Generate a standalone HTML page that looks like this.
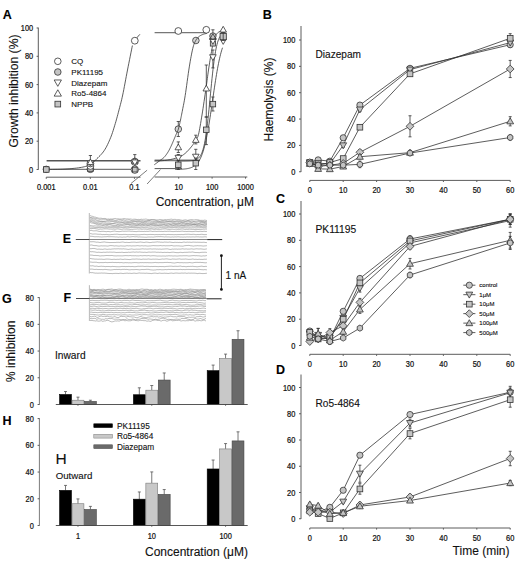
<!DOCTYPE html>
<html><head><meta charset="utf-8"><style>
html,body{margin:0;padding:0;background:#fff;}
body{width:520px;height:562px;overflow:hidden;font-family:"Liberation Sans", sans-serif;}
svg{display:block;}
text{stroke:#111;stroke-width:0.12px;}
.t{fill:#111;stroke-width:0.22px;}
</style></head><body>
<svg width="520" height="562" viewBox="0 0 520 562" font-family="'Liberation Sans', sans-serif">
<rect width="520" height="562" fill="#fff"/>
<text x="7.20" y="19.48" font-size="12.5" text-anchor="middle" font-weight="bold" fill="#000" >A</text>
<text x="267.20" y="19.17" font-size="12.5" text-anchor="middle" font-weight="bold" fill="#000" >B</text>
<text x="280.60" y="203.17" font-size="12.5" text-anchor="middle" font-weight="bold" fill="#000" >C</text>
<text x="280.60" y="373.88" font-size="12.5" text-anchor="middle" font-weight="bold" fill="#000" >D</text>
<text x="67.00" y="243.28" font-size="12.5" text-anchor="middle" font-weight="bold" fill="#000" >E</text>
<text x="67.40" y="302.28" font-size="12.5" text-anchor="middle" font-weight="bold" fill="#000" >F</text>
<text x="6.80" y="303.48" font-size="12.5" text-anchor="middle" font-weight="bold" fill="#000" >G</text>
<text x="6.90" y="425.48" font-size="12.5" text-anchor="middle" font-weight="bold" fill="#000" >H</text>
<line x1="38.30" y1="27.60" x2="38.30" y2="169.80" stroke="#5c5c5c" stroke-width="1.0" />
<line x1="36.60" y1="169.50" x2="38.30" y2="169.50" stroke="#5c5c5c" stroke-width="1.0" />
<text transform="translate(33.20,172.54) scale(0.93,1.06)" font-size="8.0" text-anchor="end" class="t">0</text>
<line x1="36.60" y1="141.20" x2="38.30" y2="141.20" stroke="#5c5c5c" stroke-width="1.0" />
<text transform="translate(33.20,144.24) scale(0.93,1.06)" font-size="8.0" text-anchor="end" class="t">20</text>
<line x1="36.60" y1="112.90" x2="38.30" y2="112.90" stroke="#5c5c5c" stroke-width="1.0" />
<text transform="translate(33.20,115.94) scale(0.93,1.06)" font-size="8.0" text-anchor="end" class="t">40</text>
<line x1="36.60" y1="84.60" x2="38.30" y2="84.60" stroke="#5c5c5c" stroke-width="1.0" />
<text transform="translate(33.20,87.64) scale(0.93,1.06)" font-size="8.0" text-anchor="end" class="t">60</text>
<line x1="36.60" y1="56.30" x2="38.30" y2="56.30" stroke="#5c5c5c" stroke-width="1.0" />
<text transform="translate(33.20,59.34) scale(0.93,1.06)" font-size="8.0" text-anchor="end" class="t">80</text>
<line x1="36.60" y1="28.00" x2="38.30" y2="28.00" stroke="#5c5c5c" stroke-width="1.0" />
<text transform="translate(33.20,31.04) scale(0.93,1.06)" font-size="8.0" text-anchor="end" class="t">100</text>
<line x1="46.25" y1="177.20" x2="140.50" y2="177.20" stroke="#5c5c5c" stroke-width="1.0" />
<line x1="154.60" y1="177.00" x2="247.30" y2="177.00" stroke="#5c5c5c" stroke-width="1.0" />
<line x1="46.25" y1="177.20" x2="46.25" y2="178.80" stroke="#5c5c5c" stroke-width="1.0" />
<text transform="translate(46.25,189.54) scale(0.93,1.06)" font-size="8.0" text-anchor="middle" class="t">0.001</text>
<line x1="90.35" y1="177.20" x2="90.35" y2="178.80" stroke="#5c5c5c" stroke-width="1.0" />
<text transform="translate(90.35,189.54) scale(0.93,1.06)" font-size="8.0" text-anchor="middle" class="t">0.01</text>
<line x1="134.45" y1="177.20" x2="134.45" y2="178.80" stroke="#5c5c5c" stroke-width="1.0" />
<text transform="translate(134.45,189.54) scale(0.93,1.06)" font-size="8.0" text-anchor="middle" class="t">0.1</text>
<line x1="178.70" y1="177.00" x2="178.70" y2="178.60" stroke="#5c5c5c" stroke-width="1.0" />
<text transform="translate(178.70,189.74) scale(0.93,1.06)" font-size="8.0" text-anchor="middle" class="t">10</text>
<line x1="212.10" y1="177.00" x2="212.10" y2="178.60" stroke="#5c5c5c" stroke-width="1.0" />
<text transform="translate(212.10,189.74) scale(0.93,1.06)" font-size="8.0" text-anchor="middle" class="t">100</text>
<line x1="245.50" y1="177.00" x2="245.50" y2="178.60" stroke="#5c5c5c" stroke-width="1.0" />
<text transform="translate(245.50,189.74) scale(0.93,1.06)" font-size="8.0" text-anchor="middle" class="t">1000</text>
<line x1="131.00" y1="183.50" x2="147.10" y2="170.20" stroke="#5c5c5c" stroke-width="0.8" />
<line x1="147.10" y1="184.00" x2="160.40" y2="169.60" stroke="#5c5c5c" stroke-width="0.8" />
<text x="155.70" y="205.80" font-size="12" text-anchor="start" font-weight="normal" fill="#111" >Concentration, μM</text>
<text transform="translate(18.3,91.0) rotate(-90)" font-size="12.2" text-anchor="middle" fill="#111">Growth inhibition (%)</text>
<line x1="46.60" y1="160.80" x2="140.50" y2="160.80" stroke="#555" stroke-width="1.6" />
<line x1="47.00" y1="169.30" x2="140.50" y2="169.30" stroke="#444" stroke-width="0.9" />
<polyline points="47.00,169.40 48.41,169.38 50.30,169.35 52.56,169.32 55.06,169.29 57.68,169.24 60.29,169.18 62.77,169.10 65.00,169.00 67.05,168.88 69.08,168.75 71.06,168.61 73.00,168.45 74.87,168.27 76.67,168.07 78.38,167.85 80.00,167.60 81.52,167.33 82.95,167.05 84.29,166.76 85.56,166.44 86.76,166.09 87.90,165.70 88.98,165.27 90.00,164.80 90.93,164.29 91.73,163.76 92.45,163.19 93.11,162.59 93.76,161.93 94.44,161.22 95.17,160.45 96.00,159.60 96.93,158.68 97.94,157.71 98.99,156.67 100.08,155.58 101.16,154.43 102.23,153.21 103.25,151.94 104.20,150.60 105.10,149.18 105.97,147.68 106.81,146.11 107.62,144.47 108.40,142.80 109.16,141.11 109.89,139.40 110.60,137.70 111.27,135.99 111.91,134.24 112.52,132.47 113.11,130.69 113.67,128.89 114.22,127.09 114.76,125.29 115.30,123.50 115.83,121.72 116.34,119.93 116.84,118.14 117.32,116.35 117.80,114.56 118.27,112.77 118.74,110.98 119.20,109.20 119.65,107.49 120.07,105.90 120.48,104.34 120.89,102.77 121.31,101.11 121.74,99.31 122.20,97.29 122.70,95.00 123.24,92.39 123.81,89.50 124.40,86.39 125.01,83.14 125.64,79.81 126.26,76.47 126.89,73.17 127.50,70.00 128.14,66.75 128.83,63.27 129.55,59.70 130.25,56.19 130.92,52.87 131.52,49.89 132.02,47.39 132.40,45.50" fill="none" stroke="#333" stroke-width="0.8" stroke-linejoin="round" />
<line x1="136.60" y1="38.00" x2="139.90" y2="34.30" stroke="#333" stroke-width="0.8" />
<line x1="154.60" y1="160.40" x2="200.00" y2="160.40" stroke="#7a7a7a" stroke-width="1.9" />
<line x1="154.60" y1="168.60" x2="182.00" y2="168.60" stroke="#444" stroke-width="0.9" />
<line x1="154.60" y1="32.70" x2="206.00" y2="32.70" stroke="#777" stroke-width="1.3" />
<polyline points="154.50,161.00 155.38,160.96 156.55,160.92 157.95,160.88 159.50,160.82 161.15,160.75 162.82,160.64 164.46,160.49 166.00,160.30 167.51,160.06 169.08,159.78 170.68,159.46 172.28,159.11 173.84,158.73 175.34,158.33 176.74,157.92 178.00,157.50 179.11,157.08 180.10,156.66 181.00,156.24 181.82,155.79 182.60,155.30 183.37,154.77 184.16,154.17 185.00,153.50 185.89,152.73 186.80,151.86 187.73,150.92 188.64,149.94 189.54,148.94 190.39,147.95 191.18,146.99 191.90,146.10 192.54,145.26 193.11,144.45 193.63,143.65 194.11,142.87 194.56,142.11 194.98,141.37 195.39,140.63 195.80,139.90 196.19,139.28 196.54,138.82 196.87,138.44 197.18,138.03 197.48,137.52 197.80,136.82 198.13,135.84 198.50,134.50 198.90,132.79 199.31,130.79 199.73,128.54 200.17,126.08 200.62,123.46 201.07,120.71 201.53,117.88 202.00,115.00 202.49,111.95 203.00,108.63 203.53,105.15 204.06,101.57 204.59,98.01 205.09,94.55 205.57,91.28 206.00,88.30 206.38,85.59 206.73,83.06 207.05,80.68 207.35,78.42 207.64,76.25 207.92,74.15 208.20,72.07 208.50,70.00 208.80,67.95 209.10,65.97 209.40,64.05 209.69,62.17 209.99,60.33 210.29,58.53 210.59,56.76 210.90,55.00 211.21,53.25 211.51,51.50 211.82,49.78 212.13,48.09 212.45,46.46 212.78,44.89 213.13,43.40 213.50,42.00 213.88,40.68 214.26,39.43 214.66,38.24 215.07,37.12 215.50,36.09 215.96,35.13 216.46,34.27 217.00,33.50 217.63,32.84 218.36,32.29 219.16,31.84 219.97,31.47 220.75,31.16 221.46,30.91 222.06,30.69 222.50,30.50" fill="none" stroke="#333" stroke-width="0.8" stroke-linejoin="round" />
<polyline points="180.00,161.00 180.50,161.00 181.00,161.00 181.50,161.00 182.00,160.99 182.50,160.99 183.00,160.99 183.50,160.99 184.00,160.98 184.50,160.98 185.00,160.97 185.50,160.96 186.00,160.96 186.50,160.95 187.00,160.93 187.50,160.92 188.00,160.91 188.50,160.89 189.00,160.87 189.50,160.84 190.00,160.81 190.50,160.78 191.00,160.74 191.50,160.69 192.00,160.64 192.50,160.57 193.00,160.50 193.50,160.41 194.00,160.31 194.50,160.19 195.00,160.04 195.50,159.88 196.00,159.68 196.50,159.46 197.00,159.19 197.50,158.88 198.00,158.52 198.50,158.10 199.00,157.60 199.50,157.03 200.00,156.36 200.50,155.59 201.00,154.70 201.50,153.66 202.00,152.47 202.50,151.10 203.00,149.53 203.50,147.75 204.00,145.71 204.50,143.42 205.00,140.84 205.50,137.96 206.00,134.76 206.50,131.25 207.00,127.42 207.50,123.28 208.00,118.85 208.50,114.17 209.00,109.27 209.50,104.21 210.00,99.04 210.50,93.84 211.00,88.66 211.50,83.57 212.00,78.64 212.50,73.91 213.00,69.42 213.50,65.23 214.00,61.33 214.50,57.75 215.00,54.50 215.50,51.55 216.00,48.91 216.50,46.56 217.00,44.48 217.50,42.64 218.00,41.03 218.50,39.63 219.00,38.40 219.50,37.34 220.00,36.42" fill="none" stroke="#333" stroke-width="0.8" stroke-linejoin="round" />
<polyline points="175.00,169.42 175.50,169.42 176.00,169.41 176.50,169.40 177.00,169.39 177.50,169.37 178.00,169.36 178.50,169.35 179.00,169.33 179.50,169.31 180.00,169.29 180.50,169.27 181.00,169.25 181.50,169.22 182.00,169.19 182.50,169.16 183.00,169.12 183.50,169.09 184.00,169.04 184.50,168.99 185.00,168.94 185.50,168.88 186.00,168.82 186.50,168.75 187.00,168.67 187.50,168.58 188.00,168.49 188.50,168.38 189.00,168.26 189.50,168.14 190.00,167.99 190.50,167.84 191.00,167.67 191.50,167.48 192.00,167.27 192.50,167.04 193.00,166.78 193.50,166.50 194.00,166.20 194.50,165.86 195.00,165.49 195.50,165.08 196.00,164.63 196.50,164.14 197.00,163.60 197.50,163.01 198.00,162.37 198.50,161.66 199.00,160.89 199.50,160.05 200.00,159.13 200.50,158.13 201.00,157.04 201.50,155.86 202.00,154.59 202.50,153.21 203.00,151.72 203.50,150.11 204.00,148.38 204.50,146.53 205.00,144.56 205.50,142.45 206.00,140.21 206.50,137.84 207.00,135.33 207.50,132.70 208.00,129.94 208.50,127.06 209.00,124.06 209.50,120.96 210.00,117.77 210.50,114.49 211.00,111.15 211.50,107.75 212.00,104.31 212.50,100.86 213.00,97.40 213.50,93.95 214.00,90.54 214.50,87.17 215.00,83.87 215.50,80.64 216.00,77.50 216.50,74.46 217.00,71.53 217.50,68.72 218.00,66.04 218.50,63.48 219.00,61.05 219.50,58.76 220.00,56.60 220.50,54.57 221.00,52.67 221.50,50.90 222.00,49.24 222.50,47.71" fill="none" stroke="#333" stroke-width="0.8" stroke-linejoin="round" />
<circle cx="46.30" cy="169.30" r="3.20" fill="#c4c4c4" stroke="#333" stroke-width="0.8"/>
<rect x="43.54" y="166.74" width="5.52" height="5.52" fill="#c4c4c4" stroke="#333" stroke-width="0.8"/>
<line x1="90.40" y1="155.50" x2="90.40" y2="160.50" stroke="#333" stroke-width="0.8" />
<line x1="88.80" y1="155.50" x2="92.00" y2="155.50" stroke="#333" stroke-width="0.8" />
<line x1="88.80" y1="160.50" x2="92.00" y2="160.50" stroke="#333" stroke-width="0.8" />
<circle cx="90.40" cy="169.20" r="3.40" fill="#c4c4c4" stroke="#333" stroke-width="0.8"/>
<rect x="87.73" y="165.93" width="5.34" height="5.34" fill="#c4c4c4" stroke="#333" stroke-width="0.8"/>
<circle cx="90.40" cy="166.00" r="3.40" fill="#ffffff" stroke="#333" stroke-width="0.8"/>
<circle cx="90.40" cy="163.50" r="3.40" fill="#ffffff" stroke="#333" stroke-width="0.8"/>
<polygon points="87.21,160.61 93.59,160.61 90.40,166.19" fill="#ffffff" stroke="#333" stroke-width="0.8"/>
<polygon points="87.21,164.59 93.59,164.59 90.40,159.01" fill="#ffffff" stroke="#333" stroke-width="0.8"/>
<line x1="134.80" y1="154.60" x2="134.80" y2="158.50" stroke="#333" stroke-width="0.8" />
<line x1="133.20" y1="154.60" x2="136.40" y2="154.60" stroke="#333" stroke-width="0.8" />
<line x1="133.20" y1="158.50" x2="136.40" y2="158.50" stroke="#333" stroke-width="0.8" />
<circle cx="134.80" cy="161.80" r="3.60" fill="#ffffff" stroke="#333" stroke-width="0.8"/>
<polygon points="131.61,163.39 137.99,163.39 134.80,157.81" fill="#ffffff" stroke="#333" stroke-width="0.8"/>
<polygon points="131.61,159.91 137.99,159.91 134.80,165.49" fill="#ffffff" stroke="#333" stroke-width="0.8"/>
<circle cx="134.80" cy="169.70" r="3.70" fill="#ffffff" stroke="#333" stroke-width="0.8"/>
<rect x="132.41" y="167.21" width="4.78" height="4.78" fill="#c4c4c4" stroke="#333" stroke-width="0.8"/>
<circle cx="134.80" cy="40.70" r="3.40" fill="#ffffff" stroke="#333" stroke-width="0.8"/>
<circle cx="178.30" cy="31.00" r="3.40" fill="#ffffff" stroke="#333" stroke-width="0.8"/>
<line x1="178.30" y1="121.50" x2="178.30" y2="136.50" stroke="#333" stroke-width="0.8" />
<line x1="176.70" y1="121.50" x2="179.90" y2="121.50" stroke="#333" stroke-width="0.8" />
<line x1="176.70" y1="136.50" x2="179.90" y2="136.50" stroke="#333" stroke-width="0.8" />
<circle cx="178.30" cy="129.10" r="3.30" fill="#d4d4d4" stroke="#333" stroke-width="0.8"/>
<line x1="178.30" y1="141.90" x2="178.30" y2="152.50" stroke="#333" stroke-width="0.8" />
<line x1="176.70" y1="141.90" x2="179.90" y2="141.90" stroke="#333" stroke-width="0.8" />
<line x1="176.70" y1="152.50" x2="179.90" y2="152.50" stroke="#333" stroke-width="0.8" />
<polygon points="175.00,149.78 181.60,149.78 178.30,144.00" fill="#ffffff" stroke="#333" stroke-width="0.8"/>
<line x1="178.30" y1="154.50" x2="178.30" y2="161.00" stroke="#333" stroke-width="0.8" />
<line x1="176.70" y1="154.50" x2="179.90" y2="154.50" stroke="#333" stroke-width="0.8" />
<line x1="176.70" y1="161.00" x2="179.90" y2="161.00" stroke="#333" stroke-width="0.8" />
<polygon points="175.00,155.33 181.60,155.33 178.30,161.10" fill="#ffffff" stroke="#333" stroke-width="0.8"/>
<line x1="178.30" y1="160.50" x2="178.30" y2="169.50" stroke="#333" stroke-width="0.8" />
<line x1="176.70" y1="160.50" x2="179.90" y2="160.50" stroke="#333" stroke-width="0.8" />
<line x1="176.70" y1="169.50" x2="179.90" y2="169.50" stroke="#333" stroke-width="0.8" />
<rect x="175.54" y="162.04" width="5.52" height="5.52" fill="#c4c4c4" stroke="#333" stroke-width="0.8"/>
<circle cx="195.90" cy="40.50" r="3.30" fill="#d4d4d4" stroke="#333" stroke-width="0.8"/>
<line x1="195.80" y1="135.20" x2="195.80" y2="143.90" stroke="#333" stroke-width="0.8" />
<line x1="194.20" y1="135.20" x2="197.40" y2="135.20" stroke="#333" stroke-width="0.8" />
<line x1="194.20" y1="143.90" x2="197.40" y2="143.90" stroke="#333" stroke-width="0.8" />
<polygon points="192.50,142.38 199.10,142.38 195.80,136.60" fill="#ffffff" stroke="#333" stroke-width="0.8"/>
<line x1="195.80" y1="149.30" x2="195.80" y2="162.00" stroke="#333" stroke-width="0.8" />
<line x1="194.20" y1="149.30" x2="197.40" y2="149.30" stroke="#333" stroke-width="0.8" />
<line x1="194.20" y1="162.00" x2="197.40" y2="162.00" stroke="#333" stroke-width="0.8" />
<polygon points="192.50,154.22 199.10,154.22 195.80,160.00" fill="#ffffff" stroke="#333" stroke-width="0.8"/>
<line x1="195.80" y1="158.00" x2="195.80" y2="169.50" stroke="#333" stroke-width="0.8" />
<line x1="194.20" y1="158.00" x2="197.40" y2="158.00" stroke="#333" stroke-width="0.8" />
<line x1="194.20" y1="169.50" x2="197.40" y2="169.50" stroke="#333" stroke-width="0.8" />
<rect x="193.04" y="160.44" width="5.52" height="5.52" fill="#c4c4c4" stroke="#333" stroke-width="0.8"/>
<circle cx="206.30" cy="29.80" r="3.40" fill="#ffffff" stroke="#333" stroke-width="0.8"/>
<line x1="206.30" y1="65.00" x2="206.30" y2="117.00" stroke="#333" stroke-width="0.8" />
<line x1="204.70" y1="65.00" x2="207.90" y2="65.00" stroke="#333" stroke-width="0.8" />
<line x1="204.70" y1="117.00" x2="207.90" y2="117.00" stroke="#333" stroke-width="0.8" />
<polygon points="203.00,90.97 209.60,90.97 206.30,85.20" fill="#ffffff" stroke="#333" stroke-width="0.8"/>
<line x1="206.30" y1="117.00" x2="206.30" y2="144.60" stroke="#333" stroke-width="0.8" />
<line x1="204.70" y1="117.00" x2="207.90" y2="117.00" stroke="#333" stroke-width="0.8" />
<line x1="204.70" y1="144.60" x2="207.90" y2="144.60" stroke="#333" stroke-width="0.8" />
<rect x="203.54" y="127.04" width="5.52" height="5.52" fill="#c4c4c4" stroke="#333" stroke-width="0.8"/>
<line x1="212.90" y1="29.80" x2="212.90" y2="37.00" stroke="#333" stroke-width="0.8" />
<line x1="211.30" y1="29.80" x2="214.50" y2="29.80" stroke="#333" stroke-width="0.8" />
<line x1="211.30" y1="37.00" x2="214.50" y2="37.00" stroke="#333" stroke-width="0.8" />
<line x1="212.90" y1="50.00" x2="212.90" y2="67.90" stroke="#333" stroke-width="0.8" />
<line x1="211.30" y1="50.00" x2="214.50" y2="50.00" stroke="#333" stroke-width="0.8" />
<line x1="211.30" y1="67.90" x2="214.50" y2="67.90" stroke="#333" stroke-width="0.8" />
<polygon points="209.60,54.73 216.20,54.73 212.90,60.50" fill="#ffffff" stroke="#333" stroke-width="0.8"/>
<line x1="212.90" y1="97.00" x2="212.90" y2="111.00" stroke="#333" stroke-width="0.8" />
<line x1="211.30" y1="97.00" x2="214.50" y2="97.00" stroke="#333" stroke-width="0.8" />
<line x1="211.30" y1="111.00" x2="214.50" y2="111.00" stroke="#333" stroke-width="0.8" />
<rect x="210.14" y="101.34" width="5.52" height="5.52" fill="#c4c4c4" stroke="#333" stroke-width="0.8"/>
<rect x="210.32" y="40.92" width="5.15" height="5.15" fill="#c4c4c4" stroke="#333" stroke-width="0.8"/>
<polygon points="209.60,38.52 216.20,38.52 212.90,44.30" fill="#ffffff" stroke="#333" stroke-width="0.8"/>
<circle cx="212.90" cy="36.00" r="3.20" fill="#c4c4c4" stroke="#333" stroke-width="0.8"/>
<polygon points="209.60,39.48 216.20,39.48 212.90,33.70" fill="none" stroke="#333" stroke-width="0.8"/>
<polygon points="220.12,38.99 226.28,38.99 223.20,44.38" fill="#ffffff" stroke="#333" stroke-width="0.8"/>
<rect x="220.07" y="33.47" width="6.26" height="6.26" fill="#c4c4c4" stroke="#333" stroke-width="0.8"/>
<line x1="223.20" y1="32.50" x2="223.20" y2="40.50" stroke="#333" stroke-width="0.8" />
<line x1="221.00" y1="32.50" x2="225.40" y2="32.50" stroke="#333" stroke-width="0.8" />
<line x1="221.00" y1="40.50" x2="225.40" y2="40.50" stroke="#333" stroke-width="0.8" />
<polygon points="219.90,32.08 226.50,32.08 223.20,26.30" fill="#ffffff" stroke="#333" stroke-width="0.8"/>
<polyline points="154.20,164.80 154.69,164.44 155.37,163.94 156.17,163.35 157.05,162.70 157.96,162.02 158.86,161.36 159.69,160.74 160.40,160.20 161.01,159.75 161.55,159.36 162.06,159.00 162.54,158.66 163.00,158.31 163.45,157.94 163.92,157.51 164.40,157.00 164.91,156.42 165.42,155.79 165.94,155.11 166.45,154.40 166.96,153.66 167.46,152.91 167.94,152.15 168.40,151.40 168.84,150.63 169.28,149.84 169.69,149.02 170.10,148.20 170.49,147.38 170.88,146.56 171.24,145.77 171.60,145.00 171.94,144.26 172.26,143.54 172.56,142.84 172.85,142.15 173.14,141.46 173.42,140.78 173.71,140.09 174.00,139.40 174.30,138.69 174.61,137.98 174.92,137.26 175.22,136.55 175.53,135.84 175.83,135.14 176.12,134.46 176.40,133.80 176.67,133.19 176.93,132.64 177.17,132.13 177.42,131.61 177.66,131.07 177.90,130.48 178.15,129.80 178.40,129.00 178.66,128.08 178.92,127.07 179.18,125.98 179.45,124.83 179.72,123.63 179.98,122.42 180.24,121.20 180.50,120.00 180.75,118.83 180.99,117.68 181.23,116.52 181.46,115.34 181.70,114.12 181.95,112.84 182.22,111.47 182.50,110.00 182.79,108.50 183.09,107.02 183.40,105.51 183.72,103.91 184.05,102.17 184.41,100.22 184.79,98.02 185.20,95.50 185.65,92.53 186.14,89.10 186.66,85.36 187.20,81.45 187.74,77.50 188.28,73.67 188.81,70.09 189.30,66.90 189.77,64.03 190.23,61.31 190.68,58.75 191.13,56.35 191.56,54.11 191.98,52.04 192.40,50.13 192.80,48.40 193.19,46.89 193.55,45.61 193.91,44.53 194.25,43.61 194.59,42.79 194.95,42.05 195.31,41.33 195.70,40.60 196.10,39.89 196.51,39.25 196.93,38.67 197.36,38.15 197.80,37.67 198.25,37.23 198.72,36.80 199.20,36.40 199.70,36.02 200.24,35.68 200.79,35.37 201.35,35.09 201.91,34.83 202.46,34.60 203.00,34.39 203.50,34.20 204.00,34.03 204.51,33.88 205.02,33.76 205.52,33.66 205.98,33.58 206.39,33.51 206.74,33.45 207.00,33.40" fill="none" stroke="#333" stroke-width="0.8" stroke-linejoin="round" />
<circle cx="57.80" cy="61.30" r="3.30" fill="#ffffff" stroke="#333" stroke-width="0.8"/>
<text x="71.30" y="64.16" font-size="8" text-anchor="start" font-weight="normal" fill="#111" >CQ</text>
<circle cx="57.80" cy="72.00" r="3.30" fill="#c4c4c4" stroke="#333" stroke-width="0.8"/>
<text x="71.30" y="74.86" font-size="8" text-anchor="start" font-weight="normal" fill="#111" >PK11195</text>
<polygon points="54.17,79.98 61.43,79.98 57.80,86.33" fill="#ffffff" stroke="#333" stroke-width="0.8"/>
<text x="71.30" y="85.56" font-size="8" text-anchor="start" font-weight="normal" fill="#111" >Diazepam</text>
<polygon points="54.17,96.12 61.43,96.12 57.80,89.77" fill="#ffffff" stroke="#333" stroke-width="0.8"/>
<text x="71.30" y="96.26" font-size="8" text-anchor="start" font-weight="normal" fill="#111" >Ro5-4864</text>
<rect x="54.95" y="101.25" width="5.70" height="5.70" fill="#c4c4c4" stroke="#333" stroke-width="0.8"/>
<text x="71.30" y="106.96" font-size="8" text-anchor="start" font-weight="normal" fill="#111" >NPPB</text>
<line x1="301.00" y1="26.00" x2="301.00" y2="172.05" stroke="#5c5c5c" stroke-width="1.0" />
<line x1="299.00" y1="171.75" x2="301.00" y2="171.75" stroke="#5c5c5c" stroke-width="1.0" />
<text transform="translate(295.30,174.79) scale(0.93,1.06)" font-size="8.0" text-anchor="end" class="t">0</text>
<line x1="299.00" y1="145.40" x2="301.00" y2="145.40" stroke="#5c5c5c" stroke-width="1.0" />
<text transform="translate(295.30,148.44) scale(0.93,1.06)" font-size="8.0" text-anchor="end" class="t">20</text>
<line x1="299.00" y1="119.05" x2="301.00" y2="119.05" stroke="#5c5c5c" stroke-width="1.0" />
<text transform="translate(295.30,122.09) scale(0.93,1.06)" font-size="8.0" text-anchor="end" class="t">40</text>
<line x1="299.00" y1="92.70" x2="301.00" y2="92.70" stroke="#5c5c5c" stroke-width="1.0" />
<text transform="translate(295.30,95.74) scale(0.93,1.06)" font-size="8.0" text-anchor="end" class="t">60</text>
<line x1="299.00" y1="66.35" x2="301.00" y2="66.35" stroke="#5c5c5c" stroke-width="1.0" />
<text transform="translate(295.30,69.39) scale(0.93,1.06)" font-size="8.0" text-anchor="end" class="t">80</text>
<line x1="299.00" y1="40.00" x2="301.00" y2="40.00" stroke="#5c5c5c" stroke-width="1.0" />
<text transform="translate(295.30,43.04) scale(0.93,1.06)" font-size="8.0" text-anchor="end" class="t">100</text>
<line x1="309.80" y1="180.40" x2="510.20" y2="180.40" stroke="#5c5c5c" stroke-width="1.0" />
<line x1="309.80" y1="180.40" x2="309.80" y2="182.00" stroke="#5c5c5c" stroke-width="1.0" />
<text transform="translate(309.80,193.44) scale(0.93,1.06)" font-size="8.0" text-anchor="middle" class="t">0</text>
<line x1="343.20" y1="180.40" x2="343.20" y2="182.00" stroke="#5c5c5c" stroke-width="1.0" />
<text transform="translate(343.20,193.44) scale(0.93,1.06)" font-size="8.0" text-anchor="middle" class="t">10</text>
<line x1="376.60" y1="180.40" x2="376.60" y2="182.00" stroke="#5c5c5c" stroke-width="1.0" />
<text transform="translate(376.60,193.44) scale(0.93,1.06)" font-size="8.0" text-anchor="middle" class="t">20</text>
<line x1="410.00" y1="180.40" x2="410.00" y2="182.00" stroke="#5c5c5c" stroke-width="1.0" />
<text transform="translate(410.00,193.44) scale(0.93,1.06)" font-size="8.0" text-anchor="middle" class="t">30</text>
<line x1="443.40" y1="180.40" x2="443.40" y2="182.00" stroke="#5c5c5c" stroke-width="1.0" />
<text transform="translate(443.40,193.44) scale(0.93,1.06)" font-size="8.0" text-anchor="middle" class="t">40</text>
<line x1="476.80" y1="180.40" x2="476.80" y2="182.00" stroke="#5c5c5c" stroke-width="1.0" />
<text transform="translate(476.80,193.44) scale(0.93,1.06)" font-size="8.0" text-anchor="middle" class="t">50</text>
<line x1="510.20" y1="180.40" x2="510.20" y2="182.00" stroke="#5c5c5c" stroke-width="1.0" />
<text transform="translate(510.20,193.44) scale(0.93,1.06)" font-size="8.0" text-anchor="middle" class="t">60</text>
<polyline points="309.80,162.53 318.15,159.89 329.84,161.21 343.20,137.76 359.90,105.08 410.00,68.33 510.20,44.74" fill="none" stroke="#333" stroke-width="0.8" stroke-linejoin="round" />
<polyline points="309.80,162.53 318.15,163.19 329.84,163.84 343.20,145.40 359.90,109.56 410.00,69.64 510.20,42.64" fill="none" stroke="#333" stroke-width="0.8" stroke-linejoin="round" />
<polyline points="309.80,162.53 318.15,165.16 329.84,162.53 343.20,158.57 359.90,127.22 410.00,73.86 510.20,38.29" fill="none" stroke="#333" stroke-width="0.8" stroke-linejoin="round" />
<polyline points="309.80,162.53 318.15,166.48 329.84,165.16 343.20,163.45 359.90,152.25 410.00,126.30 510.20,68.99" fill="none" stroke="#333" stroke-width="0.8" stroke-linejoin="round" />
<polyline points="309.80,163.84 318.15,168.85 329.84,169.12 343.20,166.48 359.90,156.73 410.00,152.65 510.20,121.29" fill="none" stroke="#333" stroke-width="0.8" stroke-linejoin="round" />
<polyline points="309.80,163.84 318.15,165.16 329.84,165.16 343.20,165.16 359.90,164.37 410.00,153.04 510.20,137.50" fill="none" stroke="#333" stroke-width="0.8" stroke-linejoin="round" />
<line x1="309.80" y1="161.21" x2="309.80" y2="163.84" stroke="#333" stroke-width="0.8" />
<line x1="308.30" y1="161.21" x2="311.30" y2="161.21" stroke="#333" stroke-width="0.8" />
<line x1="308.30" y1="163.84" x2="311.30" y2="163.84" stroke="#333" stroke-width="0.8" />
<line x1="318.15" y1="158.57" x2="318.15" y2="161.21" stroke="#333" stroke-width="0.8" />
<line x1="316.65" y1="158.57" x2="319.65" y2="158.57" stroke="#333" stroke-width="0.8" />
<line x1="316.65" y1="161.21" x2="319.65" y2="161.21" stroke="#333" stroke-width="0.8" />
<line x1="329.84" y1="159.89" x2="329.84" y2="162.53" stroke="#333" stroke-width="0.8" />
<line x1="328.34" y1="159.89" x2="331.34" y2="159.89" stroke="#333" stroke-width="0.8" />
<line x1="328.34" y1="162.53" x2="331.34" y2="162.53" stroke="#333" stroke-width="0.8" />
<line x1="343.20" y1="136.44" x2="343.20" y2="139.08" stroke="#333" stroke-width="0.8" />
<line x1="341.70" y1="136.44" x2="344.70" y2="136.44" stroke="#333" stroke-width="0.8" />
<line x1="341.70" y1="139.08" x2="344.70" y2="139.08" stroke="#333" stroke-width="0.8" />
<line x1="359.90" y1="103.11" x2="359.90" y2="107.06" stroke="#333" stroke-width="0.8" />
<line x1="358.40" y1="103.11" x2="361.40" y2="103.11" stroke="#333" stroke-width="0.8" />
<line x1="358.40" y1="107.06" x2="361.40" y2="107.06" stroke="#333" stroke-width="0.8" />
<line x1="410.00" y1="66.35" x2="410.00" y2="70.30" stroke="#333" stroke-width="0.8" />
<line x1="408.50" y1="66.35" x2="411.50" y2="66.35" stroke="#333" stroke-width="0.8" />
<line x1="408.50" y1="70.30" x2="411.50" y2="70.30" stroke="#333" stroke-width="0.8" />
<line x1="510.20" y1="42.11" x2="510.20" y2="47.38" stroke="#333" stroke-width="0.8" />
<line x1="508.70" y1="42.11" x2="511.70" y2="42.11" stroke="#333" stroke-width="0.8" />
<line x1="508.70" y1="47.38" x2="511.70" y2="47.38" stroke="#333" stroke-width="0.8" />
<line x1="309.80" y1="161.21" x2="309.80" y2="163.84" stroke="#333" stroke-width="0.8" />
<line x1="308.30" y1="161.21" x2="311.30" y2="161.21" stroke="#333" stroke-width="0.8" />
<line x1="308.30" y1="163.84" x2="311.30" y2="163.84" stroke="#333" stroke-width="0.8" />
<line x1="318.15" y1="161.87" x2="318.15" y2="164.50" stroke="#333" stroke-width="0.8" />
<line x1="316.65" y1="161.87" x2="319.65" y2="161.87" stroke="#333" stroke-width="0.8" />
<line x1="316.65" y1="164.50" x2="319.65" y2="164.50" stroke="#333" stroke-width="0.8" />
<line x1="329.84" y1="162.53" x2="329.84" y2="165.16" stroke="#333" stroke-width="0.8" />
<line x1="328.34" y1="162.53" x2="331.34" y2="162.53" stroke="#333" stroke-width="0.8" />
<line x1="328.34" y1="165.16" x2="331.34" y2="165.16" stroke="#333" stroke-width="0.8" />
<line x1="343.20" y1="143.42" x2="343.20" y2="147.38" stroke="#333" stroke-width="0.8" />
<line x1="341.70" y1="143.42" x2="344.70" y2="143.42" stroke="#333" stroke-width="0.8" />
<line x1="341.70" y1="147.38" x2="344.70" y2="147.38" stroke="#333" stroke-width="0.8" />
<line x1="359.90" y1="107.59" x2="359.90" y2="111.54" stroke="#333" stroke-width="0.8" />
<line x1="358.40" y1="107.59" x2="361.40" y2="107.59" stroke="#333" stroke-width="0.8" />
<line x1="358.40" y1="111.54" x2="361.40" y2="111.54" stroke="#333" stroke-width="0.8" />
<line x1="410.00" y1="67.67" x2="410.00" y2="71.62" stroke="#333" stroke-width="0.8" />
<line x1="408.50" y1="67.67" x2="411.50" y2="67.67" stroke="#333" stroke-width="0.8" />
<line x1="408.50" y1="71.62" x2="411.50" y2="71.62" stroke="#333" stroke-width="0.8" />
<line x1="510.20" y1="40.00" x2="510.20" y2="45.27" stroke="#333" stroke-width="0.8" />
<line x1="508.70" y1="40.00" x2="511.70" y2="40.00" stroke="#333" stroke-width="0.8" />
<line x1="508.70" y1="45.27" x2="511.70" y2="45.27" stroke="#333" stroke-width="0.8" />
<line x1="309.80" y1="161.21" x2="309.80" y2="163.84" stroke="#333" stroke-width="0.8" />
<line x1="308.30" y1="161.21" x2="311.30" y2="161.21" stroke="#333" stroke-width="0.8" />
<line x1="308.30" y1="163.84" x2="311.30" y2="163.84" stroke="#333" stroke-width="0.8" />
<line x1="318.15" y1="163.84" x2="318.15" y2="166.48" stroke="#333" stroke-width="0.8" />
<line x1="316.65" y1="163.84" x2="319.65" y2="163.84" stroke="#333" stroke-width="0.8" />
<line x1="316.65" y1="166.48" x2="319.65" y2="166.48" stroke="#333" stroke-width="0.8" />
<line x1="329.84" y1="161.21" x2="329.84" y2="163.84" stroke="#333" stroke-width="0.8" />
<line x1="328.34" y1="161.21" x2="331.34" y2="161.21" stroke="#333" stroke-width="0.8" />
<line x1="328.34" y1="163.84" x2="331.34" y2="163.84" stroke="#333" stroke-width="0.8" />
<line x1="343.20" y1="157.26" x2="343.20" y2="159.89" stroke="#333" stroke-width="0.8" />
<line x1="341.70" y1="157.26" x2="344.70" y2="157.26" stroke="#333" stroke-width="0.8" />
<line x1="341.70" y1="159.89" x2="344.70" y2="159.89" stroke="#333" stroke-width="0.8" />
<line x1="359.90" y1="125.24" x2="359.90" y2="129.19" stroke="#333" stroke-width="0.8" />
<line x1="358.40" y1="125.24" x2="361.40" y2="125.24" stroke="#333" stroke-width="0.8" />
<line x1="358.40" y1="129.19" x2="361.40" y2="129.19" stroke="#333" stroke-width="0.8" />
<line x1="410.00" y1="71.88" x2="410.00" y2="75.84" stroke="#333" stroke-width="0.8" />
<line x1="408.50" y1="71.88" x2="411.50" y2="71.88" stroke="#333" stroke-width="0.8" />
<line x1="408.50" y1="75.84" x2="411.50" y2="75.84" stroke="#333" stroke-width="0.8" />
<line x1="510.20" y1="33.68" x2="510.20" y2="42.90" stroke="#333" stroke-width="0.8" />
<line x1="508.70" y1="33.68" x2="511.70" y2="33.68" stroke="#333" stroke-width="0.8" />
<line x1="508.70" y1="42.90" x2="511.70" y2="42.90" stroke="#333" stroke-width="0.8" />
<line x1="309.80" y1="161.21" x2="309.80" y2="163.84" stroke="#333" stroke-width="0.8" />
<line x1="308.30" y1="161.21" x2="311.30" y2="161.21" stroke="#333" stroke-width="0.8" />
<line x1="308.30" y1="163.84" x2="311.30" y2="163.84" stroke="#333" stroke-width="0.8" />
<line x1="318.15" y1="165.16" x2="318.15" y2="167.80" stroke="#333" stroke-width="0.8" />
<line x1="316.65" y1="165.16" x2="319.65" y2="165.16" stroke="#333" stroke-width="0.8" />
<line x1="316.65" y1="167.80" x2="319.65" y2="167.80" stroke="#333" stroke-width="0.8" />
<line x1="329.84" y1="163.84" x2="329.84" y2="166.48" stroke="#333" stroke-width="0.8" />
<line x1="328.34" y1="163.84" x2="331.34" y2="163.84" stroke="#333" stroke-width="0.8" />
<line x1="328.34" y1="166.48" x2="331.34" y2="166.48" stroke="#333" stroke-width="0.8" />
<line x1="343.20" y1="162.13" x2="343.20" y2="164.77" stroke="#333" stroke-width="0.8" />
<line x1="341.70" y1="162.13" x2="344.70" y2="162.13" stroke="#333" stroke-width="0.8" />
<line x1="341.70" y1="164.77" x2="344.70" y2="164.77" stroke="#333" stroke-width="0.8" />
<line x1="359.90" y1="149.62" x2="359.90" y2="154.89" stroke="#333" stroke-width="0.8" />
<line x1="358.40" y1="149.62" x2="361.40" y2="149.62" stroke="#333" stroke-width="0.8" />
<line x1="358.40" y1="154.89" x2="361.40" y2="154.89" stroke="#333" stroke-width="0.8" />
<line x1="410.00" y1="115.76" x2="410.00" y2="136.84" stroke="#333" stroke-width="0.8" />
<line x1="408.50" y1="115.76" x2="411.50" y2="115.76" stroke="#333" stroke-width="0.8" />
<line x1="408.50" y1="136.84" x2="411.50" y2="136.84" stroke="#333" stroke-width="0.8" />
<line x1="510.20" y1="60.42" x2="510.20" y2="77.55" stroke="#333" stroke-width="0.8" />
<line x1="508.70" y1="60.42" x2="511.70" y2="60.42" stroke="#333" stroke-width="0.8" />
<line x1="508.70" y1="77.55" x2="511.70" y2="77.55" stroke="#333" stroke-width="0.8" />
<line x1="309.80" y1="162.53" x2="309.80" y2="165.16" stroke="#333" stroke-width="0.8" />
<line x1="308.30" y1="162.53" x2="311.30" y2="162.53" stroke="#333" stroke-width="0.8" />
<line x1="308.30" y1="165.16" x2="311.30" y2="165.16" stroke="#333" stroke-width="0.8" />
<line x1="318.15" y1="167.53" x2="318.15" y2="170.17" stroke="#333" stroke-width="0.8" />
<line x1="316.65" y1="167.53" x2="319.65" y2="167.53" stroke="#333" stroke-width="0.8" />
<line x1="316.65" y1="170.17" x2="319.65" y2="170.17" stroke="#333" stroke-width="0.8" />
<line x1="329.84" y1="167.80" x2="329.84" y2="170.43" stroke="#333" stroke-width="0.8" />
<line x1="328.34" y1="167.80" x2="331.34" y2="167.80" stroke="#333" stroke-width="0.8" />
<line x1="328.34" y1="170.43" x2="331.34" y2="170.43" stroke="#333" stroke-width="0.8" />
<line x1="343.20" y1="165.16" x2="343.20" y2="167.80" stroke="#333" stroke-width="0.8" />
<line x1="341.70" y1="165.16" x2="344.70" y2="165.16" stroke="#333" stroke-width="0.8" />
<line x1="341.70" y1="167.80" x2="344.70" y2="167.80" stroke="#333" stroke-width="0.8" />
<line x1="359.90" y1="154.75" x2="359.90" y2="158.71" stroke="#333" stroke-width="0.8" />
<line x1="358.40" y1="154.75" x2="361.40" y2="154.75" stroke="#333" stroke-width="0.8" />
<line x1="358.40" y1="158.71" x2="361.40" y2="158.71" stroke="#333" stroke-width="0.8" />
<line x1="410.00" y1="150.67" x2="410.00" y2="154.62" stroke="#333" stroke-width="0.8" />
<line x1="408.50" y1="150.67" x2="411.50" y2="150.67" stroke="#333" stroke-width="0.8" />
<line x1="408.50" y1="154.62" x2="411.50" y2="154.62" stroke="#333" stroke-width="0.8" />
<line x1="510.20" y1="116.68" x2="510.20" y2="125.90" stroke="#333" stroke-width="0.8" />
<line x1="508.70" y1="116.68" x2="511.70" y2="116.68" stroke="#333" stroke-width="0.8" />
<line x1="508.70" y1="125.90" x2="511.70" y2="125.90" stroke="#333" stroke-width="0.8" />
<line x1="309.80" y1="162.53" x2="309.80" y2="165.16" stroke="#333" stroke-width="0.8" />
<line x1="308.30" y1="162.53" x2="311.30" y2="162.53" stroke="#333" stroke-width="0.8" />
<line x1="308.30" y1="165.16" x2="311.30" y2="165.16" stroke="#333" stroke-width="0.8" />
<line x1="318.15" y1="163.84" x2="318.15" y2="166.48" stroke="#333" stroke-width="0.8" />
<line x1="316.65" y1="163.84" x2="319.65" y2="163.84" stroke="#333" stroke-width="0.8" />
<line x1="316.65" y1="166.48" x2="319.65" y2="166.48" stroke="#333" stroke-width="0.8" />
<line x1="329.84" y1="163.84" x2="329.84" y2="166.48" stroke="#333" stroke-width="0.8" />
<line x1="328.34" y1="163.84" x2="331.34" y2="163.84" stroke="#333" stroke-width="0.8" />
<line x1="328.34" y1="166.48" x2="331.34" y2="166.48" stroke="#333" stroke-width="0.8" />
<line x1="343.20" y1="163.84" x2="343.20" y2="166.48" stroke="#333" stroke-width="0.8" />
<line x1="341.70" y1="163.84" x2="344.70" y2="163.84" stroke="#333" stroke-width="0.8" />
<line x1="341.70" y1="166.48" x2="344.70" y2="166.48" stroke="#333" stroke-width="0.8" />
<line x1="359.90" y1="161.08" x2="359.90" y2="167.67" stroke="#333" stroke-width="0.8" />
<line x1="358.40" y1="161.08" x2="361.40" y2="161.08" stroke="#333" stroke-width="0.8" />
<line x1="358.40" y1="167.67" x2="361.40" y2="167.67" stroke="#333" stroke-width="0.8" />
<line x1="410.00" y1="150.41" x2="410.00" y2="155.68" stroke="#333" stroke-width="0.8" />
<line x1="408.50" y1="150.41" x2="411.50" y2="150.41" stroke="#333" stroke-width="0.8" />
<line x1="408.50" y1="155.68" x2="411.50" y2="155.68" stroke="#333" stroke-width="0.8" />
<line x1="510.20" y1="134.86" x2="510.20" y2="140.13" stroke="#333" stroke-width="0.8" />
<line x1="508.70" y1="134.86" x2="511.70" y2="134.86" stroke="#333" stroke-width="0.8" />
<line x1="508.70" y1="140.13" x2="511.70" y2="140.13" stroke="#333" stroke-width="0.8" />
<circle cx="309.80" cy="162.53" r="3.10" fill="#c4c4c4" stroke="#333" stroke-width="0.8"/>
<circle cx="318.15" cy="159.89" r="3.10" fill="#c4c4c4" stroke="#333" stroke-width="0.8"/>
<circle cx="329.84" cy="161.21" r="3.10" fill="#c4c4c4" stroke="#333" stroke-width="0.8"/>
<circle cx="343.20" cy="137.76" r="3.10" fill="#c4c4c4" stroke="#333" stroke-width="0.8"/>
<circle cx="359.90" cy="105.08" r="3.10" fill="#c4c4c4" stroke="#333" stroke-width="0.8"/>
<circle cx="410.00" cy="68.33" r="3.10" fill="#c4c4c4" stroke="#333" stroke-width="0.8"/>
<circle cx="510.20" cy="44.74" r="3.10" fill="#c4c4c4" stroke="#333" stroke-width="0.8"/>
<polygon points="306.39,159.97 313.21,159.97 309.80,165.94" fill="#c4c4c4" stroke="#333" stroke-width="0.8"/>
<polygon points="314.74,160.63 321.56,160.63 318.15,166.60" fill="#c4c4c4" stroke="#333" stroke-width="0.8"/>
<polygon points="326.43,161.29 333.25,161.29 329.84,167.25" fill="#c4c4c4" stroke="#333" stroke-width="0.8"/>
<polygon points="339.79,142.84 346.61,142.84 343.20,148.81" fill="#c4c4c4" stroke="#333" stroke-width="0.8"/>
<polygon points="356.49,107.01 363.31,107.01 359.90,112.97" fill="#c4c4c4" stroke="#333" stroke-width="0.8"/>
<polygon points="406.59,67.09 413.41,67.09 410.00,73.05" fill="#c4c4c4" stroke="#333" stroke-width="0.8"/>
<polygon points="506.79,40.08 513.61,40.08 510.20,46.05" fill="#c4c4c4" stroke="#333" stroke-width="0.8"/>
<rect x="306.95" y="159.68" width="5.70" height="5.70" fill="#c4c4c4" stroke="#333" stroke-width="0.8"/>
<rect x="315.30" y="162.31" width="5.70" height="5.70" fill="#c4c4c4" stroke="#333" stroke-width="0.8"/>
<rect x="326.99" y="159.68" width="5.70" height="5.70" fill="#c4c4c4" stroke="#333" stroke-width="0.8"/>
<rect x="340.35" y="155.72" width="5.70" height="5.70" fill="#c4c4c4" stroke="#333" stroke-width="0.8"/>
<rect x="357.05" y="124.37" width="5.70" height="5.70" fill="#c4c4c4" stroke="#333" stroke-width="0.8"/>
<rect x="407.15" y="71.01" width="5.70" height="5.70" fill="#c4c4c4" stroke="#333" stroke-width="0.8"/>
<rect x="507.35" y="35.44" width="5.70" height="5.70" fill="#c4c4c4" stroke="#333" stroke-width="0.8"/>
<polygon points="309.80,158.65 313.68,162.53 309.80,166.40 305.93,162.53" fill="#c4c4c4" stroke="#333" stroke-width="0.8"/>
<polygon points="318.15,162.60 322.03,166.48 318.15,170.35 314.28,166.48" fill="#c4c4c4" stroke="#333" stroke-width="0.8"/>
<polygon points="329.84,161.29 333.72,165.16 329.84,169.04 325.97,165.16" fill="#c4c4c4" stroke="#333" stroke-width="0.8"/>
<polygon points="343.20,159.57 347.07,163.45 343.20,167.32 339.32,163.45" fill="#c4c4c4" stroke="#333" stroke-width="0.8"/>
<polygon points="359.90,148.38 363.77,152.25 359.90,156.13 356.02,152.25" fill="#c4c4c4" stroke="#333" stroke-width="0.8"/>
<polygon points="410.00,122.42 413.88,126.30 410.00,130.17 406.12,126.30" fill="#c4c4c4" stroke="#333" stroke-width="0.8"/>
<polygon points="510.20,65.11 514.08,68.99 510.20,72.86 506.32,68.99" fill="#c4c4c4" stroke="#333" stroke-width="0.8"/>
<polygon points="306.39,166.40 313.21,166.40 309.80,160.44" fill="#c4c4c4" stroke="#333" stroke-width="0.8"/>
<polygon points="314.74,171.41 321.56,171.41 318.15,165.44" fill="#c4c4c4" stroke="#333" stroke-width="0.8"/>
<polygon points="326.43,171.67 333.25,171.67 329.84,165.71" fill="#c4c4c4" stroke="#333" stroke-width="0.8"/>
<polygon points="339.79,169.04 346.61,169.04 343.20,163.07" fill="#c4c4c4" stroke="#333" stroke-width="0.8"/>
<polygon points="356.49,159.29 363.31,159.29 359.90,153.32" fill="#c4c4c4" stroke="#333" stroke-width="0.8"/>
<polygon points="406.59,155.20 413.41,155.20 410.00,149.24" fill="#c4c4c4" stroke="#333" stroke-width="0.8"/>
<polygon points="506.79,123.85 513.61,123.85 510.20,117.88" fill="#c4c4c4" stroke="#333" stroke-width="0.8"/>
<polygon points="309.80,166.94 307.12,165.40 307.12,162.29 309.80,160.75 312.48,162.29 312.48,165.40" fill="#c4c4c4" stroke="#333" stroke-width="0.8"/>
<polygon points="318.15,168.26 315.47,166.71 315.47,163.61 318.15,162.06 320.83,163.61 320.83,166.71" fill="#c4c4c4" stroke="#333" stroke-width="0.8"/>
<polygon points="329.84,168.26 327.16,166.71 327.16,163.61 329.84,162.06 332.52,163.61 332.52,166.71" fill="#c4c4c4" stroke="#333" stroke-width="0.8"/>
<polygon points="343.20,168.26 340.52,166.71 340.52,163.61 343.20,162.06 345.88,163.61 345.88,166.71" fill="#c4c4c4" stroke="#333" stroke-width="0.8"/>
<polygon points="359.90,167.47 357.22,165.92 357.22,162.82 359.90,161.27 362.58,162.82 362.58,165.92" fill="#c4c4c4" stroke="#333" stroke-width="0.8"/>
<polygon points="410.00,156.14 407.32,154.59 407.32,151.49 410.00,149.94 412.68,151.49 412.68,154.59" fill="#c4c4c4" stroke="#333" stroke-width="0.8"/>
<polygon points="510.20,140.59 507.52,139.05 507.52,135.94 510.20,134.40 512.88,135.94 512.88,139.05" fill="#c4c4c4" stroke="#333" stroke-width="0.8"/>
<text x="315.50" y="58.22" font-size="10.1" text-anchor="start" font-weight="normal" fill="#111" >Diazepam</text>
<line x1="301.00" y1="201.00" x2="301.00" y2="345.80" stroke="#5c5c5c" stroke-width="1.0" />
<line x1="299.00" y1="345.50" x2="301.00" y2="345.50" stroke="#5c5c5c" stroke-width="1.0" />
<text transform="translate(295.30,348.54) scale(0.93,1.06)" font-size="8.0" text-anchor="end" class="t">0</text>
<line x1="299.00" y1="319.20" x2="301.00" y2="319.20" stroke="#5c5c5c" stroke-width="1.0" />
<text transform="translate(295.30,322.24) scale(0.93,1.06)" font-size="8.0" text-anchor="end" class="t">20</text>
<line x1="299.00" y1="292.90" x2="301.00" y2="292.90" stroke="#5c5c5c" stroke-width="1.0" />
<text transform="translate(295.30,295.94) scale(0.93,1.06)" font-size="8.0" text-anchor="end" class="t">40</text>
<line x1="299.00" y1="266.60" x2="301.00" y2="266.60" stroke="#5c5c5c" stroke-width="1.0" />
<text transform="translate(295.30,269.64) scale(0.93,1.06)" font-size="8.0" text-anchor="end" class="t">60</text>
<line x1="299.00" y1="240.30" x2="301.00" y2="240.30" stroke="#5c5c5c" stroke-width="1.0" />
<text transform="translate(295.30,243.34) scale(0.93,1.06)" font-size="8.0" text-anchor="end" class="t">80</text>
<line x1="299.00" y1="214.00" x2="301.00" y2="214.00" stroke="#5c5c5c" stroke-width="1.0" />
<text transform="translate(295.30,217.04) scale(0.93,1.06)" font-size="8.0" text-anchor="end" class="t">100</text>
<line x1="309.80" y1="354.30" x2="510.20" y2="354.30" stroke="#5c5c5c" stroke-width="1.0" />
<line x1="309.80" y1="354.30" x2="309.80" y2="355.90" stroke="#5c5c5c" stroke-width="1.0" />
<text transform="translate(309.80,367.34) scale(0.93,1.06)" font-size="8.0" text-anchor="middle" class="t">0</text>
<line x1="343.20" y1="354.30" x2="343.20" y2="355.90" stroke="#5c5c5c" stroke-width="1.0" />
<text transform="translate(343.20,367.34) scale(0.93,1.06)" font-size="8.0" text-anchor="middle" class="t">10</text>
<line x1="376.60" y1="354.30" x2="376.60" y2="355.90" stroke="#5c5c5c" stroke-width="1.0" />
<text transform="translate(376.60,367.34) scale(0.93,1.06)" font-size="8.0" text-anchor="middle" class="t">20</text>
<line x1="410.00" y1="354.30" x2="410.00" y2="355.90" stroke="#5c5c5c" stroke-width="1.0" />
<text transform="translate(410.00,367.34) scale(0.93,1.06)" font-size="8.0" text-anchor="middle" class="t">30</text>
<line x1="443.40" y1="354.30" x2="443.40" y2="355.90" stroke="#5c5c5c" stroke-width="1.0" />
<text transform="translate(443.40,367.34) scale(0.93,1.06)" font-size="8.0" text-anchor="middle" class="t">40</text>
<line x1="476.80" y1="354.30" x2="476.80" y2="355.90" stroke="#5c5c5c" stroke-width="1.0" />
<text transform="translate(476.80,367.34) scale(0.93,1.06)" font-size="8.0" text-anchor="middle" class="t">50</text>
<line x1="510.20" y1="354.30" x2="510.20" y2="355.90" stroke="#5c5c5c" stroke-width="1.0" />
<text transform="translate(510.20,367.34) scale(0.93,1.06)" font-size="8.0" text-anchor="middle" class="t">60</text>
<polyline points="309.80,331.04 318.15,337.61 329.84,338.93 343.20,311.31 359.90,278.44 410.00,238.99 510.20,219.26" fill="none" stroke="#333" stroke-width="0.8" stroke-linejoin="round" />
<polyline points="309.80,333.67 318.15,334.98 329.84,337.61 343.20,317.88 359.90,288.17 410.00,242.93 510.20,220.57" fill="none" stroke="#333" stroke-width="0.8" stroke-linejoin="round" />
<polyline points="309.80,332.35 318.15,338.93 329.84,337.61 343.20,319.20 359.90,282.91 410.00,240.96 510.20,219.26" fill="none" stroke="#333" stroke-width="0.8" stroke-linejoin="round" />
<polyline points="309.80,341.56 318.15,338.93 329.84,332.61 343.20,325.77 359.90,302.37 410.00,246.48 510.20,219.26" fill="none" stroke="#333" stroke-width="0.8" stroke-linejoin="round" />
<polyline points="309.80,337.61 318.15,333.67 329.84,340.24 343.20,331.69 359.90,309.47 410.00,263.71 510.20,240.30" fill="none" stroke="#333" stroke-width="0.8" stroke-linejoin="round" />
<polyline points="309.80,336.30 318.15,338.93 329.84,341.56 343.20,338.00 359.90,328.14 410.00,275.02 510.20,242.93" fill="none" stroke="#333" stroke-width="0.8" stroke-linejoin="round" />
<line x1="309.80" y1="329.72" x2="309.80" y2="332.35" stroke="#333" stroke-width="0.8" />
<line x1="308.30" y1="329.72" x2="311.30" y2="329.72" stroke="#333" stroke-width="0.8" />
<line x1="308.30" y1="332.35" x2="311.30" y2="332.35" stroke="#333" stroke-width="0.8" />
<line x1="318.15" y1="334.98" x2="318.15" y2="340.24" stroke="#333" stroke-width="0.8" />
<line x1="316.65" y1="334.98" x2="319.65" y2="334.98" stroke="#333" stroke-width="0.8" />
<line x1="316.65" y1="340.24" x2="319.65" y2="340.24" stroke="#333" stroke-width="0.8" />
<line x1="329.84" y1="336.30" x2="329.84" y2="341.56" stroke="#333" stroke-width="0.8" />
<line x1="328.34" y1="336.30" x2="331.34" y2="336.30" stroke="#333" stroke-width="0.8" />
<line x1="328.34" y1="341.56" x2="331.34" y2="341.56" stroke="#333" stroke-width="0.8" />
<line x1="343.20" y1="310.00" x2="343.20" y2="312.62" stroke="#333" stroke-width="0.8" />
<line x1="341.70" y1="310.00" x2="344.70" y2="310.00" stroke="#333" stroke-width="0.8" />
<line x1="341.70" y1="312.62" x2="344.70" y2="312.62" stroke="#333" stroke-width="0.8" />
<line x1="359.90" y1="276.46" x2="359.90" y2="280.41" stroke="#333" stroke-width="0.8" />
<line x1="358.40" y1="276.46" x2="361.40" y2="276.46" stroke="#333" stroke-width="0.8" />
<line x1="358.40" y1="280.41" x2="361.40" y2="280.41" stroke="#333" stroke-width="0.8" />
<line x1="410.00" y1="235.70" x2="410.00" y2="242.27" stroke="#333" stroke-width="0.8" />
<line x1="408.50" y1="235.70" x2="411.50" y2="235.70" stroke="#333" stroke-width="0.8" />
<line x1="408.50" y1="242.27" x2="411.50" y2="242.27" stroke="#333" stroke-width="0.8" />
<line x1="510.20" y1="214.00" x2="510.20" y2="224.52" stroke="#333" stroke-width="0.8" />
<line x1="508.70" y1="214.00" x2="511.70" y2="214.00" stroke="#333" stroke-width="0.8" />
<line x1="508.70" y1="224.52" x2="511.70" y2="224.52" stroke="#333" stroke-width="0.8" />
<line x1="309.80" y1="331.04" x2="309.80" y2="336.30" stroke="#333" stroke-width="0.8" />
<line x1="308.30" y1="331.04" x2="311.30" y2="331.04" stroke="#333" stroke-width="0.8" />
<line x1="308.30" y1="336.30" x2="311.30" y2="336.30" stroke="#333" stroke-width="0.8" />
<line x1="318.15" y1="328.40" x2="318.15" y2="341.56" stroke="#333" stroke-width="0.8" />
<line x1="316.65" y1="328.40" x2="319.65" y2="328.40" stroke="#333" stroke-width="0.8" />
<line x1="316.65" y1="341.56" x2="319.65" y2="341.56" stroke="#333" stroke-width="0.8" />
<line x1="329.84" y1="333.67" x2="329.84" y2="341.56" stroke="#333" stroke-width="0.8" />
<line x1="328.34" y1="333.67" x2="331.34" y2="333.67" stroke="#333" stroke-width="0.8" />
<line x1="328.34" y1="341.56" x2="331.34" y2="341.56" stroke="#333" stroke-width="0.8" />
<line x1="343.20" y1="315.25" x2="343.20" y2="320.51" stroke="#333" stroke-width="0.8" />
<line x1="341.70" y1="315.25" x2="344.70" y2="315.25" stroke="#333" stroke-width="0.8" />
<line x1="341.70" y1="320.51" x2="344.70" y2="320.51" stroke="#333" stroke-width="0.8" />
<line x1="359.90" y1="284.22" x2="359.90" y2="292.11" stroke="#333" stroke-width="0.8" />
<line x1="358.40" y1="284.22" x2="361.40" y2="284.22" stroke="#333" stroke-width="0.8" />
<line x1="358.40" y1="292.11" x2="361.40" y2="292.11" stroke="#333" stroke-width="0.8" />
<line x1="410.00" y1="240.30" x2="410.00" y2="245.56" stroke="#333" stroke-width="0.8" />
<line x1="408.50" y1="240.30" x2="411.50" y2="240.30" stroke="#333" stroke-width="0.8" />
<line x1="408.50" y1="245.56" x2="411.50" y2="245.56" stroke="#333" stroke-width="0.8" />
<line x1="510.20" y1="214.00" x2="510.20" y2="227.15" stroke="#333" stroke-width="0.8" />
<line x1="508.70" y1="214.00" x2="511.70" y2="214.00" stroke="#333" stroke-width="0.8" />
<line x1="508.70" y1="227.15" x2="511.70" y2="227.15" stroke="#333" stroke-width="0.8" />
<line x1="309.80" y1="331.04" x2="309.80" y2="333.67" stroke="#333" stroke-width="0.8" />
<line x1="308.30" y1="331.04" x2="311.30" y2="331.04" stroke="#333" stroke-width="0.8" />
<line x1="308.30" y1="333.67" x2="311.30" y2="333.67" stroke="#333" stroke-width="0.8" />
<line x1="318.15" y1="336.30" x2="318.15" y2="341.56" stroke="#333" stroke-width="0.8" />
<line x1="316.65" y1="336.30" x2="319.65" y2="336.30" stroke="#333" stroke-width="0.8" />
<line x1="316.65" y1="341.56" x2="319.65" y2="341.56" stroke="#333" stroke-width="0.8" />
<line x1="329.84" y1="333.67" x2="329.84" y2="341.56" stroke="#333" stroke-width="0.8" />
<line x1="328.34" y1="333.67" x2="331.34" y2="333.67" stroke="#333" stroke-width="0.8" />
<line x1="328.34" y1="341.56" x2="331.34" y2="341.56" stroke="#333" stroke-width="0.8" />
<line x1="343.20" y1="316.57" x2="343.20" y2="321.83" stroke="#333" stroke-width="0.8" />
<line x1="341.70" y1="316.57" x2="344.70" y2="316.57" stroke="#333" stroke-width="0.8" />
<line x1="341.70" y1="321.83" x2="344.70" y2="321.83" stroke="#333" stroke-width="0.8" />
<line x1="359.90" y1="278.96" x2="359.90" y2="286.85" stroke="#333" stroke-width="0.8" />
<line x1="358.40" y1="278.96" x2="361.40" y2="278.96" stroke="#333" stroke-width="0.8" />
<line x1="358.40" y1="286.85" x2="361.40" y2="286.85" stroke="#333" stroke-width="0.8" />
<line x1="410.00" y1="238.33" x2="410.00" y2="243.59" stroke="#333" stroke-width="0.8" />
<line x1="408.50" y1="238.33" x2="411.50" y2="238.33" stroke="#333" stroke-width="0.8" />
<line x1="408.50" y1="243.59" x2="411.50" y2="243.59" stroke="#333" stroke-width="0.8" />
<line x1="510.20" y1="214.00" x2="510.20" y2="224.52" stroke="#333" stroke-width="0.8" />
<line x1="508.70" y1="214.00" x2="511.70" y2="214.00" stroke="#333" stroke-width="0.8" />
<line x1="508.70" y1="224.52" x2="511.70" y2="224.52" stroke="#333" stroke-width="0.8" />
<line x1="309.80" y1="340.24" x2="309.80" y2="342.87" stroke="#333" stroke-width="0.8" />
<line x1="308.30" y1="340.24" x2="311.30" y2="340.24" stroke="#333" stroke-width="0.8" />
<line x1="308.30" y1="342.87" x2="311.30" y2="342.87" stroke="#333" stroke-width="0.8" />
<line x1="318.15" y1="336.30" x2="318.15" y2="341.56" stroke="#333" stroke-width="0.8" />
<line x1="316.65" y1="336.30" x2="319.65" y2="336.30" stroke="#333" stroke-width="0.8" />
<line x1="316.65" y1="341.56" x2="319.65" y2="341.56" stroke="#333" stroke-width="0.8" />
<line x1="329.84" y1="328.67" x2="329.84" y2="336.56" stroke="#333" stroke-width="0.8" />
<line x1="328.34" y1="328.67" x2="331.34" y2="328.67" stroke="#333" stroke-width="0.8" />
<line x1="328.34" y1="336.56" x2="331.34" y2="336.56" stroke="#333" stroke-width="0.8" />
<line x1="343.20" y1="323.14" x2="343.20" y2="328.40" stroke="#333" stroke-width="0.8" />
<line x1="341.70" y1="323.14" x2="344.70" y2="323.14" stroke="#333" stroke-width="0.8" />
<line x1="341.70" y1="328.40" x2="344.70" y2="328.40" stroke="#333" stroke-width="0.8" />
<line x1="359.90" y1="298.42" x2="359.90" y2="306.31" stroke="#333" stroke-width="0.8" />
<line x1="358.40" y1="298.42" x2="361.40" y2="298.42" stroke="#333" stroke-width="0.8" />
<line x1="358.40" y1="306.31" x2="361.40" y2="306.31" stroke="#333" stroke-width="0.8" />
<line x1="410.00" y1="243.85" x2="410.00" y2="249.11" stroke="#333" stroke-width="0.8" />
<line x1="408.50" y1="243.85" x2="411.50" y2="243.85" stroke="#333" stroke-width="0.8" />
<line x1="408.50" y1="249.11" x2="411.50" y2="249.11" stroke="#333" stroke-width="0.8" />
<line x1="510.20" y1="215.31" x2="510.20" y2="223.20" stroke="#333" stroke-width="0.8" />
<line x1="508.70" y1="215.31" x2="511.70" y2="215.31" stroke="#333" stroke-width="0.8" />
<line x1="508.70" y1="223.20" x2="511.70" y2="223.20" stroke="#333" stroke-width="0.8" />
<line x1="309.80" y1="336.30" x2="309.80" y2="338.93" stroke="#333" stroke-width="0.8" />
<line x1="308.30" y1="336.30" x2="311.30" y2="336.30" stroke="#333" stroke-width="0.8" />
<line x1="308.30" y1="338.93" x2="311.30" y2="338.93" stroke="#333" stroke-width="0.8" />
<line x1="318.15" y1="328.40" x2="318.15" y2="338.93" stroke="#333" stroke-width="0.8" />
<line x1="316.65" y1="328.40" x2="319.65" y2="328.40" stroke="#333" stroke-width="0.8" />
<line x1="316.65" y1="338.93" x2="319.65" y2="338.93" stroke="#333" stroke-width="0.8" />
<line x1="329.84" y1="336.30" x2="329.84" y2="344.19" stroke="#333" stroke-width="0.8" />
<line x1="328.34" y1="336.30" x2="331.34" y2="336.30" stroke="#333" stroke-width="0.8" />
<line x1="328.34" y1="344.19" x2="331.34" y2="344.19" stroke="#333" stroke-width="0.8" />
<line x1="343.20" y1="329.06" x2="343.20" y2="334.32" stroke="#333" stroke-width="0.8" />
<line x1="341.70" y1="329.06" x2="344.70" y2="329.06" stroke="#333" stroke-width="0.8" />
<line x1="341.70" y1="334.32" x2="344.70" y2="334.32" stroke="#333" stroke-width="0.8" />
<line x1="359.90" y1="305.52" x2="359.90" y2="313.41" stroke="#333" stroke-width="0.8" />
<line x1="358.40" y1="305.52" x2="361.40" y2="305.52" stroke="#333" stroke-width="0.8" />
<line x1="358.40" y1="313.41" x2="361.40" y2="313.41" stroke="#333" stroke-width="0.8" />
<line x1="410.00" y1="258.45" x2="410.00" y2="268.97" stroke="#333" stroke-width="0.8" />
<line x1="408.50" y1="258.45" x2="411.50" y2="258.45" stroke="#333" stroke-width="0.8" />
<line x1="408.50" y1="268.97" x2="411.50" y2="268.97" stroke="#333" stroke-width="0.8" />
<line x1="510.20" y1="232.41" x2="510.20" y2="248.19" stroke="#333" stroke-width="0.8" />
<line x1="508.70" y1="232.41" x2="511.70" y2="232.41" stroke="#333" stroke-width="0.8" />
<line x1="508.70" y1="248.19" x2="511.70" y2="248.19" stroke="#333" stroke-width="0.8" />
<line x1="309.80" y1="334.98" x2="309.80" y2="337.61" stroke="#333" stroke-width="0.8" />
<line x1="308.30" y1="334.98" x2="311.30" y2="334.98" stroke="#333" stroke-width="0.8" />
<line x1="308.30" y1="337.61" x2="311.30" y2="337.61" stroke="#333" stroke-width="0.8" />
<line x1="318.15" y1="336.30" x2="318.15" y2="341.56" stroke="#333" stroke-width="0.8" />
<line x1="316.65" y1="336.30" x2="319.65" y2="336.30" stroke="#333" stroke-width="0.8" />
<line x1="316.65" y1="341.56" x2="319.65" y2="341.56" stroke="#333" stroke-width="0.8" />
<line x1="329.84" y1="338.93" x2="329.84" y2="344.19" stroke="#333" stroke-width="0.8" />
<line x1="328.34" y1="338.93" x2="331.34" y2="338.93" stroke="#333" stroke-width="0.8" />
<line x1="328.34" y1="344.19" x2="331.34" y2="344.19" stroke="#333" stroke-width="0.8" />
<line x1="343.20" y1="336.69" x2="343.20" y2="339.32" stroke="#333" stroke-width="0.8" />
<line x1="341.70" y1="336.69" x2="344.70" y2="336.69" stroke="#333" stroke-width="0.8" />
<line x1="341.70" y1="339.32" x2="344.70" y2="339.32" stroke="#333" stroke-width="0.8" />
<line x1="359.90" y1="326.17" x2="359.90" y2="330.11" stroke="#333" stroke-width="0.8" />
<line x1="358.40" y1="326.17" x2="361.40" y2="326.17" stroke="#333" stroke-width="0.8" />
<line x1="358.40" y1="330.11" x2="361.40" y2="330.11" stroke="#333" stroke-width="0.8" />
<line x1="410.00" y1="272.39" x2="410.00" y2="277.65" stroke="#333" stroke-width="0.8" />
<line x1="408.50" y1="272.39" x2="411.50" y2="272.39" stroke="#333" stroke-width="0.8" />
<line x1="408.50" y1="277.65" x2="411.50" y2="277.65" stroke="#333" stroke-width="0.8" />
<line x1="510.20" y1="236.36" x2="510.20" y2="249.50" stroke="#333" stroke-width="0.8" />
<line x1="508.70" y1="236.36" x2="511.70" y2="236.36" stroke="#333" stroke-width="0.8" />
<line x1="508.70" y1="249.50" x2="511.70" y2="249.50" stroke="#333" stroke-width="0.8" />
<circle cx="309.80" cy="331.04" r="3.10" fill="#c4c4c4" stroke="#333" stroke-width="0.8"/>
<circle cx="318.15" cy="337.61" r="3.10" fill="#c4c4c4" stroke="#333" stroke-width="0.8"/>
<circle cx="329.84" cy="338.93" r="3.10" fill="#c4c4c4" stroke="#333" stroke-width="0.8"/>
<circle cx="343.20" cy="311.31" r="3.10" fill="#c4c4c4" stroke="#333" stroke-width="0.8"/>
<circle cx="359.90" cy="278.44" r="3.10" fill="#c4c4c4" stroke="#333" stroke-width="0.8"/>
<circle cx="410.00" cy="238.99" r="3.10" fill="#c4c4c4" stroke="#333" stroke-width="0.8"/>
<circle cx="510.20" cy="219.26" r="3.10" fill="#c4c4c4" stroke="#333" stroke-width="0.8"/>
<polygon points="306.39,331.11 313.21,331.11 309.80,337.08" fill="#c4c4c4" stroke="#333" stroke-width="0.8"/>
<polygon points="314.74,332.42 321.56,332.42 318.15,338.39" fill="#c4c4c4" stroke="#333" stroke-width="0.8"/>
<polygon points="326.43,335.05 333.25,335.05 329.84,341.02" fill="#c4c4c4" stroke="#333" stroke-width="0.8"/>
<polygon points="339.79,315.33 346.61,315.33 343.20,321.30" fill="#c4c4c4" stroke="#333" stroke-width="0.8"/>
<polygon points="356.49,285.61 363.31,285.61 359.90,291.58" fill="#c4c4c4" stroke="#333" stroke-width="0.8"/>
<polygon points="406.59,240.37 413.41,240.37 410.00,246.34" fill="#c4c4c4" stroke="#333" stroke-width="0.8"/>
<polygon points="506.79,218.02 513.61,218.02 510.20,223.98" fill="#c4c4c4" stroke="#333" stroke-width="0.8"/>
<rect x="306.95" y="329.50" width="5.70" height="5.70" fill="#c4c4c4" stroke="#333" stroke-width="0.8"/>
<rect x="315.30" y="336.07" width="5.70" height="5.70" fill="#c4c4c4" stroke="#333" stroke-width="0.8"/>
<rect x="326.99" y="334.76" width="5.70" height="5.70" fill="#c4c4c4" stroke="#333" stroke-width="0.8"/>
<rect x="340.35" y="316.35" width="5.70" height="5.70" fill="#c4c4c4" stroke="#333" stroke-width="0.8"/>
<rect x="357.05" y="280.05" width="5.70" height="5.70" fill="#c4c4c4" stroke="#333" stroke-width="0.8"/>
<rect x="407.15" y="238.11" width="5.70" height="5.70" fill="#c4c4c4" stroke="#333" stroke-width="0.8"/>
<rect x="507.35" y="216.41" width="5.70" height="5.70" fill="#c4c4c4" stroke="#333" stroke-width="0.8"/>
<polygon points="309.80,337.68 313.68,341.56 309.80,345.43 305.93,341.56" fill="#c4c4c4" stroke="#333" stroke-width="0.8"/>
<polygon points="318.15,335.05 322.03,338.93 318.15,342.80 314.28,338.93" fill="#c4c4c4" stroke="#333" stroke-width="0.8"/>
<polygon points="329.84,328.74 333.72,332.61 329.84,336.49 325.97,332.61" fill="#c4c4c4" stroke="#333" stroke-width="0.8"/>
<polygon points="343.20,321.90 347.07,325.77 343.20,329.65 339.32,325.77" fill="#c4c4c4" stroke="#333" stroke-width="0.8"/>
<polygon points="359.90,298.49 363.77,302.37 359.90,306.24 356.02,302.37" fill="#c4c4c4" stroke="#333" stroke-width="0.8"/>
<polygon points="410.00,242.61 413.88,246.48 410.00,250.36 406.12,246.48" fill="#c4c4c4" stroke="#333" stroke-width="0.8"/>
<polygon points="510.20,215.38 514.08,219.26 510.20,223.13 506.32,219.26" fill="#c4c4c4" stroke="#333" stroke-width="0.8"/>
<polygon points="306.39,340.17 313.21,340.17 309.80,334.20" fill="#c4c4c4" stroke="#333" stroke-width="0.8"/>
<polygon points="314.74,336.22 321.56,336.22 318.15,330.25" fill="#c4c4c4" stroke="#333" stroke-width="0.8"/>
<polygon points="326.43,342.80 333.25,342.80 329.84,336.83" fill="#c4c4c4" stroke="#333" stroke-width="0.8"/>
<polygon points="339.79,334.25 346.61,334.25 343.20,328.28" fill="#c4c4c4" stroke="#333" stroke-width="0.8"/>
<polygon points="356.49,312.03 363.31,312.03 359.90,306.06" fill="#c4c4c4" stroke="#333" stroke-width="0.8"/>
<polygon points="406.59,266.26 413.41,266.26 410.00,260.30" fill="#c4c4c4" stroke="#333" stroke-width="0.8"/>
<polygon points="506.79,242.86 513.61,242.86 510.20,236.89" fill="#c4c4c4" stroke="#333" stroke-width="0.8"/>
<polygon points="309.80,339.40 307.12,337.85 307.12,334.75 309.80,333.19 312.48,334.75 312.48,337.85" fill="#c4c4c4" stroke="#333" stroke-width="0.8"/>
<polygon points="318.15,342.03 315.47,340.48 315.47,337.38 318.15,335.82 320.83,337.38 320.83,340.48" fill="#c4c4c4" stroke="#333" stroke-width="0.8"/>
<polygon points="329.84,344.66 327.16,343.11 327.16,340.00 329.84,338.45 332.52,340.00 332.52,343.11" fill="#c4c4c4" stroke="#333" stroke-width="0.8"/>
<polygon points="343.20,341.10 340.52,339.55 340.52,336.45 343.20,334.90 345.88,336.45 345.88,339.55" fill="#c4c4c4" stroke="#333" stroke-width="0.8"/>
<polygon points="359.90,331.24 357.22,329.69 357.22,326.59 359.90,325.04 362.58,326.59 362.58,329.69" fill="#c4c4c4" stroke="#333" stroke-width="0.8"/>
<polygon points="410.00,278.12 407.32,276.57 407.32,273.47 410.00,271.92 412.68,273.47 412.68,276.57" fill="#c4c4c4" stroke="#333" stroke-width="0.8"/>
<polygon points="510.20,246.03 507.52,244.48 507.52,241.38 510.20,239.83 512.88,241.38 512.88,244.48" fill="#c4c4c4" stroke="#333" stroke-width="0.8"/>
<text x="315.40" y="232.99" font-size="10.3" text-anchor="start" font-weight="normal" fill="#111" >PK11195</text>
<line x1="301.00" y1="374.50" x2="301.00" y2="519.05" stroke="#5c5c5c" stroke-width="1.0" />
<line x1="299.00" y1="518.75" x2="301.00" y2="518.75" stroke="#5c5c5c" stroke-width="1.0" />
<text transform="translate(295.30,521.79) scale(0.93,1.06)" font-size="8.0" text-anchor="end" class="t">0</text>
<line x1="299.00" y1="492.50" x2="301.00" y2="492.50" stroke="#5c5c5c" stroke-width="1.0" />
<text transform="translate(295.30,495.54) scale(0.93,1.06)" font-size="8.0" text-anchor="end" class="t">20</text>
<line x1="299.00" y1="466.25" x2="301.00" y2="466.25" stroke="#5c5c5c" stroke-width="1.0" />
<text transform="translate(295.30,469.29) scale(0.93,1.06)" font-size="8.0" text-anchor="end" class="t">40</text>
<line x1="299.00" y1="440.00" x2="301.00" y2="440.00" stroke="#5c5c5c" stroke-width="1.0" />
<text transform="translate(295.30,443.04) scale(0.93,1.06)" font-size="8.0" text-anchor="end" class="t">60</text>
<line x1="299.00" y1="413.75" x2="301.00" y2="413.75" stroke="#5c5c5c" stroke-width="1.0" />
<text transform="translate(295.30,416.79) scale(0.93,1.06)" font-size="8.0" text-anchor="end" class="t">80</text>
<line x1="299.00" y1="387.50" x2="301.00" y2="387.50" stroke="#5c5c5c" stroke-width="1.0" />
<text transform="translate(295.30,390.54) scale(0.93,1.06)" font-size="8.0" text-anchor="end" class="t">100</text>
<line x1="309.80" y1="528.00" x2="510.20" y2="528.00" stroke="#5c5c5c" stroke-width="1.0" />
<line x1="309.80" y1="528.00" x2="309.80" y2="529.60" stroke="#5c5c5c" stroke-width="1.0" />
<text transform="translate(309.80,541.04) scale(0.93,1.06)" font-size="8.0" text-anchor="middle" class="t">0</text>
<line x1="343.20" y1="528.00" x2="343.20" y2="529.60" stroke="#5c5c5c" stroke-width="1.0" />
<text transform="translate(343.20,541.04) scale(0.93,1.06)" font-size="8.0" text-anchor="middle" class="t">10</text>
<line x1="376.60" y1="528.00" x2="376.60" y2="529.60" stroke="#5c5c5c" stroke-width="1.0" />
<text transform="translate(376.60,541.04) scale(0.93,1.06)" font-size="8.0" text-anchor="middle" class="t">20</text>
<line x1="410.00" y1="528.00" x2="410.00" y2="529.60" stroke="#5c5c5c" stroke-width="1.0" />
<text transform="translate(410.00,541.04) scale(0.93,1.06)" font-size="8.0" text-anchor="middle" class="t">30</text>
<line x1="443.40" y1="528.00" x2="443.40" y2="529.60" stroke="#5c5c5c" stroke-width="1.0" />
<text transform="translate(443.40,541.04) scale(0.93,1.06)" font-size="8.0" text-anchor="middle" class="t">40</text>
<line x1="476.80" y1="528.00" x2="476.80" y2="529.60" stroke="#5c5c5c" stroke-width="1.0" />
<text transform="translate(476.80,541.04) scale(0.93,1.06)" font-size="8.0" text-anchor="middle" class="t">50</text>
<line x1="510.20" y1="528.00" x2="510.20" y2="529.60" stroke="#5c5c5c" stroke-width="1.0" />
<text transform="translate(510.20,541.04) scale(0.93,1.06)" font-size="8.0" text-anchor="middle" class="t">60</text>
<polyline points="309.80,508.91 318.15,512.19 329.84,507.33 343.20,490.27 359.90,455.23 410.00,414.54 510.20,392.23" fill="none" stroke="#333" stroke-width="0.8" stroke-linejoin="round" />
<polyline points="309.80,508.25 318.15,510.88 329.84,512.19 343.20,501.69 359.90,473.73 410.00,423.07 510.20,392.75" fill="none" stroke="#333" stroke-width="0.8" stroke-linejoin="round" />
<polyline points="309.80,510.88 318.15,513.50 329.84,518.49 343.20,512.84 359.90,488.96 410.00,433.57 510.20,399.71" fill="none" stroke="#333" stroke-width="0.8" stroke-linejoin="round" />
<polyline points="309.80,512.19 318.15,512.19 329.84,512.19 343.20,513.50 359.90,504.97 410.00,496.96 510.20,458.51" fill="none" stroke="#333" stroke-width="0.8" stroke-linejoin="round" />
<polyline points="309.80,504.31 318.15,505.62 329.84,513.76 343.20,512.84 359.90,506.28 410.00,500.51 510.20,483.05" fill="none" stroke="#333" stroke-width="0.8" stroke-linejoin="round" />
<line x1="309.80" y1="507.59" x2="309.80" y2="510.22" stroke="#333" stroke-width="0.8" />
<line x1="308.30" y1="507.59" x2="311.30" y2="507.59" stroke="#333" stroke-width="0.8" />
<line x1="308.30" y1="510.22" x2="311.30" y2="510.22" stroke="#333" stroke-width="0.8" />
<line x1="318.15" y1="510.88" x2="318.15" y2="513.50" stroke="#333" stroke-width="0.8" />
<line x1="316.65" y1="510.88" x2="319.65" y2="510.88" stroke="#333" stroke-width="0.8" />
<line x1="316.65" y1="513.50" x2="319.65" y2="513.50" stroke="#333" stroke-width="0.8" />
<line x1="329.84" y1="506.02" x2="329.84" y2="508.64" stroke="#333" stroke-width="0.8" />
<line x1="328.34" y1="506.02" x2="331.34" y2="506.02" stroke="#333" stroke-width="0.8" />
<line x1="328.34" y1="508.64" x2="331.34" y2="508.64" stroke="#333" stroke-width="0.8" />
<line x1="343.20" y1="488.96" x2="343.20" y2="491.58" stroke="#333" stroke-width="0.8" />
<line x1="341.70" y1="488.96" x2="344.70" y2="488.96" stroke="#333" stroke-width="0.8" />
<line x1="341.70" y1="491.58" x2="344.70" y2="491.58" stroke="#333" stroke-width="0.8" />
<line x1="359.90" y1="453.26" x2="359.90" y2="457.19" stroke="#333" stroke-width="0.8" />
<line x1="358.40" y1="453.26" x2="361.40" y2="453.26" stroke="#333" stroke-width="0.8" />
<line x1="358.40" y1="457.19" x2="361.40" y2="457.19" stroke="#333" stroke-width="0.8" />
<line x1="410.00" y1="412.57" x2="410.00" y2="416.51" stroke="#333" stroke-width="0.8" />
<line x1="408.50" y1="412.57" x2="411.50" y2="412.57" stroke="#333" stroke-width="0.8" />
<line x1="408.50" y1="416.51" x2="411.50" y2="416.51" stroke="#333" stroke-width="0.8" />
<line x1="510.20" y1="386.32" x2="510.20" y2="398.13" stroke="#333" stroke-width="0.8" />
<line x1="508.70" y1="386.32" x2="511.70" y2="386.32" stroke="#333" stroke-width="0.8" />
<line x1="508.70" y1="398.13" x2="511.70" y2="398.13" stroke="#333" stroke-width="0.8" />
<line x1="309.80" y1="506.94" x2="309.80" y2="509.56" stroke="#333" stroke-width="0.8" />
<line x1="308.30" y1="506.94" x2="311.30" y2="506.94" stroke="#333" stroke-width="0.8" />
<line x1="308.30" y1="509.56" x2="311.30" y2="509.56" stroke="#333" stroke-width="0.8" />
<line x1="318.15" y1="509.56" x2="318.15" y2="512.19" stroke="#333" stroke-width="0.8" />
<line x1="316.65" y1="509.56" x2="319.65" y2="509.56" stroke="#333" stroke-width="0.8" />
<line x1="316.65" y1="512.19" x2="319.65" y2="512.19" stroke="#333" stroke-width="0.8" />
<line x1="329.84" y1="510.88" x2="329.84" y2="513.50" stroke="#333" stroke-width="0.8" />
<line x1="328.34" y1="510.88" x2="331.34" y2="510.88" stroke="#333" stroke-width="0.8" />
<line x1="328.34" y1="513.50" x2="331.34" y2="513.50" stroke="#333" stroke-width="0.8" />
<line x1="343.20" y1="500.38" x2="343.20" y2="503.00" stroke="#333" stroke-width="0.8" />
<line x1="341.70" y1="500.38" x2="344.70" y2="500.38" stroke="#333" stroke-width="0.8" />
<line x1="341.70" y1="503.00" x2="344.70" y2="503.00" stroke="#333" stroke-width="0.8" />
<line x1="359.90" y1="465.20" x2="359.90" y2="482.26" stroke="#333" stroke-width="0.8" />
<line x1="358.40" y1="465.20" x2="361.40" y2="465.20" stroke="#333" stroke-width="0.8" />
<line x1="358.40" y1="482.26" x2="361.40" y2="482.26" stroke="#333" stroke-width="0.8" />
<line x1="410.00" y1="419.13" x2="410.00" y2="427.01" stroke="#333" stroke-width="0.8" />
<line x1="408.50" y1="419.13" x2="411.50" y2="419.13" stroke="#333" stroke-width="0.8" />
<line x1="408.50" y1="427.01" x2="411.50" y2="427.01" stroke="#333" stroke-width="0.8" />
<line x1="510.20" y1="388.16" x2="510.20" y2="397.34" stroke="#333" stroke-width="0.8" />
<line x1="508.70" y1="388.16" x2="511.70" y2="388.16" stroke="#333" stroke-width="0.8" />
<line x1="508.70" y1="397.34" x2="511.70" y2="397.34" stroke="#333" stroke-width="0.8" />
<line x1="309.80" y1="509.56" x2="309.80" y2="512.19" stroke="#333" stroke-width="0.8" />
<line x1="308.30" y1="509.56" x2="311.30" y2="509.56" stroke="#333" stroke-width="0.8" />
<line x1="308.30" y1="512.19" x2="311.30" y2="512.19" stroke="#333" stroke-width="0.8" />
<line x1="318.15" y1="512.19" x2="318.15" y2="514.81" stroke="#333" stroke-width="0.8" />
<line x1="316.65" y1="512.19" x2="319.65" y2="512.19" stroke="#333" stroke-width="0.8" />
<line x1="316.65" y1="514.81" x2="319.65" y2="514.81" stroke="#333" stroke-width="0.8" />
<line x1="329.84" y1="517.17" x2="329.84" y2="519.80" stroke="#333" stroke-width="0.8" />
<line x1="328.34" y1="517.17" x2="331.34" y2="517.17" stroke="#333" stroke-width="0.8" />
<line x1="328.34" y1="519.80" x2="331.34" y2="519.80" stroke="#333" stroke-width="0.8" />
<line x1="343.20" y1="511.53" x2="343.20" y2="514.16" stroke="#333" stroke-width="0.8" />
<line x1="341.70" y1="511.53" x2="344.70" y2="511.53" stroke="#333" stroke-width="0.8" />
<line x1="341.70" y1="514.16" x2="344.70" y2="514.16" stroke="#333" stroke-width="0.8" />
<line x1="359.90" y1="483.71" x2="359.90" y2="494.21" stroke="#333" stroke-width="0.8" />
<line x1="358.40" y1="483.71" x2="361.40" y2="483.71" stroke="#333" stroke-width="0.8" />
<line x1="358.40" y1="494.21" x2="361.40" y2="494.21" stroke="#333" stroke-width="0.8" />
<line x1="410.00" y1="428.32" x2="410.00" y2="438.82" stroke="#333" stroke-width="0.8" />
<line x1="408.50" y1="428.32" x2="411.50" y2="428.32" stroke="#333" stroke-width="0.8" />
<line x1="408.50" y1="438.82" x2="411.50" y2="438.82" stroke="#333" stroke-width="0.8" />
<line x1="510.20" y1="392.23" x2="510.20" y2="407.19" stroke="#333" stroke-width="0.8" />
<line x1="508.70" y1="392.23" x2="511.70" y2="392.23" stroke="#333" stroke-width="0.8" />
<line x1="508.70" y1="407.19" x2="511.70" y2="407.19" stroke="#333" stroke-width="0.8" />
<line x1="309.80" y1="510.88" x2="309.80" y2="513.50" stroke="#333" stroke-width="0.8" />
<line x1="308.30" y1="510.88" x2="311.30" y2="510.88" stroke="#333" stroke-width="0.8" />
<line x1="308.30" y1="513.50" x2="311.30" y2="513.50" stroke="#333" stroke-width="0.8" />
<line x1="318.15" y1="510.88" x2="318.15" y2="513.50" stroke="#333" stroke-width="0.8" />
<line x1="316.65" y1="510.88" x2="319.65" y2="510.88" stroke="#333" stroke-width="0.8" />
<line x1="316.65" y1="513.50" x2="319.65" y2="513.50" stroke="#333" stroke-width="0.8" />
<line x1="329.84" y1="510.88" x2="329.84" y2="513.50" stroke="#333" stroke-width="0.8" />
<line x1="328.34" y1="510.88" x2="331.34" y2="510.88" stroke="#333" stroke-width="0.8" />
<line x1="328.34" y1="513.50" x2="331.34" y2="513.50" stroke="#333" stroke-width="0.8" />
<line x1="343.20" y1="512.19" x2="343.20" y2="514.81" stroke="#333" stroke-width="0.8" />
<line x1="341.70" y1="512.19" x2="344.70" y2="512.19" stroke="#333" stroke-width="0.8" />
<line x1="341.70" y1="514.81" x2="344.70" y2="514.81" stroke="#333" stroke-width="0.8" />
<line x1="359.90" y1="502.34" x2="359.90" y2="507.59" stroke="#333" stroke-width="0.8" />
<line x1="358.40" y1="502.34" x2="361.40" y2="502.34" stroke="#333" stroke-width="0.8" />
<line x1="358.40" y1="507.59" x2="361.40" y2="507.59" stroke="#333" stroke-width="0.8" />
<line x1="410.00" y1="494.34" x2="410.00" y2="499.59" stroke="#333" stroke-width="0.8" />
<line x1="408.50" y1="494.34" x2="411.50" y2="494.34" stroke="#333" stroke-width="0.8" />
<line x1="408.50" y1="499.59" x2="411.50" y2="499.59" stroke="#333" stroke-width="0.8" />
<line x1="510.20" y1="451.29" x2="510.20" y2="465.73" stroke="#333" stroke-width="0.8" />
<line x1="508.70" y1="451.29" x2="511.70" y2="451.29" stroke="#333" stroke-width="0.8" />
<line x1="508.70" y1="465.73" x2="511.70" y2="465.73" stroke="#333" stroke-width="0.8" />
<line x1="309.80" y1="503.00" x2="309.80" y2="505.62" stroke="#333" stroke-width="0.8" />
<line x1="308.30" y1="503.00" x2="311.30" y2="503.00" stroke="#333" stroke-width="0.8" />
<line x1="308.30" y1="505.62" x2="311.30" y2="505.62" stroke="#333" stroke-width="0.8" />
<line x1="318.15" y1="504.31" x2="318.15" y2="506.94" stroke="#333" stroke-width="0.8" />
<line x1="316.65" y1="504.31" x2="319.65" y2="504.31" stroke="#333" stroke-width="0.8" />
<line x1="316.65" y1="506.94" x2="319.65" y2="506.94" stroke="#333" stroke-width="0.8" />
<line x1="329.84" y1="512.45" x2="329.84" y2="515.08" stroke="#333" stroke-width="0.8" />
<line x1="328.34" y1="512.45" x2="331.34" y2="512.45" stroke="#333" stroke-width="0.8" />
<line x1="328.34" y1="515.08" x2="331.34" y2="515.08" stroke="#333" stroke-width="0.8" />
<line x1="343.20" y1="511.53" x2="343.20" y2="514.16" stroke="#333" stroke-width="0.8" />
<line x1="341.70" y1="511.53" x2="344.70" y2="511.53" stroke="#333" stroke-width="0.8" />
<line x1="341.70" y1="514.16" x2="344.70" y2="514.16" stroke="#333" stroke-width="0.8" />
<line x1="359.90" y1="504.31" x2="359.90" y2="508.25" stroke="#333" stroke-width="0.8" />
<line x1="358.40" y1="504.31" x2="361.40" y2="504.31" stroke="#333" stroke-width="0.8" />
<line x1="358.40" y1="508.25" x2="361.40" y2="508.25" stroke="#333" stroke-width="0.8" />
<line x1="410.00" y1="498.54" x2="410.00" y2="502.48" stroke="#333" stroke-width="0.8" />
<line x1="408.50" y1="498.54" x2="411.50" y2="498.54" stroke="#333" stroke-width="0.8" />
<line x1="408.50" y1="502.48" x2="411.50" y2="502.48" stroke="#333" stroke-width="0.8" />
<line x1="510.20" y1="480.43" x2="510.20" y2="485.68" stroke="#333" stroke-width="0.8" />
<line x1="508.70" y1="480.43" x2="511.70" y2="480.43" stroke="#333" stroke-width="0.8" />
<line x1="508.70" y1="485.68" x2="511.70" y2="485.68" stroke="#333" stroke-width="0.8" />
<circle cx="309.80" cy="508.91" r="3.10" fill="#c4c4c4" stroke="#333" stroke-width="0.8"/>
<circle cx="318.15" cy="512.19" r="3.10" fill="#c4c4c4" stroke="#333" stroke-width="0.8"/>
<circle cx="329.84" cy="507.33" r="3.10" fill="#c4c4c4" stroke="#333" stroke-width="0.8"/>
<circle cx="343.20" cy="490.27" r="3.10" fill="#c4c4c4" stroke="#333" stroke-width="0.8"/>
<circle cx="359.90" cy="455.23" r="3.10" fill="#c4c4c4" stroke="#333" stroke-width="0.8"/>
<circle cx="410.00" cy="414.54" r="3.10" fill="#c4c4c4" stroke="#333" stroke-width="0.8"/>
<circle cx="510.20" cy="392.23" r="3.10" fill="#c4c4c4" stroke="#333" stroke-width="0.8"/>
<polygon points="306.39,505.69 313.21,505.69 309.80,511.66" fill="#c4c4c4" stroke="#333" stroke-width="0.8"/>
<polygon points="314.74,508.32 321.56,508.32 318.15,514.28" fill="#c4c4c4" stroke="#333" stroke-width="0.8"/>
<polygon points="326.43,509.63 333.25,509.63 329.84,515.60" fill="#c4c4c4" stroke="#333" stroke-width="0.8"/>
<polygon points="339.79,499.13 346.61,499.13 343.20,505.10" fill="#c4c4c4" stroke="#333" stroke-width="0.8"/>
<polygon points="356.49,471.17 363.31,471.17 359.90,477.14" fill="#c4c4c4" stroke="#333" stroke-width="0.8"/>
<polygon points="406.59,420.51 413.41,420.51 410.00,426.48" fill="#c4c4c4" stroke="#333" stroke-width="0.8"/>
<polygon points="506.79,390.19 513.61,390.19 510.20,396.16" fill="#c4c4c4" stroke="#333" stroke-width="0.8"/>
<rect x="306.95" y="508.02" width="5.70" height="5.70" fill="#c4c4c4" stroke="#333" stroke-width="0.8"/>
<rect x="315.30" y="510.65" width="5.70" height="5.70" fill="#c4c4c4" stroke="#333" stroke-width="0.8"/>
<rect x="326.99" y="515.64" width="5.70" height="5.70" fill="#c4c4c4" stroke="#333" stroke-width="0.8"/>
<rect x="340.35" y="509.99" width="5.70" height="5.70" fill="#c4c4c4" stroke="#333" stroke-width="0.8"/>
<rect x="357.05" y="486.10" width="5.70" height="5.70" fill="#c4c4c4" stroke="#333" stroke-width="0.8"/>
<rect x="407.15" y="430.72" width="5.70" height="5.70" fill="#c4c4c4" stroke="#333" stroke-width="0.8"/>
<rect x="507.35" y="396.85" width="5.70" height="5.70" fill="#c4c4c4" stroke="#333" stroke-width="0.8"/>
<polygon points="309.80,508.31 313.68,512.19 309.80,516.06 305.93,512.19" fill="#c4c4c4" stroke="#333" stroke-width="0.8"/>
<polygon points="318.15,508.31 322.03,512.19 318.15,516.06 314.28,512.19" fill="#c4c4c4" stroke="#333" stroke-width="0.8"/>
<polygon points="329.84,508.31 333.72,512.19 329.84,516.06 325.97,512.19" fill="#c4c4c4" stroke="#333" stroke-width="0.8"/>
<polygon points="343.20,509.62 347.07,513.50 343.20,517.38 339.32,513.50" fill="#c4c4c4" stroke="#333" stroke-width="0.8"/>
<polygon points="359.90,501.09 363.77,504.97 359.90,508.84 356.02,504.97" fill="#c4c4c4" stroke="#333" stroke-width="0.8"/>
<polygon points="410.00,493.09 413.88,496.96 410.00,500.84 406.12,496.96" fill="#c4c4c4" stroke="#333" stroke-width="0.8"/>
<polygon points="510.20,454.63 514.08,458.51 510.20,462.38 506.32,458.51" fill="#c4c4c4" stroke="#333" stroke-width="0.8"/>
<polygon points="306.39,506.87 313.21,506.87 309.80,500.90" fill="#c4c4c4" stroke="#333" stroke-width="0.8"/>
<polygon points="314.74,508.18 321.56,508.18 318.15,502.21" fill="#c4c4c4" stroke="#333" stroke-width="0.8"/>
<polygon points="326.43,516.32 333.25,516.32 329.84,510.35" fill="#c4c4c4" stroke="#333" stroke-width="0.8"/>
<polygon points="339.79,515.40 346.61,515.40 343.20,509.43" fill="#c4c4c4" stroke="#333" stroke-width="0.8"/>
<polygon points="356.49,508.84 363.31,508.84 359.90,502.87" fill="#c4c4c4" stroke="#333" stroke-width="0.8"/>
<polygon points="406.59,503.06 413.41,503.06 410.00,497.10" fill="#c4c4c4" stroke="#333" stroke-width="0.8"/>
<polygon points="506.79,485.61 513.61,485.61 510.20,479.64" fill="#c4c4c4" stroke="#333" stroke-width="0.8"/>
<text x="315.50" y="406.72" font-size="10.1" text-anchor="start" font-weight="normal" fill="#111" >Ro5-4864</text>
<text x="509.50" y="555.00" font-size="12" text-anchor="end" font-weight="normal" fill="#111" >Time (min)</text>
<text x="262.00" y="98.30" font-size="12" text-anchor="middle" font-weight="normal" fill="#111" ></text>
<text transform="translate(272.6,99.5) rotate(-90)" font-size="12" text-anchor="middle" fill="#111">Haemolysis (%)</text>
<line x1="463.30" y1="285.20" x2="475.40" y2="285.20" stroke="#333" stroke-width="0.8" />
<circle cx="469.30" cy="285.20" r="3.10" fill="#c4c4c4" stroke="#333" stroke-width="0.8"/>
<text x="479.30" y="287.35" font-size="6" text-anchor="start" font-weight="normal" fill="#111" >control</text>
<line x1="463.30" y1="294.68" x2="475.40" y2="294.68" stroke="#333" stroke-width="0.8" />
<polygon points="465.89,292.12 472.71,292.12 469.30,298.09" fill="#c4c4c4" stroke="#333" stroke-width="0.8"/>
<text x="479.30" y="296.83" font-size="6" text-anchor="start" font-weight="normal" fill="#111" >1μM</text>
<line x1="463.30" y1="304.16" x2="475.40" y2="304.16" stroke="#333" stroke-width="0.8" />
<rect x="466.45" y="301.31" width="5.70" height="5.70" fill="#c4c4c4" stroke="#333" stroke-width="0.8"/>
<text x="479.30" y="306.31" font-size="6" text-anchor="start" font-weight="normal" fill="#111" >10μM</text>
<line x1="463.30" y1="313.64" x2="475.40" y2="313.64" stroke="#333" stroke-width="0.8" />
<polygon points="469.30,309.76 473.18,313.64 469.30,317.51 465.43,313.64" fill="#c4c4c4" stroke="#333" stroke-width="0.8"/>
<text x="479.30" y="315.79" font-size="6" text-anchor="start" font-weight="normal" fill="#111" >50μM</text>
<line x1="463.30" y1="323.12" x2="475.40" y2="323.12" stroke="#333" stroke-width="0.8" />
<polygon points="465.89,325.68 472.71,325.68 469.30,319.71" fill="#c4c4c4" stroke="#333" stroke-width="0.8"/>
<text x="479.30" y="325.27" font-size="6" text-anchor="start" font-weight="normal" fill="#111" >100μM</text>
<line x1="463.30" y1="332.60" x2="475.40" y2="332.60" stroke="#333" stroke-width="0.8" />
<polygon points="469.30,335.70 466.62,334.15 466.62,331.05 469.30,329.50 471.98,331.05 471.98,334.15" fill="#c4c4c4" stroke="#333" stroke-width="0.8"/>
<text x="479.30" y="334.75" font-size="6" text-anchor="start" font-weight="normal" fill="#111" >500μM</text>
<polyline points="89.90,215.66 90.90,215.78 91.90,216.33 92.90,216.38 93.90,216.86 94.90,217.15 95.90,217.24 96.90,217.73 97.90,217.82 98.90,218.28 99.90,218.24 100.90,218.17 101.90,218.37 102.90,218.77 103.90,218.53 104.90,218.45 105.90,218.70 106.90,219.08 107.90,219.05 108.90,218.91 109.90,219.24 110.90,218.79 111.90,219.10 112.90,218.89 113.90,218.67 114.90,218.52 115.90,218.57 116.90,218.96 117.90,218.76 118.90,218.92 119.90,219.06 120.90,218.97 121.90,219.04 122.90,218.75 123.90,218.58 124.90,218.58 125.90,218.92 126.90,218.95 127.90,218.90 128.90,219.06 129.90,219.07 130.90,218.98 131.90,219.27 132.90,219.39 133.90,219.14 134.90,219.23 135.90,219.26 136.90,219.52 137.90,219.59 138.90,219.32 139.90,219.65 140.90,219.25 141.90,219.23 142.90,219.46 143.90,219.17 144.90,219.25 145.90,218.98 146.90,219.27 147.90,219.51 148.90,219.53 149.90,219.76 150.90,219.51 151.90,219.63 152.90,219.64 153.90,219.64 154.90,219.56 155.90,219.78 156.90,219.99 157.90,219.80 158.90,219.82 159.90,219.42 160.90,219.63 161.90,219.72 162.90,220.03 163.90,220.09 164.90,219.76 165.90,219.64 166.90,219.77 167.90,219.40 168.90,219.50 169.90,219.35 170.90,219.23 171.90,219.13 172.90,219.57 173.90,219.39 174.90,219.37 175.90,219.46 176.90,219.86 177.90,219.55 178.90,219.63 179.90,219.75 180.90,220.07 181.90,220.21 182.90,220.34 183.90,220.01 184.90,219.91 185.90,219.82 186.90,220.14 187.90,220.39 188.90,219.98 189.90,219.75 190.90,219.66 191.90,219.62 192.90,219.77 193.90,219.94 194.90,219.82 195.90,219.57 196.90,219.72 197.90,219.78 198.90,219.96 199.90,220.34 200.90,220.39 201.90,220.30 202.90,220.33 203.90,220.39 204.90,220.00 205.90,220.36 206.90,220.50" fill="none" stroke="#7a7a7a" stroke-width="0.5" stroke-linejoin="round" />
<polyline points="89.90,217.16 90.90,217.58 91.90,217.67 92.90,217.85 93.90,217.88 94.90,218.39 95.90,218.42 96.90,218.57 97.90,218.88 98.90,219.16 99.90,219.40 100.90,219.27 101.90,219.17 102.90,219.21 103.90,219.21 104.90,219.39 105.90,219.27 106.90,219.80 107.90,219.94 108.90,219.70 109.90,219.64 110.90,219.67 111.90,219.70 112.90,219.56 113.90,219.99 114.90,220.35 115.90,220.20 116.90,220.13 117.90,219.81 118.90,219.64 119.90,219.71 120.90,219.70 121.90,220.09 122.90,219.87 123.90,219.64 124.90,220.16 125.90,220.18 126.90,219.93 127.90,220.06 128.90,219.78 129.90,219.97 130.90,220.40 131.90,220.59 132.90,220.59 133.90,220.28 134.90,220.18 135.90,219.99 136.90,220.30 137.90,220.32 138.90,220.51 139.90,220.32 140.90,220.13 141.90,220.43 142.90,220.74 143.90,220.84 144.90,220.87 145.90,220.90 146.90,220.87 147.90,220.50 148.90,220.48 149.90,220.36 150.90,220.07 151.90,219.89 152.90,219.97 153.90,220.01 154.90,220.34 155.90,220.72 156.90,220.60 157.90,220.88 158.90,221.09 159.90,221.19 160.90,220.85 161.90,220.54 162.90,220.37 163.90,220.25 164.90,220.19 165.90,220.45 166.90,220.80 167.90,220.98 168.90,220.84 169.90,220.88 170.90,221.01 171.90,220.59 172.90,220.75 173.90,221.02 174.90,221.10 175.90,221.13 176.90,220.96 177.90,220.66 178.90,220.91 179.90,220.74 180.90,220.97 181.90,221.24 182.90,221.00 183.90,220.86 184.90,221.17 185.90,221.20 186.90,220.84 187.90,220.59 188.90,220.47 189.90,220.92 190.90,221.13 191.90,220.80 192.90,221.09 193.90,221.37 194.90,221.31 195.90,221.07 196.90,221.07 197.90,220.78 198.90,220.53 199.90,221.06 200.90,221.15 201.90,221.13 202.90,221.40 203.90,221.22 204.90,221.42 205.90,221.52 206.90,221.15" fill="none" stroke="#7a7a7a" stroke-width="0.5" stroke-linejoin="round" />
<polyline points="89.90,217.84 90.90,218.07 91.90,218.30 92.90,218.81 93.90,219.00 94.90,219.36 95.90,219.49 96.90,220.24 97.90,220.42 98.90,220.73 99.90,220.95 100.90,221.23 101.90,221.07 102.90,221.32 103.90,221.19 104.90,221.13 105.90,221.10 106.90,220.73 107.90,220.80 108.90,220.67 109.90,220.47 110.90,220.91 111.90,220.74 112.90,220.86 113.90,221.10 114.90,221.14 115.90,221.00 116.90,221.06 117.90,221.12 118.90,221.32 119.90,220.97 120.90,221.09 121.90,220.94 122.90,220.88 123.90,221.19 124.90,221.19 125.90,221.24 126.90,221.41 127.90,221.62 128.90,221.42 129.90,221.43 130.90,221.36 131.90,221.33 132.90,221.44 133.90,221.34 134.90,221.34 135.90,221.31 136.90,221.62 137.90,221.63 138.90,221.77 139.90,221.91 140.90,221.51 141.90,221.49 142.90,221.75 143.90,221.84 144.90,221.40 145.90,221.13 146.90,221.20 147.90,220.98 148.90,220.98 149.90,220.86 150.90,221.21 151.90,221.51 152.90,221.76 153.90,221.40 154.90,221.59 155.90,221.66 156.90,221.34 157.90,221.68 158.90,221.94 159.90,221.58 160.90,221.88 161.90,221.68 162.90,221.62 163.90,221.94 164.90,222.03 165.90,221.61 166.90,221.56 167.90,221.59 168.90,221.49 169.90,221.33 170.90,221.32 171.90,221.61 172.90,221.29 173.90,221.48 174.90,221.51 175.90,221.24 176.90,221.31 177.90,221.55 178.90,221.62 179.90,221.36 180.90,221.85 181.90,222.01 182.90,222.23 183.90,221.77 184.90,221.60 185.90,221.35 186.90,221.72 187.90,221.59 188.90,221.42 189.90,221.52 190.90,221.93 191.90,222.12 192.90,221.84 193.90,221.60 194.90,222.00 195.90,222.00 196.90,222.10 197.90,221.73 198.90,221.49 199.90,221.79 200.90,221.79 201.90,221.55 202.90,222.01 203.90,222.08 204.90,222.25 205.90,221.85 206.90,222.15" fill="none" stroke="#7a7a7a" stroke-width="0.5" stroke-linejoin="round" />
<polyline points="89.90,218.82 90.90,219.51 91.90,219.75 92.90,219.94 93.90,220.33 94.90,220.95 95.90,220.98 96.90,221.03 97.90,221.46 98.90,221.63 99.90,221.59 100.90,221.54 101.90,221.43 102.90,221.47 103.90,221.58 104.90,221.64 105.90,222.00 106.90,221.89 107.90,221.97 108.90,221.80 109.90,221.82 110.90,221.60 111.90,221.64 112.90,221.50 113.90,221.92 114.90,222.05 115.90,221.88 116.90,221.98 117.90,222.36 118.90,222.01 119.90,222.31 120.90,222.22 121.90,222.21 122.90,222.45 123.90,222.28 124.90,222.27 125.90,222.39 126.90,222.67 127.90,222.39 128.90,222.57 129.90,222.60 130.90,222.56 131.90,222.39 132.90,222.24 133.90,221.95 134.90,221.84 135.90,221.73 136.90,222.13 137.90,222.04 138.90,221.93 139.90,221.80 140.90,222.26 141.90,222.56 142.90,222.60 143.90,222.36 144.90,222.19 145.90,222.13 146.90,222.21 147.90,222.05 148.90,222.16 149.90,222.10 150.90,222.56 151.90,222.84 152.90,222.72 153.90,222.43 154.90,222.77 155.90,222.52 156.90,222.40 157.90,222.09 158.90,222.17 159.90,222.28 160.90,222.38 161.90,222.22 162.90,222.35 163.90,222.08 164.90,222.10 165.90,221.99 166.90,222.15 167.90,221.99 168.90,221.89 169.90,222.03 170.90,222.07 171.90,222.34 172.90,222.46 173.90,222.70 174.90,222.78 175.90,222.87 176.90,223.04 177.90,222.80 178.90,222.62 179.90,222.97 180.90,222.60 181.90,222.79 182.90,222.85 183.90,222.46 184.90,222.79 185.90,223.03 186.90,222.99 187.90,223.05 188.90,223.14 189.90,222.72 190.90,222.75 191.90,222.75 192.90,222.99 193.90,223.11 194.90,223.21 195.90,223.09 196.90,223.25 197.90,223.20 198.90,223.17 199.90,222.84 200.90,222.50 201.90,222.38 202.90,222.46 203.90,222.34 204.90,222.78 205.90,222.85 206.90,222.95" fill="none" stroke="#7a7a7a" stroke-width="0.5" stroke-linejoin="round" />
<polyline points="89.90,220.33 90.90,220.73 91.90,220.95 92.90,220.87 93.90,221.50 94.90,221.97 95.90,222.19 96.90,222.48 97.90,222.86 98.90,222.79 99.90,223.16 100.90,222.98 101.90,222.74 102.90,222.74 103.90,223.07 104.90,222.90 105.90,223.17 106.90,223.50 107.90,223.37 108.90,223.21 109.90,223.19 110.90,223.32 111.90,223.46 112.90,223.44 113.90,223.45 114.90,223.06 115.90,222.88 116.90,222.84 117.90,223.17 118.90,223.06 119.90,223.18 120.90,222.87 121.90,222.71 122.90,222.77 123.90,223.09 124.90,223.30 125.90,223.41 126.90,223.22 127.90,223.26 128.90,223.25 129.90,223.25 130.90,223.00 131.90,223.40 132.90,223.16 133.90,223.56 134.90,223.77 135.90,223.26 136.90,223.27 137.90,223.52 138.90,223.78 139.90,223.58 140.90,223.33 141.90,223.14 142.90,223.55 143.90,223.28 144.90,223.38 145.90,223.14 146.90,223.26 147.90,223.63 148.90,223.29 149.90,223.56 150.90,223.51 151.90,223.75 152.90,223.77 153.90,223.45 154.90,223.73 155.90,223.61 156.90,223.22 157.90,222.97 158.90,223.16 159.90,223.25 160.90,223.21 161.90,223.07 162.90,223.13 163.90,223.15 164.90,223.53 165.90,223.17 166.90,223.49 167.90,223.74 168.90,223.39 169.90,223.75 170.90,223.81 171.90,223.99 172.90,223.67 173.90,223.53 174.90,223.47 175.90,223.86 176.90,223.81 177.90,223.62 178.90,223.56 179.90,223.41 180.90,223.17 181.90,223.07 182.90,223.52 183.90,223.41 184.90,223.80 185.90,223.55 186.90,223.42 187.90,223.52 188.90,223.35 189.90,223.38 190.90,223.81 191.90,224.02 192.90,224.10 193.90,224.02 194.90,224.17 195.90,224.29 196.90,224.08 197.90,224.08 198.90,223.62 199.90,223.82 200.90,223.74 201.90,223.91 202.90,223.94 203.90,223.71 204.90,223.40 205.90,223.84 206.90,223.54" fill="none" stroke="#7a7a7a" stroke-width="0.5" stroke-linejoin="round" />
<polyline points="89.90,221.33 90.90,221.54 91.90,221.75 92.90,222.30 93.90,222.93 94.90,222.92 95.90,223.31 96.90,223.42 97.90,223.79 98.90,224.02 99.90,223.94 100.90,223.81 101.90,223.77 102.90,224.24 103.90,224.24 104.90,224.04 105.90,224.41 106.90,224.69 107.90,224.48 108.90,224.14 109.90,223.97 110.90,223.80 111.90,223.87 112.90,223.75 113.90,223.77 114.90,223.81 115.90,224.04 116.90,224.41 117.90,224.54 118.90,224.38 119.90,224.28 120.90,224.31 121.90,224.22 122.90,224.14 123.90,223.90 124.90,223.91 125.90,224.40 126.90,224.11 127.90,224.20 128.90,224.34 129.90,224.59 130.90,224.29 131.90,224.15 132.90,224.05 133.90,224.10 134.90,224.17 135.90,224.56 136.90,224.72 137.90,224.84 138.90,224.32 139.90,224.01 140.90,224.31 141.90,224.61 142.90,224.50 143.90,224.52 144.90,224.12 145.90,224.15 146.90,224.55 147.90,224.72 148.90,224.84 149.90,225.00 150.90,224.59 151.90,224.25 152.90,224.08 153.90,224.23 154.90,224.44 155.90,224.75 156.90,224.78 157.90,224.75 158.90,224.81 159.90,224.64 160.90,224.60 161.90,224.22 162.90,224.52 163.90,224.31 164.90,224.67 165.90,224.69 166.90,224.47 167.90,224.21 168.90,224.15 169.90,224.38 170.90,224.56 171.90,224.27 172.90,224.06 173.90,224.26 174.90,224.41 175.90,224.38 176.90,224.24 177.90,224.42 178.90,224.12 179.90,224.14 180.90,224.27 181.90,224.70 182.90,224.74 183.90,224.93 184.90,224.76 185.90,224.49 186.90,224.34 187.90,224.75 188.90,224.82 189.90,224.58 190.90,224.24 191.90,224.38 192.90,224.58 193.90,224.52 194.90,224.38 195.90,224.58 196.90,224.88 197.90,224.58 198.90,224.26 199.90,224.29 200.90,224.36 201.90,224.59 202.90,224.39 203.90,224.69 204.90,224.83 205.90,224.75 206.90,224.50" fill="none" stroke="#7a7a7a" stroke-width="0.5" stroke-linejoin="round" />
<polyline points="89.90,222.60 90.90,222.63 91.90,223.13 92.90,223.14 93.90,223.26 94.90,223.83 95.90,223.97 96.90,224.63 97.90,224.83 98.90,224.85 99.90,224.83 100.90,224.89 101.90,225.09 102.90,225.42 103.90,225.05 104.90,225.00 105.90,224.85 106.90,225.29 107.90,224.97 108.90,224.72 109.90,224.58 110.90,224.72 111.90,225.17 112.90,225.42 113.90,225.47 114.90,225.69 115.90,225.77 116.90,225.40 117.90,225.08 118.90,225.41 119.90,225.48 120.90,225.02 121.90,225.19 122.90,225.09 123.90,225.03 124.90,224.96 125.90,224.81 126.90,224.60 127.90,224.67 128.90,224.77 129.90,225.25 130.90,224.95 131.90,225.36 132.90,225.08 133.90,225.02 134.90,225.31 135.90,225.48 136.90,225.31 137.90,224.95 138.90,225.02 139.90,225.00 140.90,225.37 141.90,225.08 142.90,225.03 143.90,225.37 144.90,224.97 145.90,225.00 146.90,225.30 147.90,225.45 148.90,225.03 149.90,224.77 150.90,224.64 151.90,225.16 152.90,225.01 153.90,225.27 154.90,225.52 155.90,225.29 156.90,225.10 157.90,225.47 158.90,225.45 159.90,225.20 160.90,225.36 161.90,225.18 162.90,225.04 163.90,224.77 164.90,225.14 165.90,225.47 166.90,225.47 167.90,225.69 168.90,225.18 169.90,225.02 170.90,225.09 171.90,225.47 172.90,225.70 173.90,225.44 174.90,225.19 175.90,225.17 176.90,225.20 177.90,225.52 178.90,225.20 179.90,225.44 180.90,225.54 181.90,225.65 182.90,225.69 183.90,225.60 184.90,225.35 185.90,225.19 186.90,225.13 187.90,225.39 188.90,225.05 189.90,224.93 190.90,225.25 191.90,225.09 192.90,224.86 193.90,224.71 194.90,224.98 195.90,224.98 196.90,225.45 197.90,225.66 198.90,225.86 199.90,225.47 200.90,225.11 201.90,224.91 202.90,225.07 203.90,225.31 204.90,225.27 205.90,225.10 206.90,225.13" fill="none" stroke="#7a7a7a" stroke-width="0.5" stroke-linejoin="round" />
<polyline points="89.90,225.50 90.90,225.64 91.90,225.78 92.90,225.95 93.90,225.99 94.90,225.82 95.90,226.06 96.90,226.00 97.90,226.11 98.90,226.13 99.90,226.28 100.90,226.12 101.90,226.04 102.90,225.99 103.90,225.92 104.90,226.20 105.90,226.24 106.90,226.15 107.90,226.12 108.90,226.37 109.90,226.30 110.90,226.14 111.90,226.30 112.90,226.33 113.90,226.49 114.90,226.20 115.90,226.19 116.90,226.33 117.90,226.43 118.90,226.52 119.90,226.19 120.90,226.10 121.90,225.97 122.90,225.93 123.90,226.24 124.90,226.26 125.90,226.43 126.90,226.28 127.90,226.41 128.90,226.30 129.90,226.16 130.90,226.30 131.90,226.45 132.90,226.18 133.90,226.23 134.90,226.27 135.90,226.12 136.90,226.09 137.90,225.98 138.90,225.94 139.90,225.93 140.90,226.08 141.90,226.20 142.90,226.07 143.90,225.91 144.90,225.95 145.90,226.13 146.90,226.02 147.90,226.01 148.90,225.95 149.90,226.18 150.90,226.21 151.90,226.01 152.90,225.91 153.90,225.98 154.90,226.09 155.90,226.20 156.90,226.02 157.90,225.94 158.90,226.13 159.90,226.12 160.90,226.06 161.90,226.03 162.90,226.30 163.90,226.18 164.90,226.21 165.90,226.15 166.90,226.13 167.90,226.32 168.90,226.49 169.90,226.31 170.90,226.14 171.90,226.26 172.90,226.11 173.90,225.93 174.90,226.21 175.90,226.17 176.90,226.33 177.90,226.23 178.90,226.39 179.90,226.30 180.90,226.11 181.90,225.93 182.90,226.06 183.90,226.18 184.90,226.37 185.90,226.12 186.90,226.21 187.90,226.15 188.90,226.17 189.90,226.03 190.90,226.00 191.90,226.09 192.90,226.32 193.90,226.10 194.90,226.14 195.90,226.30 196.90,226.46 197.90,226.22 198.90,226.05 199.90,226.31 200.90,226.47 201.90,226.36 202.90,226.10 203.90,226.33 204.90,226.23 205.90,226.39 206.90,226.37" fill="none" stroke="#747474" stroke-width="0.5" stroke-linejoin="round" />
<polyline points="89.90,227.09 90.90,226.96 91.90,227.20 92.90,227.12 93.90,227.18 94.90,227.45 95.90,227.63 96.90,227.49 97.90,227.45 98.90,227.54 99.90,227.63 100.90,227.61 101.90,227.48 102.90,227.46 103.90,227.65 104.90,227.85 105.90,227.59 106.90,227.66 107.90,227.79 108.90,227.55 109.90,227.76 110.90,227.57 111.90,227.66 112.90,227.70 113.90,227.76 114.90,227.65 115.90,227.63 116.90,227.70 117.90,227.67 118.90,227.75 119.90,227.71 120.90,227.68 121.90,227.48 122.90,227.62 123.90,227.65 124.90,227.55 125.90,227.73 126.90,227.84 127.90,227.77 128.90,227.60 129.90,227.63 130.90,227.48 131.90,227.41 132.90,227.49 133.90,227.40 134.90,227.49 135.90,227.58 136.90,227.43 137.90,227.60 138.90,227.45 139.90,227.65 140.90,227.80 141.90,227.76 142.90,227.54 143.90,227.61 144.90,227.59 145.90,227.83 146.90,227.62 147.90,227.81 148.90,227.98 149.90,227.97 150.90,228.00 151.90,227.75 152.90,227.94 153.90,227.84 154.90,227.99 155.90,228.05 156.90,227.77 157.90,227.87 158.90,227.99 159.90,227.68 160.90,227.62 161.90,227.77 162.90,227.59 163.90,227.81 164.90,227.67 165.90,227.82 166.90,227.61 167.90,227.65 168.90,227.85 169.90,227.66 170.90,227.57 171.90,227.63 172.90,227.58 173.90,227.42 174.90,227.39 175.90,227.37 176.90,227.69 177.90,227.77 178.90,227.92 179.90,227.69 180.90,227.82 181.90,227.60 182.90,227.65 183.90,227.73 184.90,227.66 185.90,227.84 186.90,227.81 187.90,227.80 188.90,227.93 189.90,227.66 190.90,227.89 191.90,227.87 192.90,227.76 193.90,227.87 194.90,227.70 195.90,227.91 196.90,227.86 197.90,227.74 198.90,227.84 199.90,227.76 200.90,227.59 201.90,227.74 202.90,227.53 203.90,227.74 204.90,227.61 205.90,227.71 206.90,227.92" fill="none" stroke="#747474" stroke-width="0.5" stroke-linejoin="round" />
<polyline points="89.90,228.49 90.90,228.62 91.90,228.58 92.90,228.45 93.90,228.42 94.90,228.49 95.90,228.76 96.90,228.88 97.90,229.02 98.90,229.30 99.90,229.12 100.90,229.03 101.90,229.17 102.90,228.97 103.90,228.84 104.90,228.92 105.90,228.86 106.90,228.93 107.90,228.92 108.90,229.07 109.90,229.16 110.90,229.05 111.90,229.16 112.90,229.17 113.90,229.02 114.90,229.28 115.90,229.14 116.90,229.01 117.90,228.91 118.90,229.09 119.90,229.29 120.90,229.38 121.90,229.27 122.90,229.14 123.90,228.95 124.90,229.11 125.90,229.17 126.90,229.12 127.90,229.22 128.90,229.18 129.90,229.38 130.90,229.41 131.90,229.22 132.90,229.39 133.90,229.11 134.90,229.16 135.90,229.14 136.90,229.05 137.90,228.91 138.90,229.15 139.90,228.96 140.90,229.08 141.90,229.32 142.90,229.11 143.90,229.02 144.90,229.14 145.90,229.17 146.90,229.24 147.90,229.36 148.90,229.15 149.90,229.09 150.90,229.05 151.90,228.91 152.90,229.20 153.90,229.32 154.90,229.37 155.90,229.08 156.90,229.28 157.90,229.36 158.90,229.28 159.90,229.35 160.90,229.27 161.90,229.12 162.90,228.98 163.90,228.95 164.90,228.85 165.90,228.92 166.90,229.14 167.90,229.25 168.90,229.38 169.90,229.40 170.90,229.22 171.90,229.23 172.90,229.19 173.90,229.32 174.90,229.28 175.90,229.15 176.90,229.23 177.90,229.42 178.90,229.21 179.90,229.37 180.90,229.09 181.90,229.03 182.90,228.98 183.90,229.18 184.90,229.38 185.90,229.42 186.90,229.25 187.90,229.40 188.90,229.24 189.90,229.11 190.90,229.33 191.90,229.33 192.90,229.36 193.90,229.37 194.90,229.51 195.90,229.37 196.90,229.45 197.90,229.44 198.90,229.50 199.90,229.35 200.90,229.39 201.90,229.35 202.90,229.20 203.90,229.07 204.90,229.18 205.90,229.00 206.90,229.26" fill="none" stroke="#747474" stroke-width="0.5" stroke-linejoin="round" />
<polyline points="89.90,230.49 90.90,230.43 91.90,230.45 92.90,230.86 93.90,230.89 94.90,230.84 95.90,230.80 96.90,230.81 97.90,231.13 98.90,231.33 99.90,231.47 100.90,231.54 101.90,231.30 102.90,231.38 103.90,231.33 104.90,231.50 105.90,231.60 106.90,231.69 107.90,231.38 108.90,231.55 109.90,231.67 110.90,231.76 111.90,231.44 112.90,231.30 113.90,231.17 114.90,231.06 115.90,231.35 116.90,231.51 117.90,231.52 118.90,231.62 119.90,231.59 120.90,231.42 121.90,231.24 122.90,231.12 123.90,231.35 124.90,231.24 125.90,231.22 126.90,231.26 127.90,231.11 128.90,231.12 129.90,231.13 130.90,231.34 131.90,231.30 132.90,231.26 133.90,231.52 134.90,231.47 135.90,231.60 136.90,231.57 137.90,231.30 138.90,231.30 139.90,231.31 140.90,231.47 141.90,231.37 142.90,231.47 143.90,231.46 144.90,231.31 145.90,231.51 146.90,231.28 147.90,231.47 148.90,231.30 149.90,231.12 150.90,231.10 151.90,231.34 152.90,231.57 153.90,231.28 154.90,231.33 155.90,231.35 156.90,231.50 157.90,231.32 158.90,231.35 159.90,231.30 160.90,231.49 161.90,231.35 162.90,231.56 163.90,231.40 164.90,231.28 165.90,231.41 166.90,231.41 167.90,231.23 168.90,231.36 169.90,231.19 170.90,231.40 171.90,231.49 172.90,231.58 173.90,231.56 174.90,231.43 175.90,231.38 176.90,231.34 177.90,231.54 178.90,231.30 179.90,231.51 180.90,231.26 181.90,231.19 182.90,231.17 183.90,231.44 184.90,231.42 185.90,231.36 186.90,231.55 187.90,231.37 188.90,231.36 189.90,231.39 190.90,231.51 191.90,231.58 192.90,231.57 193.90,231.44 194.90,231.34 195.90,231.22 196.90,231.44 197.90,231.50 198.90,231.56 199.90,231.35 200.90,231.34 201.90,231.49 202.90,231.49 203.90,231.29 204.90,231.32 205.90,231.52 206.90,231.36" fill="none" stroke="#747474" stroke-width="0.5" stroke-linejoin="round" />
<polyline points="89.90,233.61 90.90,233.66 91.90,233.90 92.90,234.13 93.90,234.00 94.90,233.96 95.90,234.00 96.90,234.10 97.90,234.27 98.90,234.25 99.90,234.29 100.90,234.24 101.90,234.55 102.90,234.63 103.90,234.40 104.90,234.65 105.90,234.41 106.90,234.40 107.90,234.65 108.90,234.72 109.90,234.73 110.90,234.61 111.90,234.43 112.90,234.52 113.90,234.34 114.90,234.27 115.90,234.32 116.90,234.18 117.90,234.27 118.90,234.49 119.90,234.58 120.90,234.55 121.90,234.59 122.90,234.54 123.90,234.36 124.90,234.46 125.90,234.44 126.90,234.57 127.90,234.72 128.90,234.60 129.90,234.59 130.90,234.67 131.90,234.56 132.90,234.42 133.90,234.55 134.90,234.70 135.90,234.74 136.90,234.73 137.90,234.79 138.90,234.76 139.90,234.72 140.90,234.61 141.90,234.48 142.90,234.55 143.90,234.35 144.90,234.38 145.90,234.55 146.90,234.62 147.90,234.63 148.90,234.47 149.90,234.45 150.90,234.45 151.90,234.52 152.90,234.47 153.90,234.56 154.90,234.73 155.90,234.50 156.90,234.57 157.90,234.66 158.90,234.55 159.90,234.52 160.90,234.72 161.90,234.43 162.90,234.48 163.90,234.34 164.90,234.53 165.90,234.71 166.90,234.63 167.90,234.41 168.90,234.48 169.90,234.50 170.90,234.60 171.90,234.56 172.90,234.60 173.90,234.70 174.90,234.63 175.90,234.54 176.90,234.72 177.90,234.51 178.90,234.58 179.90,234.50 180.90,234.62 181.90,234.40 182.90,234.66 183.90,234.53 184.90,234.32 185.90,234.29 186.90,234.33 187.90,234.19 188.90,234.28 189.90,234.33 190.90,234.49 191.90,234.43 192.90,234.35 193.90,234.29 194.90,234.48 195.90,234.68 196.90,234.62 197.90,234.45 198.90,234.60 199.90,234.51 200.90,234.38 201.90,234.27 202.90,234.48 203.90,234.62 204.90,234.63 205.90,234.57 206.90,234.57" fill="none" stroke="#747474" stroke-width="0.5" stroke-linejoin="round" />
<polyline points="89.90,236.03 90.90,236.36 91.90,236.32 92.90,236.46 93.90,236.65 94.90,236.80 95.90,236.76 96.90,236.70 97.90,236.80 98.90,236.71 99.90,236.95 100.90,236.87 101.90,237.04 102.90,236.88 103.90,236.83 104.90,236.75 105.90,236.78 106.90,236.69 107.90,236.55 108.90,236.79 109.90,236.74 110.90,236.69 111.90,236.69 112.90,236.76 113.90,236.79 114.90,236.89 115.90,236.97 116.90,236.88 117.90,237.08 118.90,237.16 119.90,236.86 120.90,237.02 121.90,237.15 122.90,237.18 123.90,236.91 124.90,237.05 125.90,237.05 126.90,236.78 127.90,236.61 128.90,236.93 129.90,236.98 130.90,236.84 131.90,236.69 132.90,236.62 133.90,236.61 134.90,236.85 135.90,236.80 136.90,236.69 137.90,236.95 138.90,237.06 139.90,236.85 140.90,237.04 141.90,237.03 142.90,237.10 143.90,237.10 144.90,237.19 145.90,237.20 146.90,237.23 147.90,236.96 148.90,237.02 149.90,236.99 150.90,237.06 151.90,236.97 152.90,237.11 153.90,237.05 154.90,236.89 155.90,236.77 156.90,236.67 157.90,236.76 158.90,236.62 159.90,236.72 160.90,236.63 161.90,236.74 162.90,236.80 163.90,236.86 164.90,237.03 165.90,236.76 166.90,236.97 167.90,236.93 168.90,236.94 169.90,237.00 170.90,237.11 171.90,236.97 172.90,236.91 173.90,237.11 174.90,236.84 175.90,236.92 176.90,236.97 177.90,236.74 178.90,236.85 179.90,236.95 180.90,237.12 181.90,236.96 182.90,237.15 183.90,237.05 184.90,236.98 185.90,237.13 186.90,236.83 187.90,236.95 188.90,236.99 189.90,236.88 190.90,237.05 191.90,236.93 192.90,236.91 193.90,236.92 194.90,237.03 195.90,236.85 196.90,236.84 197.90,236.83 198.90,236.88 199.90,237.03 200.90,236.89 201.90,237.04 202.90,236.94 203.90,236.93 204.90,236.81 205.90,236.85 206.90,237.08" fill="none" stroke="#747474" stroke-width="0.5" stroke-linejoin="round" />
<polyline points="89.90,241.62 90.90,241.80 91.90,241.74 92.90,241.72 93.90,241.74 94.90,241.91 95.90,242.06 96.90,242.25 97.90,242.07 98.90,242.30 99.90,242.49 100.90,242.43 101.90,242.18 102.90,242.14 103.90,241.99 104.90,241.98 105.90,242.29 106.90,242.34 107.90,242.39 108.90,242.48 109.90,242.59 110.90,242.52 111.90,242.49 112.90,242.47 113.90,242.49 114.90,242.45 115.90,242.47 116.90,242.28 117.90,242.36 118.90,242.32 119.90,242.43 120.90,242.20 121.90,242.10 122.90,241.98 123.90,242.23 124.90,242.44 125.90,242.45 126.90,242.33 127.90,242.46 128.90,242.52 129.90,242.46 130.90,242.29 131.90,242.21 132.90,242.21 133.90,242.17 134.90,242.19 135.90,242.30 136.90,242.49 137.90,242.22 138.90,242.28 139.90,242.09 140.90,242.00 141.90,242.26 142.90,242.31 143.90,242.49 144.90,242.39 145.90,242.14 146.90,242.15 147.90,242.25 148.90,242.46 149.90,242.61 150.90,242.48 151.90,242.37 152.90,242.16 153.90,242.28 154.90,242.16 155.90,242.06 156.90,241.95 157.90,241.87 158.90,242.12 159.90,242.03 160.90,242.34 161.90,242.14 162.90,242.37 163.90,242.18 164.90,242.01 165.90,242.23 166.90,242.14 167.90,242.31 168.90,242.17 169.90,242.02 170.90,242.25 171.90,242.37 172.90,242.50 173.90,242.52 174.90,242.25 175.90,242.33 176.90,242.41 177.90,242.35 178.90,242.52 179.90,242.32 180.90,242.52 181.90,242.53 182.90,242.22 183.90,242.04 184.90,242.21 185.90,242.39 186.90,242.17 187.90,242.14 188.90,242.30 189.90,242.15 190.90,242.37 191.90,242.34 192.90,242.13 193.90,242.14 194.90,242.24 195.90,242.23 196.90,242.34 197.90,242.17 198.90,242.35 199.90,242.27 200.90,242.35 201.90,242.38 202.90,242.31 203.90,242.26 204.90,242.40 205.90,242.56 206.90,242.58" fill="none" stroke="#747474" stroke-width="0.5" stroke-linejoin="round" />
<polyline points="89.90,245.08 90.90,245.05 91.90,244.97 92.90,245.35 93.90,245.50 94.90,245.67 95.90,245.59 96.90,245.69 97.90,245.95 98.90,246.07 99.90,246.03 100.90,245.85 101.90,245.80 102.90,245.97 103.90,245.85 104.90,245.91 105.90,245.91 106.90,246.04 107.90,246.08 108.90,245.87 109.90,245.62 110.90,245.59 111.90,245.64 112.90,245.74 113.90,245.90 114.90,246.03 115.90,245.74 116.90,245.91 117.90,246.00 118.90,246.08 119.90,246.00 120.90,245.82 121.90,245.97 122.90,246.04 123.90,246.02 124.90,246.12 125.90,245.92 126.90,245.69 127.90,245.76 128.90,245.91 129.90,245.73 130.90,245.87 131.90,246.03 132.90,245.82 133.90,245.86 134.90,245.91 135.90,245.85 136.90,245.70 137.90,245.63 138.90,245.81 139.90,245.93 140.90,245.86 141.90,245.66 142.90,245.85 143.90,245.95 144.90,245.77 145.90,245.82 146.90,245.99 147.90,246.08 148.90,245.98 149.90,245.90 150.90,245.90 151.90,245.72 152.90,245.62 153.90,245.55 154.90,245.74 155.90,245.70 156.90,245.77 157.90,245.74 158.90,245.77 159.90,245.63 160.90,245.50 161.90,245.84 162.90,245.77 163.90,245.61 164.90,245.74 165.90,245.89 166.90,245.70 167.90,245.79 168.90,245.72 169.90,245.76 170.90,245.57 171.90,245.45 172.90,245.81 173.90,245.97 174.90,245.89 175.90,245.89 176.90,245.75 177.90,245.89 178.90,245.82 179.90,246.01 180.90,246.04 181.90,246.09 182.90,246.18 183.90,245.92 184.90,245.67 185.90,245.59 186.90,245.53 187.90,245.46 188.90,245.40 189.90,245.58 190.90,245.83 191.90,245.80 192.90,246.00 193.90,246.10 194.90,245.79 195.90,245.84 196.90,245.78 197.90,245.62 198.90,245.89 199.90,245.75 200.90,245.80 201.90,245.86 202.90,246.04 203.90,246.02 204.90,245.88 205.90,245.83 206.90,245.67" fill="none" stroke="#747474" stroke-width="0.5" stroke-linejoin="round" />
<polyline points="89.90,248.55 90.90,248.77 91.90,248.59 92.90,248.43 93.90,248.47 94.90,248.56 95.90,248.89 96.90,249.13 97.90,249.27 98.90,249.04 99.90,249.21 100.90,249.26 101.90,249.26 102.90,249.41 103.90,249.09 104.90,248.94 105.90,249.11 106.90,249.30 107.90,249.30 108.90,249.13 109.90,249.16 110.90,249.25 111.90,249.02 112.90,248.97 113.90,248.92 114.90,248.82 115.90,248.93 116.90,248.85 117.90,248.83 118.90,248.78 119.90,248.99 120.90,248.82 121.90,249.03 122.90,248.92 123.90,248.79 124.90,249.10 125.90,248.98 126.90,249.22 127.90,249.33 128.90,249.41 129.90,249.13 130.90,249.09 131.90,248.92 132.90,249.18 133.90,249.30 134.90,249.28 135.90,249.18 136.90,249.08 137.90,249.23 138.90,249.17 139.90,249.20 140.90,249.00 141.90,248.92 142.90,248.80 143.90,249.01 144.90,249.07 145.90,248.93 146.90,249.16 147.90,249.03 148.90,249.02 149.90,248.90 150.90,248.88 151.90,249.12 152.90,249.04 153.90,248.92 154.90,248.99 155.90,248.95 156.90,249.19 157.90,248.98 158.90,249.24 159.90,248.99 160.90,249.21 161.90,249.24 162.90,249.06 163.90,249.06 164.90,248.98 165.90,248.92 166.90,248.86 167.90,248.90 168.90,249.19 169.90,249.38 170.90,249.45 171.90,249.13 172.90,249.03 173.90,249.23 174.90,248.98 175.90,249.13 176.90,249.03 177.90,249.27 178.90,248.99 179.90,249.17 180.90,249.07 181.90,248.92 182.90,248.78 183.90,249.05 184.90,249.08 185.90,248.95 186.90,248.98 187.90,249.21 188.90,249.04 189.90,249.10 190.90,248.94 191.90,248.86 192.90,249.08 193.90,249.18 194.90,249.01 195.90,248.86 196.90,248.78 197.90,248.95 198.90,249.01 199.90,248.95 200.90,248.88 201.90,249.02 202.90,249.14 203.90,249.26 204.90,249.23 205.90,249.05 206.90,248.88" fill="none" stroke="#747474" stroke-width="0.5" stroke-linejoin="round" />
<polyline points="89.90,251.65 90.90,251.65 91.90,251.82 92.90,251.66 93.90,251.93 94.90,251.91 95.90,252.16 96.90,252.35 97.90,252.33 98.90,252.14 99.90,252.40 100.90,252.35 101.90,252.49 102.90,252.31 103.90,252.17 104.90,252.37 105.90,252.28 106.90,252.14 107.90,252.15 108.90,252.25 109.90,252.05 110.90,252.16 111.90,252.19 112.90,252.24 113.90,252.10 114.90,252.27 115.90,252.42 116.90,252.53 117.90,252.36 118.90,252.43 119.90,252.33 120.90,252.43 121.90,252.18 122.90,252.39 123.90,252.56 124.90,252.45 125.90,252.40 126.90,252.37 127.90,252.36 128.90,252.12 129.90,252.40 130.90,252.24 131.90,252.12 132.90,252.02 133.90,252.02 134.90,252.27 135.90,252.08 136.90,251.99 137.90,252.20 138.90,252.11 139.90,251.97 140.90,252.15 141.90,252.24 142.90,252.28 143.90,252.37 144.90,252.17 145.90,252.38 146.90,252.45 147.90,252.19 148.90,252.07 149.90,252.16 150.90,252.21 151.90,252.15 152.90,252.04 153.90,252.11 154.90,252.02 155.90,252.17 156.90,252.38 157.90,252.19 158.90,252.27 159.90,252.39 160.90,252.21 161.90,252.39 162.90,252.54 163.90,252.40 164.90,252.32 165.90,252.46 166.90,252.41 167.90,252.32 168.90,252.51 169.90,252.55 170.90,252.38 171.90,252.23 172.90,252.19 173.90,252.20 174.90,252.45 175.90,252.53 176.90,252.62 177.90,252.63 178.90,252.65 179.90,252.31 180.90,252.32 181.90,252.51 182.90,252.62 183.90,252.38 184.90,252.31 185.90,252.37 186.90,252.28 187.90,252.30 188.90,252.11 189.90,252.16 190.90,252.22 191.90,252.04 192.90,251.98 193.90,252.32 194.90,252.43 195.90,252.57 196.90,252.52 197.90,252.57 198.90,252.63 199.90,252.67 200.90,252.32 201.90,252.37 202.90,252.24 203.90,252.34 204.90,252.23 205.90,252.27 206.90,252.47" fill="none" stroke="#747474" stroke-width="0.5" stroke-linejoin="round" />
<polyline points="89.90,255.10 90.90,255.05 91.90,255.17 92.90,255.24 93.90,255.54 94.90,255.45 95.90,255.45 96.90,255.62 97.90,255.53 98.90,255.72 99.90,255.97 100.90,255.91 101.90,255.76 102.90,255.76 103.90,255.79 104.90,255.64 105.90,255.54 106.90,255.48 107.90,255.52 108.90,255.59 109.90,255.58 110.90,255.56 111.90,255.47 112.90,255.62 113.90,255.84 114.90,255.87 115.90,255.88 116.90,255.91 117.90,255.74 118.90,255.85 119.90,255.82 120.90,255.83 121.90,255.87 122.90,255.83 123.90,255.73 124.90,255.65 125.90,255.59 126.90,255.68 127.90,255.67 128.90,255.76 129.90,255.56 130.90,255.59 131.90,255.83 132.90,255.71 133.90,255.77 134.90,255.78 135.90,255.69 136.90,255.95 137.90,255.80 138.90,255.92 139.90,255.72 140.90,255.56 141.90,255.82 142.90,255.79 143.90,255.60 144.90,255.63 145.90,255.67 146.90,255.83 147.90,255.64 148.90,255.59 149.90,255.87 150.90,255.95 151.90,255.74 152.90,255.69 153.90,255.67 154.90,255.80 155.90,255.85 156.90,255.98 157.90,256.05 158.90,255.96 159.90,256.00 160.90,256.03 161.90,256.05 162.90,255.94 163.90,256.01 164.90,256.02 165.90,256.11 166.90,255.82 167.90,255.98 168.90,255.69 169.90,255.85 170.90,255.87 171.90,255.84 172.90,256.03 173.90,255.97 174.90,255.86 175.90,255.96 176.90,256.06 177.90,256.00 178.90,255.87 179.90,255.82 180.90,255.79 181.90,255.89 182.90,255.77 183.90,255.73 184.90,255.78 185.90,255.74 186.90,255.69 187.90,255.86 188.90,255.99 189.90,255.91 190.90,255.84 191.90,255.69 192.90,255.65 193.90,255.55 194.90,255.68 195.90,255.77 196.90,255.60 197.90,255.86 198.90,255.76 199.90,255.93 200.90,256.03 201.90,256.14 202.90,255.87 203.90,255.81 204.90,255.99 205.90,255.70 206.90,255.54" fill="none" stroke="#747474" stroke-width="0.5" stroke-linejoin="round" />
<polyline points="89.90,258.48 90.90,258.54 91.90,258.80 92.90,258.93 93.90,258.93 94.90,259.16 95.90,259.12 96.90,259.13 97.90,259.24 98.90,259.21 99.90,259.16 100.90,259.22 101.90,259.15 102.90,259.37 103.90,259.38 104.90,259.32 105.90,259.09 106.90,259.08 107.90,259.09 108.90,259.16 109.90,259.21 110.90,259.37 111.90,259.51 112.90,259.38 113.90,259.28 114.90,259.30 115.90,259.48 116.90,259.30 117.90,259.27 118.90,259.38 119.90,259.16 120.90,259.10 121.90,259.35 122.90,259.43 123.90,259.35 124.90,259.12 125.90,259.32 126.90,259.36 127.90,259.44 128.90,259.56 129.90,259.58 130.90,259.40 131.90,259.17 132.90,259.09 133.90,259.14 134.90,259.16 135.90,259.04 136.90,258.97 137.90,259.12 138.90,259.20 139.90,259.13 140.90,259.38 141.90,259.37 142.90,259.10 143.90,259.10 144.90,259.27 145.90,259.15 146.90,259.26 147.90,259.02 148.90,259.00 149.90,259.23 150.90,259.26 151.90,259.31 152.90,259.13 153.90,259.16 154.90,259.20 155.90,259.10 156.90,259.20 157.90,259.22 158.90,259.43 159.90,259.37 160.90,259.26 161.90,259.07 162.90,258.97 163.90,259.18 164.90,259.01 165.90,258.91 166.90,258.88 167.90,259.02 168.90,259.23 169.90,259.27 170.90,259.38 171.90,259.11 172.90,258.93 173.90,259.16 174.90,259.10 175.90,259.23 176.90,259.16 177.90,259.03 178.90,258.99 179.90,258.90 180.90,259.20 181.90,259.23 182.90,259.15 183.90,259.15 184.90,259.12 185.90,258.96 186.90,259.23 187.90,259.25 188.90,259.43 189.90,259.31 190.90,259.32 191.90,259.16 192.90,258.98 193.90,259.26 194.90,259.39 195.90,259.23 196.90,259.39 197.90,259.46 198.90,259.27 199.90,259.29 200.90,259.45 201.90,259.35 202.90,259.49 203.90,259.26 204.90,259.19 205.90,259.29 206.90,259.13" fill="none" stroke="#747474" stroke-width="0.5" stroke-linejoin="round" />
<polyline points="89.90,261.86 90.90,262.14 91.90,262.17 92.90,262.35 93.90,262.25 94.90,262.20 95.90,262.27 96.90,262.28 97.90,262.66 98.90,262.62 99.90,262.70 100.90,262.53 101.90,262.61 102.90,262.60 103.90,262.60 104.90,262.45 105.90,262.38 106.90,262.65 107.90,262.61 108.90,262.53 109.90,262.46 110.90,262.46 111.90,262.44 112.90,262.34 113.90,262.56 114.90,262.54 115.90,262.46 116.90,262.64 117.90,262.49 118.90,262.47 119.90,262.71 120.90,262.54 121.90,262.58 122.90,262.78 123.90,262.88 124.90,262.66 125.90,262.61 126.90,262.74 127.90,262.67 128.90,262.89 129.90,262.68 130.90,262.89 131.90,262.81 132.90,262.65 133.90,262.65 134.90,262.51 135.90,262.67 136.90,262.58 137.90,262.80 138.90,262.80 139.90,262.70 140.90,262.59 141.90,262.68 142.90,262.56 143.90,262.78 144.90,262.58 145.90,262.64 146.90,262.68 147.90,262.59 148.90,262.75 149.90,262.68 150.90,262.76 151.90,262.76 152.90,262.66 153.90,262.62 154.90,262.47 155.90,262.42 156.90,262.69 157.90,262.61 158.90,262.72 159.90,262.54 160.90,262.63 161.90,262.60 162.90,262.64 163.90,262.57 164.90,262.43 165.90,262.46 166.90,262.43 167.90,262.38 168.90,262.60 169.90,262.54 170.90,262.56 171.90,262.80 172.90,262.88 173.90,262.98 174.90,263.02 175.90,262.73 176.90,262.62 177.90,262.45 178.90,262.63 179.90,262.73 180.90,262.65 181.90,262.63 182.90,262.73 183.90,262.81 184.90,262.65 185.90,262.82 186.90,262.71 187.90,262.76 188.90,262.60 189.90,262.47 190.90,262.74 191.90,262.83 192.90,262.87 193.90,262.60 194.90,262.44 195.90,262.39 196.90,262.38 197.90,262.42 198.90,262.48 199.90,262.37 200.90,262.42 201.90,262.59 202.90,262.49 203.90,262.73 204.90,262.75 205.90,262.82 206.90,262.67" fill="none" stroke="#747474" stroke-width="0.5" stroke-linejoin="round" />
<polyline points="89.90,265.72 90.90,265.89 91.90,265.88 92.90,265.75 93.90,266.07 94.90,266.27 95.90,266.21 96.90,266.10 97.90,266.42 98.90,266.53 99.90,266.34 100.90,266.29 101.90,266.20 102.90,266.45 103.90,266.34 104.90,266.59 105.90,266.66 106.90,266.42 107.90,266.53 108.90,266.47 109.90,266.59 110.90,266.70 111.90,266.52 112.90,266.33 113.90,266.60 114.90,266.52 115.90,266.70 116.90,266.71 117.90,266.73 118.90,266.78 119.90,266.73 120.90,266.61 121.90,266.37 122.90,266.51 123.90,266.48 124.90,266.49 125.90,266.68 126.90,266.45 127.90,266.58 128.90,266.35 129.90,266.50 130.90,266.63 131.90,266.48 132.90,266.51 133.90,266.71 134.90,266.69 135.90,266.63 136.90,266.47 137.90,266.29 138.90,266.31 139.90,266.35 140.90,266.28 141.90,266.28 142.90,266.21 143.90,266.42 144.90,266.53 145.90,266.40 146.90,266.33 147.90,266.40 148.90,266.42 149.90,266.64 150.90,266.52 151.90,266.42 152.90,266.62 153.90,266.42 154.90,266.48 155.90,266.41 156.90,266.59 157.90,266.57 158.90,266.66 159.90,266.45 160.90,266.54 161.90,266.57 162.90,266.52 163.90,266.63 164.90,266.72 165.90,266.47 166.90,266.39 167.90,266.37 168.90,266.29 169.90,266.18 170.90,266.21 171.90,266.19 172.90,266.41 173.90,266.42 174.90,266.28 175.90,266.29 176.90,266.36 177.90,266.36 178.90,266.27 179.90,266.17 180.90,266.09 181.90,266.47 182.90,266.59 183.90,266.37 184.90,266.52 185.90,266.72 186.90,266.66 187.90,266.42 188.90,266.45 189.90,266.44 190.90,266.33 191.90,266.42 192.90,266.23 193.90,266.52 194.90,266.58 195.90,266.60 196.90,266.75 197.90,266.72 198.90,266.52 199.90,266.40 200.90,266.28 201.90,266.16 202.90,266.42 203.90,266.60 204.90,266.47 205.90,266.34 206.90,266.47" fill="none" stroke="#747474" stroke-width="0.5" stroke-linejoin="round" />
<polyline points="89.90,269.00 90.90,269.21 91.90,269.03 92.90,269.23 93.90,269.40 94.90,269.49 95.90,269.40 96.90,269.31 97.90,269.57 98.90,269.54 99.90,269.53 100.90,269.58 101.90,269.53 102.90,269.70 103.90,269.55 104.90,269.37 105.90,269.49 106.90,269.59 107.90,269.73 108.90,269.77 109.90,269.88 110.90,269.96 111.90,269.82 112.90,269.73 113.90,269.53 114.90,269.47 115.90,269.56 116.90,269.39 117.90,269.56 118.90,269.43 119.90,269.47 120.90,269.73 121.90,269.50 122.90,269.34 123.90,269.41 124.90,269.35 125.90,269.55 126.90,269.35 127.90,269.60 128.90,269.76 129.90,269.82 130.90,269.70 131.90,269.56 132.90,269.65 133.90,269.64 134.90,269.59 135.90,269.52 136.90,269.53 137.90,269.63 138.90,269.76 139.90,269.87 140.90,269.62 141.90,269.52 142.90,269.53 143.90,269.58 144.90,269.52 145.90,269.42 146.90,269.31 147.90,269.35 148.90,269.43 149.90,269.71 150.90,269.84 151.90,269.91 152.90,269.99 153.90,270.04 154.90,269.92 155.90,269.93 156.90,269.60 157.90,269.68 158.90,269.70 159.90,269.57 160.90,269.61 161.90,269.81 162.90,269.72 163.90,269.73 164.90,269.59 165.90,269.53 166.90,269.73 167.90,269.47 168.90,269.38 169.90,269.55 170.90,269.55 171.90,269.39 172.90,269.54 173.90,269.51 174.90,269.58 175.90,269.55 176.90,269.58 177.90,269.62 178.90,269.57 179.90,269.41 180.90,269.35 181.90,269.62 182.90,269.63 183.90,269.45 184.90,269.67 185.90,269.53 186.90,269.38 187.90,269.48 188.90,269.42 189.90,269.49 190.90,269.56 191.90,269.45 192.90,269.54 193.90,269.40 194.90,269.48 195.90,269.57 196.90,269.40 197.90,269.44 198.90,269.31 199.90,269.40 200.90,269.64 201.90,269.65 202.90,269.72 203.90,269.79 204.90,269.54 205.90,269.78 206.90,269.81" fill="none" stroke="#747474" stroke-width="0.5" stroke-linejoin="round" />
<polyline points="89.90,272.37 90.90,272.67 91.90,272.68 92.90,272.63 93.90,272.98 94.90,273.04 95.90,273.20 96.90,273.05 97.90,273.28 98.90,273.13 99.90,273.10 100.90,273.12 101.90,272.98 102.90,273.15 103.90,273.08 104.90,273.08 105.90,273.26 106.90,273.24 107.90,273.44 108.90,273.44 109.90,273.55 110.90,273.47 111.90,273.59 112.90,273.64 113.90,273.36 114.90,273.44 115.90,273.32 116.90,273.43 117.90,273.45 118.90,273.54 119.90,273.28 120.90,273.23 121.90,273.36 122.90,273.53 123.90,273.54 124.90,273.24 125.90,273.31 126.90,273.13 127.90,273.22 128.90,273.39 129.90,273.18 130.90,273.42 131.90,273.45 132.90,273.28 133.90,273.15 134.90,273.19 135.90,273.38 136.90,273.38 137.90,273.18 138.90,273.02 139.90,272.96 140.90,273.23 141.90,273.12 142.90,273.21 143.90,273.16 144.90,273.30 145.90,273.25 146.90,273.11 147.90,273.35 148.90,273.35 149.90,273.41 150.90,273.50 151.90,273.62 152.90,273.28 153.90,273.22 154.90,273.10 155.90,273.18 156.90,273.39 157.90,273.49 158.90,273.21 159.90,273.10 160.90,273.32 161.90,273.39 162.90,273.31 163.90,273.29 164.90,273.15 165.90,273.36 166.90,273.29 167.90,273.46 168.90,273.44 169.90,273.20 170.90,273.16 171.90,273.09 172.90,273.35 173.90,273.37 174.90,273.14 175.90,273.06 176.90,273.09 177.90,273.16 178.90,273.25 179.90,273.22 180.90,273.19 181.90,273.02 182.90,273.16 183.90,273.15 184.90,273.00 185.90,273.10 186.90,273.39 187.90,273.16 188.90,273.06 189.90,273.23 190.90,273.16 191.90,273.12 192.90,273.19 193.90,273.13 194.90,273.23 195.90,273.27 196.90,273.48 197.90,273.63 198.90,273.29 199.90,273.32 200.90,273.43 201.90,273.54 202.90,273.57 203.90,273.52 204.90,273.49 205.90,273.35 206.90,273.24" fill="none" stroke="#747474" stroke-width="0.5" stroke-linejoin="round" />
<line x1="89.30" y1="213.00" x2="89.30" y2="273.50" stroke="#888" stroke-width="0.6" />
<line x1="89.30" y1="239.50" x2="207.20" y2="239.50" stroke="#555" stroke-width="0.7" />
<line x1="75.80" y1="239.50" x2="89.30" y2="239.50" stroke="#333" stroke-width="0.9" />
<line x1="207.20" y1="239.60" x2="222.20" y2="239.60" stroke="#222" stroke-width="1.0" />
<polyline points="90.00,289.08 91.00,289.37 92.00,289.62 93.00,289.60 94.00,289.32 95.00,289.55 96.00,289.70 97.00,289.64 98.00,289.73 99.00,289.60 100.00,289.66 101.00,289.56 102.00,289.22 103.00,289.24 104.00,289.25 105.00,289.78 106.00,289.69 107.00,289.55 108.00,289.36 109.00,289.25 110.00,289.27 111.00,289.11 112.00,288.91 113.00,289.48 114.00,289.49 115.00,289.49 116.00,289.59 117.00,289.44 118.00,289.24 119.00,289.04 120.00,289.10 121.00,289.15 122.00,289.51 123.00,289.59 124.00,289.94 125.00,289.68 126.00,289.98 127.00,289.90 128.00,289.44 129.00,289.25 130.00,289.45 131.00,289.90 132.00,289.67 133.00,289.86 134.00,289.70 135.00,289.95 136.00,289.47 137.00,289.51 138.00,289.86 139.00,289.58 140.00,289.39 141.00,289.09 142.00,289.03 143.00,289.07 144.00,289.45 145.00,289.28 146.00,289.33 147.00,289.20 148.00,289.44 149.00,289.80 150.00,289.84 151.00,289.50 152.00,289.73 153.00,290.05 154.00,289.95 155.00,289.47 156.00,289.77 157.00,290.00 158.00,289.71 159.00,289.38 160.00,289.22 161.00,289.40 162.00,289.78 163.00,289.82 164.00,290.07 165.00,289.65 166.00,289.49 167.00,289.74 168.00,289.80 169.00,289.64 170.00,289.77 171.00,289.57 172.00,289.23 173.00,289.31 174.00,289.06 175.00,289.38 176.00,289.33 177.00,289.44 178.00,289.58 179.00,289.39 180.00,289.45 181.00,289.12 182.00,289.65 183.00,289.68 184.00,290.04 185.00,289.51 186.00,289.64 187.00,289.80 188.00,289.58 189.00,289.27 190.00,289.12 191.00,289.03 192.00,289.47 193.00,289.19 194.00,289.61 195.00,289.54 196.00,289.60 197.00,289.67 198.00,289.69 199.00,289.78 200.00,289.79 201.00,289.58 202.00,289.78 203.00,289.51 204.00,289.72 205.00,289.88 206.00,289.99" fill="none" stroke="#777" stroke-width="0.5" stroke-linejoin="round" />
<polyline points="90.00,289.60 91.00,289.95 92.00,290.37 93.00,290.23 94.00,290.03 95.00,290.15 96.00,290.58 97.00,290.22 98.00,289.95 99.00,290.18 100.00,290.45 101.00,290.69 102.00,290.50 103.00,290.89 104.00,290.52 105.00,290.72 106.00,290.30 107.00,290.00 108.00,289.91 109.00,289.79 110.00,290.08 111.00,290.29 112.00,290.12 113.00,290.62 114.00,290.47 115.00,290.20 116.00,290.06 117.00,290.43 118.00,290.79 119.00,290.41 120.00,290.07 121.00,290.46 122.00,290.27 123.00,290.75 124.00,290.65 125.00,290.70 126.00,290.49 127.00,290.74 128.00,290.61 129.00,290.43 130.00,290.78 131.00,290.35 132.00,290.60 133.00,290.21 134.00,290.44 135.00,290.39 136.00,290.72 137.00,290.28 138.00,290.42 139.00,290.38 140.00,290.76 141.00,291.01 142.00,290.91 143.00,290.53 144.00,290.32 145.00,290.20 146.00,290.27 147.00,290.15 148.00,290.05 149.00,290.44 150.00,290.58 151.00,290.38 152.00,290.83 153.00,290.47 154.00,290.54 155.00,290.25 156.00,290.64 157.00,290.88 158.00,290.54 159.00,290.73 160.00,290.89 161.00,290.56 162.00,290.40 163.00,290.43 164.00,290.77 165.00,290.39 166.00,290.58 167.00,290.63 168.00,290.54 169.00,290.59 170.00,290.86 171.00,290.48 172.00,290.80 173.00,290.57 174.00,290.76 175.00,290.95 176.00,290.52 177.00,290.80 178.00,291.08 179.00,290.68 180.00,290.23 181.00,290.03 182.00,290.60 183.00,290.16 184.00,290.63 185.00,290.30 186.00,290.57 187.00,290.22 188.00,290.07 189.00,290.39 190.00,290.10 191.00,290.13 192.00,290.62 193.00,290.74 194.00,290.95 195.00,291.15 196.00,290.52 197.00,290.30 198.00,290.61 199.00,290.72 200.00,290.26 201.00,290.36 202.00,290.20 203.00,290.27 204.00,290.04 205.00,289.84 206.00,290.50" fill="none" stroke="#777" stroke-width="0.5" stroke-linejoin="round" />
<polyline points="90.00,290.50 91.00,290.94 92.00,290.63 93.00,290.77 94.00,290.61 95.00,290.77 96.00,290.71 97.00,291.10 98.00,290.94 99.00,291.35 100.00,291.39 101.00,291.08 102.00,291.09 103.00,291.21 104.00,291.62 105.00,291.41 106.00,291.18 107.00,291.64 108.00,291.85 109.00,291.86 110.00,291.49 111.00,291.20 112.00,291.09 113.00,290.87 114.00,290.72 115.00,291.00 116.00,291.08 117.00,291.26 118.00,291.20 119.00,290.89 120.00,291.24 121.00,291.43 122.00,291.45 123.00,291.47 124.00,291.59 125.00,291.90 126.00,292.00 127.00,291.93 128.00,291.64 129.00,291.40 130.00,291.33 131.00,291.74 132.00,291.51 133.00,291.38 134.00,291.31 135.00,291.06 136.00,291.60 137.00,291.12 138.00,291.32 139.00,291.69 140.00,291.38 141.00,291.48 142.00,291.35 143.00,291.16 144.00,291.02 145.00,290.86 146.00,291.35 147.00,291.60 148.00,291.85 149.00,291.31 150.00,291.50 151.00,291.32 152.00,291.47 153.00,291.48 154.00,291.30 155.00,291.72 156.00,291.19 157.00,291.47 158.00,291.73 159.00,291.60 160.00,291.60 161.00,291.91 162.00,291.50 163.00,291.56 164.00,291.69 165.00,291.48 166.00,291.62 167.00,291.44 168.00,291.45 169.00,291.52 170.00,291.61 171.00,291.39 172.00,291.49 173.00,291.49 174.00,291.23 175.00,291.39 176.00,291.21 177.00,291.61 178.00,291.50 179.00,291.64 180.00,291.56 181.00,291.48 182.00,291.22 183.00,291.01 184.00,291.51 185.00,291.49 186.00,291.47 187.00,291.46 188.00,291.69 189.00,291.36 190.00,291.12 191.00,291.49 192.00,291.42 193.00,291.52 194.00,291.74 195.00,291.92 196.00,292.00 197.00,291.40 198.00,291.30 199.00,291.61 200.00,291.78 201.00,291.33 202.00,291.08 203.00,291.01 204.00,290.85 205.00,290.95 206.00,291.37" fill="none" stroke="#777" stroke-width="0.5" stroke-linejoin="round" />
<polyline points="90.00,291.57 91.00,291.60 92.00,291.36 93.00,291.50 94.00,292.09 95.00,292.24 96.00,292.16 97.00,292.17 98.00,292.46 99.00,292.64 100.00,292.24 101.00,292.41 102.00,292.26 103.00,292.29 104.00,292.09 105.00,292.07 106.00,292.03 107.00,292.04 108.00,291.76 109.00,291.74 110.00,292.02 111.00,291.78 112.00,291.73 113.00,292.13 114.00,292.02 115.00,291.99 116.00,291.91 117.00,292.33 118.00,291.99 119.00,292.22 120.00,292.54 121.00,292.21 122.00,292.18 123.00,292.46 124.00,292.49 125.00,292.31 126.00,291.94 127.00,292.04 128.00,292.04 129.00,292.31 130.00,292.14 131.00,292.13 132.00,292.32 133.00,292.56 134.00,292.34 135.00,292.23 136.00,292.32 137.00,292.65 138.00,292.26 139.00,292.66 140.00,292.68 141.00,292.43 142.00,292.51 143.00,292.29 144.00,291.95 145.00,292.29 146.00,292.20 147.00,292.26 148.00,292.27 149.00,292.61 150.00,292.69 151.00,292.15 152.00,292.29 153.00,292.26 154.00,292.25 155.00,292.54 156.00,292.38 157.00,292.32 158.00,292.63 159.00,292.45 160.00,292.38 161.00,292.36 162.00,292.59 163.00,292.61 164.00,292.68 165.00,292.45 166.00,292.02 167.00,292.28 168.00,292.33 169.00,292.53 170.00,292.66 171.00,292.21 172.00,292.02 173.00,291.79 174.00,292.25 175.00,291.95 176.00,291.76 177.00,292.18 178.00,292.28 179.00,291.93 180.00,292.22 181.00,292.42 182.00,292.36 183.00,291.98 184.00,292.26 185.00,292.21 186.00,292.31 187.00,292.71 188.00,292.80 189.00,292.90 190.00,292.37 191.00,292.21 192.00,292.26 193.00,291.88 194.00,292.44 195.00,292.20 196.00,292.05 197.00,292.00 198.00,291.93 199.00,292.36 200.00,292.38 201.00,292.36 202.00,292.27 203.00,291.92 204.00,291.92 205.00,292.36 206.00,292.58" fill="none" stroke="#777" stroke-width="0.5" stroke-linejoin="round" />
<polyline points="90.00,292.73 91.00,292.50 92.00,292.36 93.00,292.18 94.00,292.49 95.00,292.58 96.00,292.74 97.00,292.89 98.00,293.08 99.00,293.06 100.00,293.37 101.00,293.06 102.00,293.45 103.00,293.40 104.00,292.96 105.00,292.91 106.00,293.05 107.00,293.04 108.00,293.15 109.00,293.03 110.00,292.92 111.00,293.27 112.00,293.07 113.00,293.29 114.00,293.50 115.00,293.45 116.00,293.32 117.00,293.62 118.00,293.41 119.00,293.63 120.00,293.10 121.00,293.09 122.00,293.24 123.00,292.87 124.00,293.29 125.00,292.91 126.00,293.10 127.00,292.89 128.00,293.35 129.00,293.34 130.00,293.52 131.00,293.39 132.00,293.45 133.00,293.49 134.00,293.21 135.00,292.98 136.00,293.34 137.00,293.00 138.00,293.41 139.00,293.09 140.00,292.82 141.00,292.65 142.00,293.10 143.00,293.50 144.00,293.31 145.00,293.39 146.00,293.12 147.00,293.48 148.00,293.52 149.00,293.11 150.00,292.79 151.00,293.11 152.00,292.78 153.00,293.22 154.00,293.05 155.00,292.89 156.00,293.08 157.00,292.98 158.00,293.12 159.00,292.87 160.00,293.33 161.00,293.14 162.00,293.44 163.00,293.06 164.00,293.36 165.00,293.68 166.00,293.40 167.00,292.95 168.00,292.95 169.00,293.16 170.00,292.96 171.00,293.09 172.00,292.81 173.00,292.94 174.00,293.22 175.00,293.16 176.00,293.32 177.00,292.96 178.00,293.32 179.00,292.97 180.00,293.40 181.00,293.72 182.00,293.86 183.00,293.62 184.00,293.28 185.00,293.13 186.00,293.36 187.00,293.29 188.00,293.60 189.00,293.11 190.00,293.14 191.00,293.45 192.00,293.43 193.00,293.37 194.00,292.97 195.00,292.78 196.00,292.76 197.00,293.25 198.00,293.51 199.00,293.17 200.00,293.52 201.00,293.02 202.00,293.17 203.00,293.56 204.00,293.29 205.00,293.61 206.00,293.57" fill="none" stroke="#777" stroke-width="0.5" stroke-linejoin="round" />
<polyline points="90.00,292.99 91.00,293.08 92.00,293.26 93.00,293.24 94.00,293.65 95.00,293.48 96.00,293.90 97.00,293.79 98.00,293.57 99.00,293.87 100.00,293.66 101.00,293.87 102.00,294.19 103.00,294.23 104.00,294.15 105.00,293.76 106.00,293.90 107.00,293.66 108.00,293.95 109.00,293.72 110.00,293.93 111.00,293.88 112.00,293.87 113.00,294.09 114.00,293.83 115.00,293.67 116.00,294.20 117.00,294.02 118.00,294.33 119.00,294.54 120.00,294.35 121.00,293.97 122.00,293.70 123.00,294.16 124.00,293.83 125.00,293.93 126.00,294.03 127.00,293.75 128.00,293.87 129.00,293.69 130.00,293.88 131.00,293.98 132.00,293.92 133.00,293.75 134.00,293.81 135.00,293.69 136.00,293.56 137.00,293.57 138.00,294.08 139.00,294.09 140.00,294.40 141.00,293.90 142.00,294.33 143.00,294.23 144.00,294.41 145.00,294.34 146.00,294.40 147.00,294.06 148.00,294.28 149.00,293.93 150.00,293.81 151.00,293.55 152.00,293.68 153.00,293.87 154.00,293.79 155.00,294.23 156.00,293.84 157.00,294.01 158.00,293.83 159.00,294.02 160.00,294.28 161.00,294.37 162.00,293.91 163.00,293.79 164.00,293.99 165.00,294.42 166.00,293.93 167.00,294.09 168.00,294.25 169.00,294.44 170.00,294.18 171.00,294.40 172.00,294.25 173.00,294.52 174.00,293.96 175.00,294.37 176.00,294.19 177.00,294.08 178.00,293.76 179.00,293.69 180.00,294.04 181.00,294.21 182.00,293.89 183.00,293.85 184.00,293.66 185.00,293.59 186.00,293.57 187.00,293.65 188.00,294.21 189.00,294.56 190.00,294.61 191.00,294.39 192.00,294.27 193.00,294.43 194.00,294.62 195.00,294.61 196.00,294.52 197.00,294.11 198.00,294.21 199.00,294.44 200.00,294.53 201.00,294.03 202.00,294.23 203.00,294.06 204.00,293.81 205.00,294.30 206.00,294.36" fill="none" stroke="#777" stroke-width="0.5" stroke-linejoin="round" />
<polyline points="90.00,294.44 91.00,294.15 92.00,294.57 93.00,294.93 94.00,295.16 95.00,295.20 96.00,295.32 97.00,295.41 98.00,295.32 99.00,295.18 100.00,295.38 101.00,295.46 102.00,295.57 103.00,295.18 104.00,295.48 105.00,295.31 106.00,295.54 107.00,295.02 108.00,295.39 109.00,295.46 110.00,295.08 111.00,295.32 112.00,294.98 113.00,294.74 114.00,294.81 115.00,294.68 116.00,294.80 117.00,295.21 118.00,295.27 119.00,295.33 120.00,295.11 121.00,295.29 122.00,295.41 123.00,295.39 124.00,295.59 125.00,295.61 126.00,295.29 127.00,294.85 128.00,295.03 129.00,295.29 130.00,295.04 131.00,295.10 132.00,295.33 133.00,295.43 134.00,294.86 135.00,294.91 136.00,294.56 137.00,294.42 138.00,294.90 139.00,294.88 140.00,295.01 141.00,294.97 142.00,294.85 143.00,294.68 144.00,294.69 145.00,295.09 146.00,295.15 147.00,294.92 148.00,294.62 149.00,294.59 150.00,294.92 151.00,294.90 152.00,295.07 153.00,295.29 154.00,294.87 155.00,295.07 156.00,294.67 157.00,295.06 158.00,294.78 159.00,294.69 160.00,295.18 161.00,295.00 162.00,294.78 163.00,295.18 164.00,295.20 165.00,295.43 166.00,295.17 167.00,295.10 168.00,295.43 169.00,295.26 170.00,295.55 171.00,295.08 172.00,295.31 173.00,294.92 174.00,294.97 175.00,294.58 176.00,294.49 177.00,295.05 178.00,294.99 179.00,295.24 180.00,294.95 181.00,294.85 182.00,294.59 183.00,294.80 184.00,295.17 185.00,295.11 186.00,294.97 187.00,295.32 188.00,295.51 189.00,295.44 190.00,294.92 191.00,295.05 192.00,294.99 193.00,295.36 194.00,295.10 195.00,295.19 196.00,295.22 197.00,295.03 198.00,295.04 199.00,295.16 200.00,295.42 201.00,295.25 202.00,295.04 203.00,295.41 204.00,294.89 205.00,295.20 206.00,295.27" fill="none" stroke="#777" stroke-width="0.5" stroke-linejoin="round" />
<polyline points="90.00,295.19 91.00,295.21 92.00,295.50 93.00,295.82 94.00,295.91 95.00,296.01 96.00,295.53 97.00,295.51 98.00,295.38 99.00,295.99 100.00,296.28 101.00,295.85 102.00,295.94 103.00,295.98 104.00,295.59 105.00,295.63 106.00,295.93 107.00,296.03 108.00,295.80 109.00,296.05 110.00,295.82 111.00,295.89 112.00,295.83 113.00,296.24 114.00,296.22 115.00,296.34 116.00,296.30 117.00,296.05 118.00,296.36 119.00,296.34 120.00,296.32 121.00,295.97 122.00,295.67 123.00,295.82 124.00,296.12 125.00,296.26 126.00,296.00 127.00,295.67 128.00,295.77 129.00,296.13 130.00,295.77 131.00,296.01 132.00,295.70 133.00,295.63 134.00,295.38 135.00,295.43 136.00,295.52 137.00,296.05 138.00,296.36 139.00,295.92 140.00,295.76 141.00,296.17 142.00,295.82 143.00,295.71 144.00,295.74 145.00,295.49 146.00,295.46 147.00,295.55 148.00,295.60 149.00,296.09 150.00,295.83 151.00,295.62 152.00,296.06 153.00,295.96 154.00,296.20 155.00,296.19 156.00,296.30 157.00,295.99 158.00,295.68 159.00,295.97 160.00,295.92 161.00,295.96 162.00,296.07 163.00,296.21 164.00,295.90 165.00,295.79 166.00,296.17 167.00,296.09 168.00,295.84 169.00,295.97 170.00,295.75 171.00,296.03 172.00,295.61 173.00,295.99 174.00,296.01 175.00,295.85 176.00,296.22 177.00,295.90 178.00,295.70 179.00,295.43 180.00,295.66 181.00,295.96 182.00,296.08 183.00,295.94 184.00,296.17 185.00,295.75 186.00,295.66 187.00,295.87 188.00,296.26 189.00,296.22 190.00,296.25 191.00,296.33 192.00,296.07 193.00,296.36 194.00,296.37 195.00,296.05 196.00,295.91 197.00,296.15 198.00,295.93 199.00,295.67 200.00,296.06 201.00,296.02 202.00,295.99 203.00,296.09 204.00,296.33 205.00,295.87 206.00,295.75" fill="none" stroke="#777" stroke-width="0.5" stroke-linejoin="round" />
<polyline points="90.00,295.70 91.00,295.85 92.00,296.04 93.00,296.47 94.00,296.61 95.00,296.66 96.00,296.58 97.00,296.70 98.00,296.56 99.00,296.97 100.00,297.15 101.00,297.28 102.00,296.81 103.00,296.94 104.00,297.09 105.00,296.97 106.00,297.22 107.00,297.37 108.00,297.34 109.00,297.38 110.00,297.27 111.00,297.38 112.00,296.85 113.00,297.00 114.00,297.08 115.00,297.06 116.00,296.78 117.00,296.44 118.00,296.67 119.00,296.98 120.00,296.73 121.00,296.53 122.00,296.41 123.00,296.24 124.00,296.61 125.00,297.06 126.00,297.20 127.00,296.93 128.00,297.04 129.00,296.60 130.00,296.95 131.00,296.75 132.00,296.37 133.00,296.65 134.00,296.42 135.00,296.39 136.00,296.20 137.00,296.40 138.00,296.60 139.00,296.93 140.00,296.51 141.00,296.89 142.00,296.54 143.00,296.42 144.00,296.68 145.00,296.60 146.00,296.54 147.00,296.70 148.00,296.52 149.00,296.86 150.00,296.61 151.00,296.95 152.00,297.14 153.00,297.03 154.00,296.56 155.00,296.88 156.00,296.47 157.00,296.61 158.00,296.62 159.00,296.34 160.00,296.63 161.00,296.88 162.00,296.91 163.00,296.79 164.00,296.80 165.00,296.87 166.00,296.62 167.00,296.99 168.00,297.31 169.00,297.35 170.00,297.50 171.00,297.08 172.00,297.36 173.00,296.79 174.00,296.78 175.00,296.49 176.00,296.58 177.00,296.81 178.00,296.97 179.00,296.87 180.00,296.71 181.00,296.50 182.00,296.54 183.00,296.47 184.00,296.36 185.00,296.72 186.00,296.77 187.00,296.73 188.00,296.52 189.00,296.79 190.00,296.55 191.00,296.46 192.00,296.65 193.00,296.87 194.00,297.22 195.00,297.25 196.00,297.43 197.00,297.51 198.00,297.41 199.00,297.34 200.00,296.77 201.00,296.55 202.00,296.26 203.00,296.77 204.00,296.96 205.00,297.00 206.00,296.73" fill="none" stroke="#777" stroke-width="0.5" stroke-linejoin="round" />
<polyline points="90.00,296.73 91.00,296.59 92.00,296.91 93.00,297.42 94.00,297.21 95.00,296.91 96.00,296.87 97.00,297.01 98.00,297.57 99.00,297.86 100.00,297.74 101.00,297.37 102.00,297.14 103.00,297.05 104.00,297.49 105.00,297.51 106.00,297.94 107.00,298.13 108.00,298.16 109.00,297.91 110.00,298.05 111.00,297.57 112.00,297.27 113.00,297.45 114.00,297.52 115.00,297.32 116.00,297.23 117.00,297.00 118.00,297.56 119.00,297.75 120.00,298.04 121.00,298.25 122.00,297.94 123.00,297.99 124.00,297.74 125.00,297.93 126.00,298.07 127.00,297.59 128.00,297.21 129.00,297.13 130.00,297.39 131.00,297.38 132.00,297.07 133.00,297.55 134.00,297.80 135.00,297.69 136.00,297.29 137.00,297.72 138.00,297.70 139.00,297.32 140.00,297.29 141.00,297.51 142.00,297.86 143.00,297.74 144.00,297.80 145.00,297.48 146.00,297.32 147.00,297.76 148.00,297.60 149.00,297.28 150.00,297.48 151.00,297.23 152.00,297.14 153.00,297.29 154.00,297.48 155.00,297.64 156.00,297.79 157.00,297.66 158.00,297.29 159.00,297.60 160.00,297.24 161.00,297.36 162.00,297.38 163.00,297.60 164.00,297.77 165.00,297.50 166.00,297.66 167.00,297.79 168.00,297.69 169.00,297.37 170.00,297.79 171.00,297.79 172.00,297.37 173.00,297.25 174.00,297.78 175.00,297.49 176.00,297.45 177.00,297.74 178.00,297.94 179.00,297.91 180.00,297.98 181.00,297.46 182.00,297.19 183.00,297.74 184.00,297.92 185.00,297.42 186.00,297.13 187.00,297.11 188.00,297.65 189.00,297.41 190.00,297.62 191.00,297.96 192.00,297.93 193.00,298.13 194.00,297.73 195.00,297.40 196.00,297.09 197.00,297.50 198.00,297.22 199.00,297.75 200.00,297.86 201.00,297.51 202.00,297.79 203.00,297.44 204.00,297.52 205.00,297.23 206.00,297.61" fill="none" stroke="#777" stroke-width="0.5" stroke-linejoin="round" />
<polyline points="90.00,300.45 91.00,300.64 92.00,300.21 93.00,300.48 94.00,300.47 95.00,300.64 96.00,300.56 97.00,300.60 98.00,300.62 99.00,300.76 100.00,300.41 101.00,300.18 102.00,300.34 103.00,300.28 104.00,300.30 105.00,300.09 106.00,300.40 107.00,300.15 108.00,300.49 109.00,300.68 110.00,300.58 111.00,300.32 112.00,300.48 113.00,300.31 114.00,300.35 115.00,300.17 116.00,300.59 117.00,300.58 118.00,300.46 119.00,300.23 120.00,300.48 121.00,300.70 122.00,300.83 123.00,300.46 124.00,300.39 125.00,300.32 126.00,300.55 127.00,300.32 128.00,300.45 129.00,300.76 130.00,300.82 131.00,300.39 132.00,300.18 133.00,300.08 134.00,300.36 135.00,300.48 136.00,300.50 137.00,300.47 138.00,300.43 139.00,300.52 140.00,300.60 141.00,300.81 142.00,300.83 143.00,300.87 144.00,300.97 145.00,300.99 146.00,300.92 147.00,300.47 148.00,300.59 149.00,300.76 150.00,300.62 151.00,300.80 152.00,300.49 153.00,300.76 154.00,300.62 155.00,300.70 156.00,300.47 157.00,300.36 158.00,300.33 159.00,300.29 160.00,300.13 161.00,300.24 162.00,300.64 163.00,300.67 164.00,300.86 165.00,300.88 166.00,300.93 167.00,301.05 168.00,300.98 169.00,300.65 170.00,300.44 171.00,300.41 172.00,300.16 173.00,300.13 174.00,300.51 175.00,300.76 176.00,300.55 177.00,300.69 178.00,300.78 179.00,300.90 180.00,300.92 181.00,300.77 182.00,300.43 183.00,300.65 184.00,300.48 185.00,300.56 186.00,300.46 187.00,300.50 188.00,300.78 189.00,300.46 190.00,300.50 191.00,300.59 192.00,300.58 193.00,300.81 194.00,300.63 195.00,300.83 196.00,300.81 197.00,300.97 198.00,300.53 199.00,300.35 200.00,300.28 201.00,300.61 202.00,300.28 203.00,300.22 204.00,300.46 205.00,300.77 206.00,300.47" fill="none" stroke="#7a7a7a" stroke-width="0.5" stroke-linejoin="round" />
<polyline points="90.00,302.48 91.00,302.64 92.00,302.75 93.00,302.86 94.00,302.94 95.00,302.70 96.00,302.57 97.00,302.37 98.00,302.66 99.00,302.55 100.00,302.51 101.00,302.91 102.00,302.95 103.00,302.94 104.00,302.98 105.00,302.97 106.00,303.02 107.00,302.81 108.00,302.55 109.00,302.39 110.00,302.26 111.00,302.39 112.00,302.34 113.00,302.29 114.00,302.49 115.00,302.90 116.00,302.97 117.00,302.77 118.00,302.94 119.00,302.69 120.00,302.50 121.00,302.50 122.00,302.56 123.00,302.77 124.00,302.75 125.00,302.91 126.00,302.62 127.00,302.95 128.00,302.80 129.00,303.00 130.00,302.64 131.00,302.90 132.00,302.70 133.00,302.95 134.00,303.07 135.00,303.07 136.00,302.83 137.00,302.52 138.00,302.45 139.00,302.83 140.00,302.61 141.00,302.78 142.00,302.84 143.00,302.92 144.00,302.68 145.00,302.52 146.00,302.39 147.00,302.84 148.00,302.76 149.00,302.86 150.00,302.88 151.00,302.68 152.00,302.47 153.00,302.31 154.00,302.72 155.00,302.53 156.00,302.91 157.00,302.79 158.00,302.93 159.00,302.66 160.00,302.89 161.00,302.70 162.00,302.66 163.00,302.73 164.00,302.53 165.00,302.48 166.00,302.79 167.00,302.66 168.00,302.65 169.00,302.87 170.00,302.67 171.00,302.54 172.00,302.48 173.00,302.54 174.00,302.56 175.00,302.74 176.00,302.75 177.00,302.99 178.00,302.64 179.00,302.80 180.00,303.00 181.00,302.76 182.00,302.50 183.00,302.58 184.00,302.44 185.00,302.56 186.00,302.78 187.00,302.55 188.00,302.42 189.00,302.56 190.00,302.46 191.00,302.43 192.00,302.54 193.00,302.42 194.00,302.31 195.00,302.42 196.00,302.56 197.00,302.92 198.00,302.90 199.00,302.60 200.00,302.52 201.00,302.78 202.00,302.82 203.00,303.04 204.00,303.22 205.00,303.27 206.00,302.85" fill="none" stroke="#7a7a7a" stroke-width="0.5" stroke-linejoin="round" />
<polyline points="90.00,304.78 91.00,304.72 92.00,304.53 93.00,304.38 94.00,304.72 95.00,304.54 96.00,304.37 97.00,304.39 98.00,304.81 99.00,304.80 100.00,304.94 101.00,304.63 102.00,304.67 103.00,304.61 104.00,304.51 105.00,304.72 106.00,304.67 107.00,304.49 108.00,304.91 109.00,304.85 110.00,304.64 111.00,304.41 112.00,304.66 113.00,304.72 114.00,304.47 115.00,304.58 116.00,304.81 117.00,304.83 118.00,304.66 119.00,304.71 120.00,304.81 121.00,304.90 122.00,304.65 123.00,304.89 124.00,305.12 125.00,305.14 126.00,305.22 127.00,304.97 128.00,305.14 129.00,304.82 130.00,304.65 131.00,304.77 132.00,305.02 133.00,304.68 134.00,304.56 135.00,304.38 136.00,304.51 137.00,304.41 138.00,304.38 139.00,304.70 140.00,304.79 141.00,305.06 142.00,304.90 143.00,304.96 144.00,304.61 145.00,304.95 146.00,304.73 147.00,304.75 148.00,304.77 149.00,305.05 150.00,304.95 151.00,305.18 152.00,305.10 153.00,304.81 154.00,305.01 155.00,304.75 156.00,305.07 157.00,304.93 158.00,304.72 159.00,305.03 160.00,304.83 161.00,304.76 162.00,304.68 163.00,304.83 164.00,304.53 165.00,304.56 166.00,304.46 167.00,304.79 168.00,304.49 169.00,304.68 170.00,304.58 171.00,304.64 172.00,304.74 173.00,304.89 174.00,304.64 175.00,304.55 176.00,304.42 177.00,304.85 178.00,304.62 179.00,304.47 180.00,304.62 181.00,304.74 182.00,305.00 183.00,304.65 184.00,304.55 185.00,304.45 186.00,304.64 187.00,304.68 188.00,304.67 189.00,304.96 190.00,304.99 191.00,305.13 192.00,305.27 193.00,304.94 194.00,305.15 195.00,304.96 196.00,304.62 197.00,304.94 198.00,304.65 199.00,304.42 200.00,304.45 201.00,304.46 202.00,304.88 203.00,305.07 204.00,304.91 205.00,304.89 206.00,305.06" fill="none" stroke="#7a7a7a" stroke-width="0.5" stroke-linejoin="round" />
<polyline points="90.00,306.40 91.00,306.45 92.00,306.41 93.00,306.16 94.00,306.09 95.00,306.32 96.00,306.42 97.00,306.62 98.00,306.81 99.00,306.98 100.00,306.61 101.00,306.31 102.00,306.63 103.00,306.62 104.00,306.38 105.00,306.54 106.00,306.38 107.00,306.27 108.00,306.28 109.00,306.38 110.00,306.54 111.00,306.27 112.00,306.50 113.00,306.58 114.00,306.53 115.00,306.62 116.00,306.75 117.00,306.36 118.00,306.40 119.00,306.55 120.00,306.65 121.00,306.68 122.00,306.42 123.00,306.72 124.00,306.81 125.00,306.52 126.00,306.47 127.00,306.76 128.00,306.48 129.00,306.43 130.00,306.74 131.00,306.88 132.00,306.57 133.00,306.68 134.00,306.53 135.00,306.61 136.00,306.73 137.00,306.41 138.00,306.28 139.00,306.20 140.00,306.18 141.00,306.03 142.00,306.00 143.00,306.14 144.00,306.24 145.00,306.09 146.00,306.30 147.00,306.65 148.00,306.63 149.00,306.49 150.00,306.62 151.00,306.53 152.00,306.33 153.00,306.38 154.00,306.14 155.00,306.39 156.00,306.23 157.00,306.26 158.00,306.63 159.00,306.74 160.00,306.85 161.00,306.79 162.00,306.76 163.00,306.78 164.00,306.95 165.00,306.59 166.00,306.71 167.00,306.51 168.00,306.36 169.00,306.61 170.00,306.63 171.00,306.78 172.00,306.90 173.00,306.79 174.00,306.49 175.00,306.21 176.00,306.34 177.00,306.54 178.00,306.39 179.00,306.18 180.00,306.01 181.00,306.01 182.00,306.32 183.00,306.10 184.00,306.10 185.00,306.12 186.00,306.40 187.00,306.73 188.00,306.35 189.00,306.18 190.00,306.57 191.00,306.82 192.00,306.48 193.00,306.39 194.00,306.45 195.00,306.36 196.00,306.37 197.00,306.41 198.00,306.30 199.00,306.11 200.00,306.02 201.00,306.01 202.00,305.96 203.00,306.25 204.00,306.47 205.00,306.34 206.00,306.58" fill="none" stroke="#7a7a7a" stroke-width="0.5" stroke-linejoin="round" />
<polyline points="90.00,308.46 91.00,308.34 92.00,308.37 93.00,308.21 94.00,308.58 95.00,308.59 96.00,308.30 97.00,308.20 98.00,308.48 99.00,308.47 100.00,308.66 101.00,308.47 102.00,308.70 103.00,308.84 104.00,308.50 105.00,308.59 106.00,308.41 107.00,308.61 108.00,308.79 109.00,308.89 110.00,308.61 111.00,308.36 112.00,308.56 113.00,308.61 114.00,308.39 115.00,308.29 116.00,308.46 117.00,308.28 118.00,308.49 119.00,308.38 120.00,308.32 121.00,308.39 122.00,308.49 123.00,308.67 124.00,308.36 125.00,308.59 126.00,308.43 127.00,308.37 128.00,308.55 129.00,308.68 130.00,308.72 131.00,308.91 132.00,308.61 133.00,308.49 134.00,308.63 135.00,308.48 136.00,308.32 137.00,308.27 138.00,308.56 139.00,308.77 140.00,308.83 141.00,309.02 142.00,309.03 143.00,308.74 144.00,308.57 145.00,308.72 146.00,308.40 147.00,308.55 148.00,308.32 149.00,308.16 150.00,308.35 151.00,308.24 152.00,308.64 153.00,308.85 154.00,308.73 155.00,308.50 156.00,308.31 157.00,308.43 158.00,308.51 159.00,308.46 160.00,308.65 161.00,308.65 162.00,308.79 163.00,308.48 164.00,308.27 165.00,308.33 166.00,308.43 167.00,308.35 168.00,308.55 169.00,308.40 170.00,308.37 171.00,308.45 172.00,308.64 173.00,308.78 174.00,308.63 175.00,308.59 176.00,308.85 177.00,309.01 178.00,308.92 179.00,308.55 180.00,308.55 181.00,308.65 182.00,308.50 183.00,308.26 184.00,308.68 185.00,308.90 186.00,308.56 187.00,308.55 188.00,308.64 189.00,308.51 190.00,308.28 191.00,308.56 192.00,308.74 193.00,308.65 194.00,308.38 195.00,308.40 196.00,308.24 197.00,308.66 198.00,308.37 199.00,308.33 200.00,308.60 201.00,308.38 202.00,308.23 203.00,308.12 204.00,308.11 205.00,308.33 206.00,308.64" fill="none" stroke="#7a7a7a" stroke-width="0.5" stroke-linejoin="round" />
<polyline points="90.00,310.02 91.00,309.93 92.00,310.25 93.00,310.25 94.00,310.20 95.00,310.06 96.00,310.06 97.00,310.51 98.00,310.28 99.00,310.23 100.00,310.49 101.00,310.73 102.00,310.88 103.00,310.71 104.00,310.90 105.00,310.80 106.00,310.56 107.00,310.51 108.00,310.64 109.00,310.72 110.00,310.41 111.00,310.26 112.00,310.63 113.00,310.34 114.00,310.59 115.00,310.46 116.00,310.32 117.00,310.25 118.00,310.33 119.00,310.69 120.00,310.40 121.00,310.66 122.00,310.49 123.00,310.30 124.00,310.52 125.00,310.42 126.00,310.26 127.00,310.31 128.00,310.58 129.00,310.77 130.00,310.70 131.00,310.33 132.00,310.56 133.00,310.60 134.00,310.80 135.00,310.95 136.00,310.67 137.00,310.81 138.00,310.88 139.00,310.59 140.00,310.47 141.00,310.41 142.00,310.36 143.00,310.34 144.00,310.17 145.00,310.14 146.00,310.53 147.00,310.46 148.00,310.56 149.00,310.77 150.00,310.81 151.00,310.54 152.00,310.77 153.00,310.85 154.00,311.00 155.00,310.94 156.00,310.92 157.00,310.94 158.00,310.61 159.00,310.66 160.00,310.53 161.00,310.72 162.00,310.41 163.00,310.47 164.00,310.38 165.00,310.62 166.00,310.48 167.00,310.69 168.00,310.83 169.00,310.92 170.00,310.54 171.00,310.79 172.00,310.82 173.00,310.80 174.00,310.77 175.00,310.39 176.00,310.66 177.00,310.62 178.00,310.55 179.00,310.43 180.00,310.63 181.00,310.75 182.00,310.87 183.00,310.55 184.00,310.43 185.00,310.31 186.00,310.15 187.00,310.18 188.00,310.03 189.00,310.39 190.00,310.27 191.00,310.11 192.00,310.00 193.00,310.35 194.00,310.23 195.00,310.31 196.00,310.33 197.00,310.58 198.00,310.82 199.00,310.58 200.00,310.63 201.00,310.81 202.00,310.67 203.00,310.84 204.00,310.85 205.00,310.59 206.00,310.78" fill="none" stroke="#7a7a7a" stroke-width="0.5" stroke-linejoin="round" />
<polyline points="90.00,312.26 91.00,312.04 92.00,312.20 93.00,312.46 94.00,312.44 95.00,312.42 96.00,312.38 97.00,312.65 98.00,312.69 99.00,312.45 100.00,312.39 101.00,312.35 102.00,312.69 103.00,312.73 104.00,312.41 105.00,312.70 106.00,312.34 107.00,312.46 108.00,312.43 109.00,312.59 110.00,312.51 111.00,312.26 112.00,312.37 113.00,312.62 114.00,312.74 115.00,312.56 116.00,312.37 117.00,312.57 118.00,312.72 119.00,312.46 120.00,312.71 121.00,312.92 122.00,312.71 123.00,312.56 124.00,312.66 125.00,312.85 126.00,312.53 127.00,312.40 128.00,312.34 129.00,312.54 130.00,312.34 131.00,312.43 132.00,312.46 133.00,312.58 134.00,312.33 135.00,312.67 136.00,312.90 137.00,312.78 138.00,312.84 139.00,312.52 140.00,312.76 141.00,312.68 142.00,312.77 143.00,312.88 144.00,312.65 145.00,312.84 146.00,312.53 147.00,312.23 148.00,312.34 149.00,312.64 150.00,312.83 151.00,312.97 152.00,312.79 153.00,312.93 154.00,312.80 155.00,312.46 156.00,312.56 157.00,312.72 158.00,312.58 159.00,312.61 160.00,312.42 161.00,312.32 162.00,312.34 163.00,312.41 164.00,312.43 165.00,312.21 166.00,312.03 167.00,312.12 168.00,312.40 169.00,312.59 170.00,312.40 171.00,312.29 172.00,312.38 173.00,312.24 174.00,312.40 175.00,312.68 176.00,312.43 177.00,312.51 178.00,312.64 179.00,312.73 180.00,312.77 181.00,312.79 182.00,312.54 183.00,312.72 184.00,312.89 185.00,312.47 186.00,312.75 187.00,312.61 188.00,312.32 189.00,312.13 190.00,312.46 191.00,312.58 192.00,312.33 193.00,312.38 194.00,312.51 195.00,312.80 196.00,312.58 197.00,312.71 198.00,312.47 199.00,312.30 200.00,312.18 201.00,312.25 202.00,312.42 203.00,312.34 204.00,312.20 205.00,312.15 206.00,312.04" fill="none" stroke="#7a7a7a" stroke-width="0.5" stroke-linejoin="round" />
<polyline points="90.00,314.33 91.00,314.33 92.00,314.45 93.00,314.34 94.00,314.47 95.00,314.53 96.00,314.90 97.00,314.84 98.00,315.09 99.00,314.97 100.00,314.73 101.00,314.81 102.00,314.59 103.00,314.48 104.00,314.35 105.00,314.65 106.00,314.99 107.00,314.86 108.00,314.75 109.00,314.72 110.00,314.66 111.00,314.83 112.00,314.76 113.00,314.56 114.00,314.88 115.00,314.89 116.00,314.56 117.00,314.86 118.00,314.98 119.00,314.82 120.00,314.89 121.00,315.11 122.00,314.92 123.00,314.83 124.00,314.70 125.00,314.77 126.00,314.88 127.00,314.99 128.00,315.18 129.00,314.82 130.00,314.73 131.00,314.97 132.00,315.08 133.00,315.02 134.00,315.04 135.00,314.85 136.00,315.10 137.00,315.01 138.00,314.87 139.00,314.65 140.00,314.48 141.00,314.85 142.00,315.01 143.00,314.64 144.00,314.60 145.00,314.67 146.00,314.72 147.00,314.67 148.00,314.96 149.00,314.80 150.00,314.82 151.00,315.07 152.00,315.05 153.00,314.93 154.00,314.78 155.00,314.72 156.00,314.82 157.00,314.98 158.00,314.77 159.00,314.70 160.00,314.67 161.00,314.64 162.00,314.95 163.00,314.92 164.00,314.73 165.00,314.66 166.00,314.91 167.00,314.66 168.00,314.83 169.00,314.53 170.00,314.45 171.00,314.33 172.00,314.70 173.00,314.53 174.00,314.47 175.00,314.34 176.00,314.38 177.00,314.69 178.00,314.87 179.00,315.09 180.00,315.24 181.00,315.09 182.00,315.23 183.00,314.81 184.00,315.06 185.00,314.92 186.00,314.69 187.00,314.88 188.00,315.06 189.00,314.89 190.00,314.61 191.00,314.91 192.00,315.02 193.00,314.99 194.00,315.20 195.00,314.76 196.00,314.51 197.00,314.40 198.00,314.27 199.00,314.61 200.00,314.76 201.00,314.55 202.00,314.44 203.00,314.40 204.00,314.62 205.00,314.80 206.00,315.08" fill="none" stroke="#7a7a7a" stroke-width="0.5" stroke-linejoin="round" />
<polyline points="90.00,316.25 91.00,316.92 92.00,316.68 93.00,316.50 94.00,316.24 95.00,316.07 96.00,316.87 97.00,317.38 98.00,317.36 99.00,316.72 100.00,316.33 101.00,316.06 102.00,316.14 103.00,316.65 104.00,316.14 105.00,316.40 106.00,316.74 107.00,316.16 108.00,316.30 109.00,316.81 110.00,316.86 111.00,316.74 112.00,317.18 113.00,317.11 114.00,316.75 115.00,316.60 116.00,317.18 117.00,317.42 118.00,317.63 119.00,317.33 120.00,316.65 121.00,316.28 122.00,316.31 123.00,316.69 124.00,316.10 125.00,316.70 126.00,317.05 127.00,316.92 128.00,316.24 129.00,316.78 130.00,316.65 131.00,316.87 132.00,316.89 133.00,317.09 134.00,316.82 135.00,317.33 136.00,317.62 137.00,317.77 138.00,317.48 139.00,316.95 140.00,316.70 141.00,316.42 142.00,317.02 143.00,317.24 144.00,317.37 145.00,317.49 146.00,317.76 147.00,317.56 148.00,317.00 149.00,317.19 150.00,316.71 151.00,316.84 152.00,316.37 153.00,316.93 154.00,316.83 155.00,316.51 156.00,317.09 157.00,316.43 158.00,317.06 159.00,317.22 160.00,316.59 161.00,316.95 162.00,316.94 163.00,317.33 164.00,317.18 165.00,316.90 166.00,317.34 167.00,316.59 168.00,316.97 169.00,316.38 170.00,316.24 171.00,315.96 172.00,316.70 173.00,316.63 174.00,316.93 175.00,316.55 176.00,316.88 177.00,316.99 178.00,316.39 179.00,316.51 180.00,316.85 181.00,316.45 182.00,316.73 183.00,316.45 184.00,316.40 185.00,317.02 186.00,317.42 187.00,317.73 188.00,317.23 189.00,317.11 190.00,317.31 191.00,317.38 192.00,317.05 193.00,317.35 194.00,316.97 195.00,317.40 196.00,317.09 197.00,316.48 198.00,316.86 199.00,316.37 200.00,316.72 201.00,316.18 202.00,316.97 203.00,316.91 204.00,317.12 205.00,316.51 206.00,316.75" fill="none" stroke="#7a7a7a" stroke-width="0.5" stroke-linejoin="round" />
<polyline points="90.00,318.57 91.00,318.36 92.00,318.92 93.00,318.33 94.00,318.53 95.00,318.19 96.00,318.91 97.00,319.41 98.00,318.69 99.00,318.78 100.00,318.84 101.00,319.17 102.00,319.37 103.00,319.04 104.00,319.54 105.00,318.95 106.00,318.53 107.00,319.10 108.00,318.60 109.00,318.38 110.00,318.63 111.00,318.58 112.00,318.35 113.00,319.12 114.00,319.04 115.00,319.37 116.00,318.92 117.00,319.45 118.00,318.93 119.00,319.45 120.00,319.40 121.00,319.81 122.00,319.81 123.00,319.64 124.00,319.43 125.00,319.68 126.00,319.34 127.00,318.72 128.00,319.33 129.00,319.56 130.00,319.56 131.00,319.63 132.00,319.06 133.00,318.99 134.00,319.38 135.00,319.78 136.00,319.98 137.00,319.18 138.00,319.33 139.00,319.26 140.00,319.04 141.00,318.63 142.00,318.34 143.00,318.57 144.00,318.73 145.00,318.56 146.00,318.58 147.00,318.81 148.00,319.20 149.00,319.23 150.00,318.73 151.00,319.30 152.00,319.02 153.00,319.57 154.00,319.92 155.00,319.12 156.00,319.17 157.00,319.66 158.00,319.26 159.00,319.21 160.00,318.90 161.00,318.38 162.00,318.27 163.00,318.11 164.00,318.21 165.00,318.68 166.00,318.88 167.00,319.47 168.00,319.50 169.00,319.14 170.00,319.62 171.00,319.53 172.00,319.37 173.00,319.66 174.00,319.60 175.00,319.19 176.00,319.24 177.00,318.90 178.00,319.51 179.00,319.00 180.00,319.57 181.00,318.82 182.00,318.30 183.00,318.64 184.00,318.43 185.00,318.67 186.00,318.34 187.00,319.01 188.00,319.21 189.00,319.35 190.00,319.72 191.00,320.02 192.00,319.83 193.00,319.75 194.00,318.85 195.00,318.37 196.00,318.53 197.00,319.28 198.00,318.95 199.00,319.05 200.00,318.44 201.00,318.56 202.00,319.22 203.00,319.24 204.00,319.53 205.00,318.74 206.00,318.48" fill="none" stroke="#7a7a7a" stroke-width="0.5" stroke-linejoin="round" />
<polyline points="90.00,320.13 91.00,320.72 92.00,320.20 93.00,320.90 94.00,320.53 95.00,321.06 96.00,320.95 97.00,320.67 98.00,321.28 99.00,320.99 100.00,321.16 101.00,320.50 102.00,321.01 103.00,321.51 104.00,320.76 105.00,321.07 106.00,320.69 107.00,320.31 108.00,320.34 109.00,320.72 110.00,321.30 111.00,321.69 112.00,321.93 113.00,321.62 114.00,321.48 115.00,320.80 116.00,321.07 117.00,321.02 118.00,320.77 119.00,321.26 120.00,320.78 121.00,320.36 122.00,320.13 123.00,319.97 124.00,320.41 125.00,320.93 126.00,320.47 127.00,320.60 128.00,320.77 129.00,320.86 130.00,320.73 131.00,320.81 132.00,320.22 133.00,319.92 134.00,320.18 135.00,320.11 136.00,320.70 137.00,320.43 138.00,320.97 139.00,320.59 140.00,320.18 141.00,320.40 142.00,320.43 143.00,320.38 144.00,320.87 145.00,320.51 146.00,320.83 147.00,321.22 148.00,320.99 149.00,320.92 150.00,321.38 151.00,321.27 152.00,320.70 153.00,320.22 154.00,319.95 155.00,320.09 156.00,319.88 157.00,320.43 158.00,320.48 159.00,320.38 160.00,320.56 161.00,321.18 162.00,320.72 163.00,320.34 164.00,320.29 165.00,320.28 166.00,320.98 167.00,321.16 168.00,320.93 169.00,320.48 170.00,320.06 171.00,319.90 172.00,320.68 173.00,320.90 174.00,320.45 175.00,320.74 176.00,320.23 177.00,320.47 178.00,320.40 179.00,320.09 180.00,320.66 181.00,320.98 182.00,320.92 183.00,320.47 184.00,320.81 185.00,320.72 186.00,320.95 187.00,320.40 188.00,321.04 189.00,320.35 190.00,320.20 191.00,320.32 192.00,320.15 193.00,319.91 194.00,320.49 195.00,321.21 196.00,320.85 197.00,320.55 198.00,320.85 199.00,320.50 200.00,320.50 201.00,320.85 202.00,320.74 203.00,320.35 204.00,320.02 205.00,320.38 206.00,321.14" fill="none" stroke="#7a7a7a" stroke-width="0.5" stroke-linejoin="round" />
<line x1="89.40" y1="285.20" x2="89.40" y2="321.00" stroke="#888" stroke-width="0.6" />
<line x1="89.40" y1="298.40" x2="206.70" y2="298.40" stroke="#555" stroke-width="0.8" />
<line x1="76.00" y1="298.50" x2="89.40" y2="298.50" stroke="#333" stroke-width="0.9" />
<line x1="206.70" y1="298.80" x2="221.60" y2="298.80" stroke="#222" stroke-width="1.0" />
<line x1="221.40" y1="255.70" x2="221.40" y2="289.40" stroke="#222" stroke-width="1.0" />
<circle cx="221.4" cy="255.7" r="1.4" fill="#111"/>
<circle cx="221.4" cy="289.4" r="1.4" fill="#111"/>
<text x="225.60" y="278.58" font-size="10" text-anchor="start" font-weight="normal" fill="#111" >1 nA</text>
<line x1="39.40" y1="297.20" x2="39.40" y2="404.80" stroke="#7c7c7c" stroke-width="1.0" />
<line x1="37.60" y1="404.50" x2="39.40" y2="404.50" stroke="#5c5c5c" stroke-width="1.0" />
<text transform="translate(33.80,407.54) scale(0.93,1.06)" font-size="8.0" text-anchor="end" class="t">0</text>
<line x1="37.60" y1="377.77" x2="39.40" y2="377.77" stroke="#5c5c5c" stroke-width="1.0" />
<text transform="translate(33.80,380.81) scale(0.93,1.06)" font-size="8.0" text-anchor="end" class="t">20</text>
<line x1="37.60" y1="351.05" x2="39.40" y2="351.05" stroke="#5c5c5c" stroke-width="1.0" />
<text transform="translate(33.80,354.09) scale(0.93,1.06)" font-size="8.0" text-anchor="end" class="t">40</text>
<line x1="37.60" y1="324.33" x2="39.40" y2="324.33" stroke="#5c5c5c" stroke-width="1.0" />
<text transform="translate(33.80,327.36) scale(0.93,1.06)" font-size="8.0" text-anchor="end" class="t">60</text>
<line x1="37.60" y1="297.60" x2="39.40" y2="297.60" stroke="#5c5c5c" stroke-width="1.0" />
<text transform="translate(33.80,300.64) scale(0.93,1.06)" font-size="8.0" text-anchor="end" class="t">80</text>
<line x1="65.52" y1="394.48" x2="65.52" y2="391.54" stroke="#555" stroke-width="0.8" />
<line x1="64.02" y1="391.54" x2="67.02" y2="391.54" stroke="#555" stroke-width="0.8" />
<rect x="59.60" y="394.48" width="11.85" height="10.02" fill="#000000" stroke="#000" stroke-width="0.6"/>
<line x1="77.97" y1="400.22" x2="77.97" y2="397.15" stroke="#555" stroke-width="0.8" />
<line x1="76.47" y1="397.15" x2="79.47" y2="397.15" stroke="#555" stroke-width="0.8" />
<rect x="72.05" y="400.22" width="11.85" height="4.28" fill="#c8c8c8" stroke="#7a7a7a" stroke-width="0.6"/>
<line x1="90.42" y1="401.43" x2="90.42" y2="400.22" stroke="#555" stroke-width="0.8" />
<line x1="88.92" y1="400.22" x2="91.92" y2="400.22" stroke="#555" stroke-width="0.8" />
<rect x="84.50" y="401.43" width="11.85" height="3.07" fill="#6a6a6a" stroke="#444" stroke-width="0.6"/>
<line x1="139.32" y1="394.75" x2="139.32" y2="387.80" stroke="#555" stroke-width="0.8" />
<line x1="137.82" y1="387.80" x2="140.82" y2="387.80" stroke="#555" stroke-width="0.8" />
<rect x="133.40" y="394.75" width="11.85" height="9.75" fill="#000000" stroke="#000" stroke-width="0.6"/>
<line x1="151.77" y1="390.20" x2="151.77" y2="385.53" stroke="#555" stroke-width="0.8" />
<line x1="150.27" y1="385.53" x2="153.27" y2="385.53" stroke="#555" stroke-width="0.8" />
<rect x="145.85" y="390.20" width="11.85" height="14.30" fill="#c8c8c8" stroke="#7a7a7a" stroke-width="0.6"/>
<line x1="164.22" y1="380.05" x2="164.22" y2="372.96" stroke="#555" stroke-width="0.8" />
<line x1="162.72" y1="372.96" x2="165.72" y2="372.96" stroke="#555" stroke-width="0.8" />
<rect x="158.30" y="380.05" width="11.85" height="24.45" fill="#6a6a6a" stroke="#444" stroke-width="0.6"/>
<line x1="213.12" y1="370.69" x2="213.12" y2="365.08" stroke="#555" stroke-width="0.8" />
<line x1="211.62" y1="365.08" x2="214.62" y2="365.08" stroke="#555" stroke-width="0.8" />
<rect x="207.20" y="370.69" width="11.85" height="33.81" fill="#000000" stroke="#000" stroke-width="0.6"/>
<line x1="225.57" y1="358.53" x2="225.57" y2="354.12" stroke="#555" stroke-width="0.8" />
<line x1="224.07" y1="354.12" x2="227.07" y2="354.12" stroke="#555" stroke-width="0.8" />
<rect x="219.65" y="358.53" width="11.85" height="45.97" fill="#c8c8c8" stroke="#7a7a7a" stroke-width="0.6"/>
<line x1="238.03" y1="339.29" x2="238.03" y2="330.74" stroke="#555" stroke-width="0.8" />
<line x1="236.53" y1="330.74" x2="239.53" y2="330.74" stroke="#555" stroke-width="0.8" />
<rect x="232.10" y="339.29" width="11.85" height="65.21" fill="#6a6a6a" stroke="#444" stroke-width="0.6"/>
<line x1="55.80" y1="404.50" x2="247.70" y2="404.50" stroke="#444" stroke-width="0.9" />
<line x1="77.97" y1="404.50" x2="77.97" y2="405.90" stroke="#444" stroke-width="0.7" />
<line x1="151.77" y1="404.50" x2="151.77" y2="405.90" stroke="#444" stroke-width="0.7" />
<line x1="225.57" y1="404.50" x2="225.57" y2="405.90" stroke="#444" stroke-width="0.7" />
<text x="55.00" y="359.25" font-size="10.2" text-anchor="start" font-weight="normal" fill="#111" >Inward</text>
<line x1="39.40" y1="418.20" x2="39.40" y2="525.80" stroke="#7c7c7c" stroke-width="1.0" />
<line x1="37.60" y1="525.50" x2="39.40" y2="525.50" stroke="#5c5c5c" stroke-width="1.0" />
<text transform="translate(33.80,528.54) scale(0.93,1.06)" font-size="8.0" text-anchor="end" class="t">0</text>
<line x1="37.60" y1="498.77" x2="39.40" y2="498.77" stroke="#5c5c5c" stroke-width="1.0" />
<text transform="translate(33.80,501.81) scale(0.93,1.06)" font-size="8.0" text-anchor="end" class="t">20</text>
<line x1="37.60" y1="472.05" x2="39.40" y2="472.05" stroke="#5c5c5c" stroke-width="1.0" />
<text transform="translate(33.80,475.09) scale(0.93,1.06)" font-size="8.0" text-anchor="end" class="t">40</text>
<line x1="37.60" y1="445.33" x2="39.40" y2="445.33" stroke="#5c5c5c" stroke-width="1.0" />
<text transform="translate(33.80,448.36) scale(0.93,1.06)" font-size="8.0" text-anchor="end" class="t">60</text>
<line x1="37.60" y1="418.60" x2="39.40" y2="418.60" stroke="#5c5c5c" stroke-width="1.0" />
<text transform="translate(33.80,421.64) scale(0.93,1.06)" font-size="8.0" text-anchor="end" class="t">80</text>
<line x1="65.52" y1="490.36" x2="65.52" y2="485.41" stroke="#555" stroke-width="0.8" />
<line x1="64.02" y1="485.41" x2="67.02" y2="485.41" stroke="#555" stroke-width="0.8" />
<rect x="59.60" y="490.36" width="11.85" height="35.14" fill="#000000" stroke="#000" stroke-width="0.6"/>
<line x1="77.97" y1="503.72" x2="77.97" y2="498.91" stroke="#555" stroke-width="0.8" />
<line x1="76.47" y1="498.91" x2="79.47" y2="498.91" stroke="#555" stroke-width="0.8" />
<rect x="72.05" y="503.72" width="11.85" height="21.78" fill="#c8c8c8" stroke="#7a7a7a" stroke-width="0.6"/>
<line x1="90.42" y1="509.47" x2="90.42" y2="506.39" stroke="#555" stroke-width="0.8" />
<line x1="88.92" y1="506.39" x2="91.92" y2="506.39" stroke="#555" stroke-width="0.8" />
<rect x="84.50" y="509.47" width="11.85" height="16.03" fill="#6a6a6a" stroke="#444" stroke-width="0.6"/>
<line x1="139.32" y1="499.18" x2="139.32" y2="491.96" stroke="#555" stroke-width="0.8" />
<line x1="137.82" y1="491.96" x2="140.82" y2="491.96" stroke="#555" stroke-width="0.8" />
<rect x="133.40" y="499.18" width="11.85" height="26.32" fill="#000000" stroke="#000" stroke-width="0.6"/>
<line x1="151.77" y1="483.14" x2="151.77" y2="471.92" stroke="#555" stroke-width="0.8" />
<line x1="150.27" y1="471.92" x2="153.27" y2="471.92" stroke="#555" stroke-width="0.8" />
<rect x="145.85" y="483.14" width="11.85" height="42.36" fill="#c8c8c8" stroke="#7a7a7a" stroke-width="0.6"/>
<line x1="164.22" y1="494.37" x2="164.22" y2="489.55" stroke="#555" stroke-width="0.8" />
<line x1="162.72" y1="489.55" x2="165.72" y2="489.55" stroke="#555" stroke-width="0.8" />
<rect x="158.30" y="494.37" width="11.85" height="31.13" fill="#6a6a6a" stroke="#444" stroke-width="0.6"/>
<line x1="213.12" y1="468.98" x2="213.12" y2="460.02" stroke="#555" stroke-width="0.8" />
<line x1="211.62" y1="460.02" x2="214.62" y2="460.02" stroke="#555" stroke-width="0.8" />
<rect x="207.20" y="468.98" width="11.85" height="56.52" fill="#000000" stroke="#000" stroke-width="0.6"/>
<line x1="225.57" y1="448.93" x2="225.57" y2="443.59" stroke="#555" stroke-width="0.8" />
<line x1="224.07" y1="443.59" x2="227.07" y2="443.59" stroke="#555" stroke-width="0.8" />
<rect x="219.65" y="448.93" width="11.85" height="76.57" fill="#c8c8c8" stroke="#7a7a7a" stroke-width="0.6"/>
<line x1="238.03" y1="440.92" x2="238.03" y2="431.83" stroke="#555" stroke-width="0.8" />
<line x1="236.53" y1="431.83" x2="239.53" y2="431.83" stroke="#555" stroke-width="0.8" />
<rect x="232.10" y="440.92" width="11.85" height="84.58" fill="#6a6a6a" stroke="#444" stroke-width="0.6"/>
<line x1="55.80" y1="525.50" x2="247.70" y2="525.50" stroke="#444" stroke-width="0.9" />
<line x1="77.97" y1="525.50" x2="77.97" y2="526.90" stroke="#444" stroke-width="0.7" />
<line x1="151.77" y1="525.50" x2="151.77" y2="526.90" stroke="#444" stroke-width="0.7" />
<line x1="225.57" y1="525.50" x2="225.57" y2="526.90" stroke="#444" stroke-width="0.7" />
<text x="55.70" y="478.97" font-size="9.7" text-anchor="start" font-weight="normal" fill="#111" >Outward</text>
<text x="55.40" y="464.25" font-size="15.5" text-anchor="start" font-weight="normal" fill="#111" >H</text>
<text transform="translate(15.4,351.3) rotate(-90)" font-size="12" text-anchor="middle" fill="#111">% inhibition</text>
<rect x="93.8" y="423.80" width="18.7" height="3.8" fill="#000000" stroke="#000" stroke-width="0.5"/>
<text x="116.90" y="428.67" font-size="8.3" text-anchor="start" font-weight="normal" fill="#111" >PK11195</text>
<rect x="93.8" y="434.30" width="18.7" height="3.8" fill="#c8c8c8" stroke="#7a7a7a" stroke-width="0.5"/>
<text x="116.90" y="439.17" font-size="8.3" text-anchor="start" font-weight="normal" fill="#111" >Ro5-4864</text>
<rect x="93.8" y="444.80" width="18.7" height="3.8" fill="#6a6a6a" stroke="#444" stroke-width="0.5"/>
<text x="116.90" y="449.67" font-size="8.3" text-anchor="start" font-weight="normal" fill="#111" >Diazepam</text>
<text transform="translate(77.97,538.84) scale(0.93,1.06)" font-size="8.0" text-anchor="middle" class="t">1</text>
<text transform="translate(151.77,538.84) scale(0.93,1.06)" font-size="8.0" text-anchor="middle" class="t">10</text>
<text transform="translate(225.57,538.84) scale(0.93,1.06)" font-size="8.0" text-anchor="middle" class="t">100</text>
<text x="145.00" y="556.20" font-size="12" text-anchor="start" font-weight="normal" fill="#111" >Concentration (μM)</text>
</svg>
</body></html>
